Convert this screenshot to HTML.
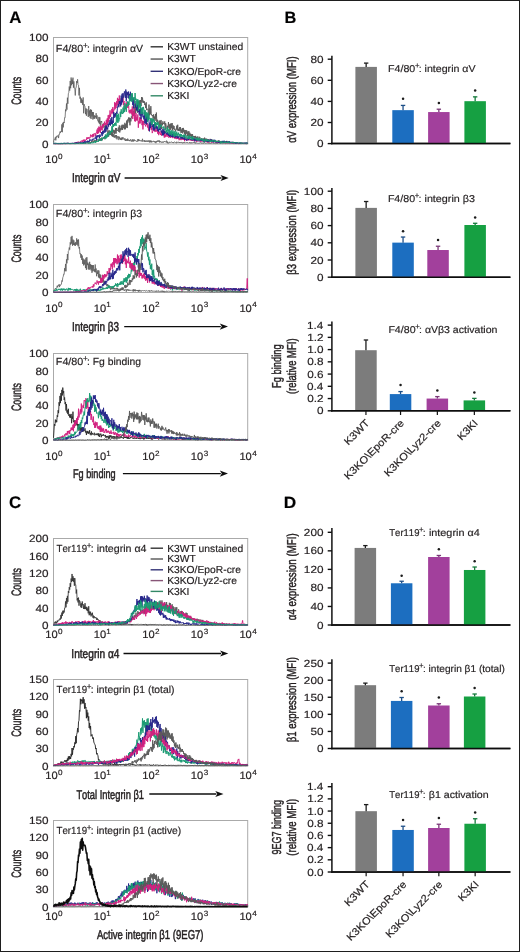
<!DOCTYPE html>
<html><head><meta charset="utf-8"><style>
html,body{margin:0;padding:0;background:#fff;}
svg{display:block;}
text{font-family:"Liberation Sans",sans-serif;font-kerning:none;text-rendering:geometricPrecision;}
text:not([stroke]){stroke:#231f20;stroke-width:0.18px;}
</style></head><body>
<svg width="520" height="952" viewBox="0 0 520 952">
<defs><filter id="soft" x="0" y="0" width="100%" height="100%" filterUnits="userSpaceOnUse"><feGaussianBlur stdDeviation="0.35"/></filter></defs>
<rect width="520" height="952" fill="#fff"/>
<g filter="url(#soft)">
<rect width="520" height="952" fill="#fff"/>
<text transform="translate(9.18,23.00) scale(1.0076,1)" font-size="16.715" font-weight="bold" fill="#000">A</text><text transform="translate(284.50,23.30) scale(1.0072,1)" font-size="16.279" font-weight="bold" fill="#000">B</text><text transform="translate(9.11,508.00) scale(0.9978,1)" font-size="16.861" font-weight="bold" fill="#000">C</text><text transform="translate(283.84,507.90) scale(1.0617,1)" font-size="16.279" font-weight="bold" fill="#000">D</text><rect x="53.5" y="37.5" width="194.2" height="106.5" fill="none" stroke="#aaaaaa" stroke-width="1"/><text transform="translate(41.94,147.60) scale(1.1200,1)" font-size="10.465" fill="#231f20">0</text><text transform="translate(35.42,126.30) scale(1.1200,1)" font-size="10.465" fill="#231f20">20</text><text transform="translate(35.42,105.00) scale(1.1200,1)" font-size="10.465" fill="#231f20">40</text><text transform="translate(35.42,83.70) scale(1.1200,1)" font-size="10.465" fill="#231f20">60</text><text transform="translate(35.42,62.40) scale(1.1200,1)" font-size="10.465" fill="#231f20">80</text><text transform="translate(28.90,41.10) scale(1.1200,1)" font-size="10.465" fill="#231f20">100</text><text transform="translate(45.20,163.10) scale(1.0500,1)" font-size="10.611" fill="#231f20">10</text><text transform="translate(58.03,158.60) scale(1.0600,1)" font-size="7.704" fill="#231f20">0</text><text transform="translate(93.75,163.10) scale(1.0500,1)" font-size="10.611" fill="#231f20">10</text><text transform="translate(106.28,158.60) scale(1.0600,1)" font-size="7.704" fill="#231f20">1</text><text transform="translate(142.30,163.10) scale(1.0500,1)" font-size="10.611" fill="#231f20">10</text><text transform="translate(155.04,158.60) scale(1.0600,1)" font-size="7.704" fill="#231f20">2</text><text transform="translate(190.85,163.10) scale(1.0500,1)" font-size="10.611" fill="#231f20">10</text><text transform="translate(203.69,158.60) scale(1.0600,1)" font-size="7.704" fill="#231f20">3</text><text transform="translate(239.40,163.10) scale(1.0500,1)" font-size="10.611" fill="#231f20">10</text><text transform="translate(252.36,158.60) scale(1.0600,1)" font-size="7.704" fill="#231f20">4</text><text transform="translate(55.82,52.30) scale(1.0422,1)" font-size="10.320" fill="#231f20">F4/80</text><text x="83.01" y="48.17" font-size="8.050" fill="#231f20">+</text><text transform="translate(86.96,52.30) scale(1.0125,1)" font-size="10.320" fill="#231f20">: integrin αV</text><line x1="150.6" y1="46.80" x2="163.0" y2="46.80" stroke="#333333" stroke-width="1.4"/><text transform="translate(167.15,50.20) scale(1.0132,1)" font-size="10.175" fill="#231f20">K3WT unstained</text><line x1="150.6" y1="59.05" x2="163.0" y2="59.05" stroke="#555555" stroke-width="1.4"/><text transform="translate(167.15,62.45) scale(1.0132,1)" font-size="10.175" fill="#231f20">K3WT</text><line x1="150.6" y1="71.30" x2="163.0" y2="71.30" stroke="#333377" stroke-width="1.4"/><text transform="translate(167.15,74.70) scale(1.0132,1)" font-size="10.175" fill="#231f20">K3KO/EpoR-cre</text><line x1="150.6" y1="83.55" x2="163.0" y2="83.55" stroke="#885577" stroke-width="1.4"/><text transform="translate(167.15,86.95) scale(1.0132,1)" font-size="10.175" fill="#231f20">K3KO/Lyz2-cre</text><line x1="150.6" y1="95.80" x2="163.0" y2="95.80" stroke="#338866" stroke-width="1.4"/><text transform="translate(167.15,99.20) scale(1.0132,1)" font-size="10.175" fill="#231f20">K3KI</text><text transform="translate(71.88,181.90) scale(0.7815,1)" font-size="12.791" fill="#231f20" stroke="#231f20" stroke-width="0.5">Integrin αV</text><line x1="124.6" y1="178.0" x2="221.5" y2="178.0" stroke="#111" stroke-width="1.3"/><path d="M228.7,178.0 L220.5,174.9 L222.5,178.0 L220.5,181.1 Z" fill="#111"/><text transform="translate(21.00,104.80) rotate(-90) scale(0.6460,1)" font-size="13.663" fill="#231f20" stroke="#231f20" stroke-width="0.5">Counts</text><path d="M53.50,142.57 L53.96,140.31 L54.43,139.05 L54.89,139.40 L55.35,137.24 L55.82,140.39 L56.28,136.35 L56.74,137.41 L57.21,135.73 L57.67,136.31 L58.13,135.42 L58.60,138.08 L59.06,134.01 L59.53,134.25 L59.99,131.66 L60.45,132.72 L60.92,131.26 L61.38,131.94 L61.84,124.36 L62.31,132.24 L62.77,122.80 L63.23,127.41 L63.70,121.93 L64.16,123.02 L64.62,117.63 L65.09,117.81 L65.55,109.54 L66.01,111.21 L66.48,103.51 L66.94,109.66 L67.40,97.69 L67.87,103.80 L68.33,93.75 L68.79,92.65 L69.26,86.52 L69.72,90.63 L70.19,80.95 L70.65,88.26 L71.11,77.49 L71.58,85.24 L72.04,79.54 L72.50,83.90 L72.97,77.63 L73.43,87.67 L73.89,81.39 L74.36,88.32 L74.82,89.11 L75.28,95.47 L75.75,87.71 L76.21,87.54 L76.67,81.10 L77.14,83.03 L77.60,79.29 L78.06,84.64 L78.53,85.10 L78.99,95.43 L79.46,87.86 L79.92,98.64 L80.38,96.77 L80.85,102.78 L81.31,98.36 L81.77,103.12 L82.24,99.77 L82.70,104.88 L83.16,97.41 L83.63,113.28 L84.09,104.11 L84.55,105.63 L85.02,106.66 L85.48,114.19 L85.94,108.30 L86.41,115.75 L86.87,108.92 L87.33,110.98 L87.80,111.85 L88.26,117.03 L88.72,106.02 L89.19,116.05 L89.65,110.39 L90.12,117.83 L90.58,109.33 L91.04,118.96 L91.51,109.86 L91.97,116.44 L92.43,111.97 L92.90,119.54 L93.36,112.13 L93.82,118.70 L94.29,115.29 L94.75,118.85 L95.21,115.86 L95.68,117.39 L96.14,113.18 L96.60,118.77 L97.07,115.40 L97.53,120.27 L97.99,120.00 L98.46,122.45 L98.92,116.90 L99.38,123.84 L99.85,117.29 L100.31,125.65 L100.78,121.27 L101.24,122.27 L101.70,121.04 L102.17,126.81 L102.63,125.26 L103.09,128.19 L103.56,123.35 L104.02,126.48 L104.48,126.02 L104.95,128.63 L105.41,124.65 L105.87,130.85 L106.34,126.97 L106.80,129.18 L107.26,129.96 L107.73,134.54 L108.19,130.58 L108.65,133.86 L109.12,130.07 L109.58,133.14 L110.05,130.82 L110.51,134.70 L110.97,131.38 L111.44,135.02 L111.90,132.56 L112.36,136.04 L112.83,134.22 L113.29,137.01 L113.75,134.15 L114.22,137.77 L114.68,135.40 L115.14,137.27 L115.61,135.09 L116.07,138.40 L116.53,135.05 L117.00,139.43 L117.46,136.41 L117.92,137.50 L118.39,136.39 L118.85,140.09 L119.31,136.67 L119.78,138.76 L120.24,137.93 L120.71,140.02 L121.17,137.71 L121.63,140.08 L122.10,137.34 L122.56,139.38 L123.02,137.22 L123.49,139.26 L123.95,139.69 L124.41,139.90 L124.88,138.17 L125.34,140.97 L125.80,139.33 L126.27,140.74 L126.73,139.21 L127.19,141.03 L127.66,138.59 L128.12,140.58 L128.58,139.66 L129.05,141.03 L129.51,140.14 L129.97,141.23 L130.44,139.31 L130.90,140.73 L131.37,140.33 L131.83,141.75 L132.29,139.34 L132.76,141.39 L133.22,139.64 L133.68,141.50 L134.15,139.33 L134.61,140.83 L135.07,140.28 L135.54,140.81 L136.00,140.46 L136.46,141.55 L136.93,141.10 L137.39,141.64 L137.85,139.06 L138.32,141.22 L138.78,139.09 L139.24,140.88 L139.71,140.22 L140.17,141.17 L140.64,140.48 L141.10,141.20 L141.56,140.52 L142.03,141.52 L142.49,138.80 L142.95,141.58 L143.42,140.71 L143.88,141.19 L144.34,140.10 L144.81,142.03 L145.27,140.64 L145.73,141.75 L146.20,140.67 L146.66,141.64 L147.12,140.51 L147.59,141.76 L148.05,140.78 L148.51,141.60 L148.98,140.23 L149.44,142.41 L149.90,140.68 L150.37,142.22 L150.83,140.38 L151.30,142.48 L151.76,140.94 L152.22,142.08 L152.69,141.66 L153.15,141.83 L153.61,140.84 L154.08,142.00 L154.54,141.28 L155.00,142.62 L155.47,141.44 L155.93,143.20 L156.39,141.20 L156.86,142.04 L157.32,140.60 L157.78,141.74 L158.25,140.57 L158.71,141.63 L159.17,140.28 L159.64,142.48 L160.10,141.03 L160.56,142.10 L161.03,142.44 L161.49,142.57 L161.96,141.51 L162.42,142.53 L162.88,141.80 L163.35,142.59 L163.81,141.50 L164.27,142.06 L164.74,141.28 L165.20,142.01 L165.66,141.84 L166.13,142.24 L166.59,140.64 L167.05,143.04 L167.52,141.65 L167.98,143.42 L168.44,142.85 L168.91,143.24 L169.37,141.85 L169.83,142.49 L170.30,141.93 L170.76,142.49 L171.23,141.84 L171.69,142.05 L172.15,142.29 L172.62,142.98 L173.08,142.09 L173.54,143.11 L174.01,142.17 L174.47,141.95 L174.93,142.13 L175.40,142.52 L175.86,142.59 L176.32,143.24 L176.79,141.72 L177.25,142.49 L177.71,142.39 L178.18,142.06 L178.64,142.07 L179.10,142.97 L179.57,142.11 L180.03,142.94 L180.49,142.52 L180.96,142.95 L181.42,141.96 L181.89,142.78 L182.35,142.58 L182.81,143.41 L183.28,142.18 L183.74,142.69 L184.20,142.02 L184.67,142.99 L185.13,142.66 L185.59,142.75 L186.06,142.38 L186.52,142.79 L186.98,142.03 L187.45,142.84 L187.91,142.65 L188.37,143.26 L188.84,142.70 L189.30,142.96 L189.76,142.16 L190.23,143.32 L190.69,142.51 L191.15,143.24 L191.62,142.46 L192.08,143.29 L192.55,142.63 L193.01,142.87 L193.47,142.33 L193.94,143.09 L194.40,142.29 L194.86,143.26 L195.33,142.37 L195.79,143.48 L196.25,142.75 L196.72,142.90 L197.18,142.87 L197.64,143.37 L198.11,142.87 L198.57,143.38 L199.03,142.74 L199.50,143.19 L199.96,142.91 L200.42,142.76 L200.89,142.32 L201.35,143.47 L201.82,142.72 L202.28,143.24 L202.74,142.87 L203.21,143.54 L203.67,142.64 L204.13,143.29 L204.60,142.41 L205.06,143.27 L205.52,142.99 L205.99,143.50 L206.45,142.81 L206.91,143.04 L207.38,143.03 L207.84,143.20 L208.30,142.49 L208.77,143.58 L209.23,142.50 L209.69,143.46 L210.16,142.82 L210.62,143.47 L211.08,142.88 L211.55,143.39 L212.01,142.78 L212.48,142.88 L212.94,143.27 L213.40,143.49 L213.87,143.19 L214.33,143.38 L214.79,143.11 L215.26,143.52 L215.72,143.04 L216.18,143.52 L216.65,142.81 L217.11,143.66 L217.57,143.11 L218.04,143.35 L218.50,142.75 L218.96,143.58 L219.43,143.24 L219.89,143.31 L220.35,143.08 L220.82,143.70 L221.28,142.83 L221.74,143.36 L222.21,143.17 L222.67,143.57 L223.14,143.11 L223.60,143.63 L224.06,143.13 L224.53,143.40 L224.99,143.25 L225.45,143.70 L225.92,142.86 L226.38,143.52 L226.84,143.01 L227.31,143.45 L227.77,143.46 L228.23,143.49 L228.70,143.31 L229.16,143.70 L229.62,143.25 L230.09,143.63 L230.55,143.20 L231.01,143.35 L231.48,143.09 L231.94,143.56 L232.41,143.27 L232.87,143.52 L233.33,143.39 L233.80,143.70 L234.26,143.30 L234.72,143.60 L235.19,143.36 L235.65,143.56 L236.11,143.25 L236.58,143.70 L237.04,143.20 L237.50,143.44 L237.97,143.21 L238.43,143.70 L238.89,143.57 L239.36,143.70 L239.82,143.21 L240.28,143.64 L240.75,143.34 L241.21,143.70 L241.67,143.33 L242.14,143.48 L242.60,143.32 L243.07,143.70 L243.53,143.04 L243.99,143.59 L244.46,143.52 L244.92,143.52 L245.38,143.31 L245.85,143.49 L246.31,143.25 L246.77,143.70 L247.24,143.28 L247.70,143.70" fill="none" stroke="#555" stroke-width="0.75" stroke-linejoin="round" opacity="1.0"/><path d="M53.50,143.70 L53.96,143.70 L54.43,143.58 L54.89,143.70 L55.35,143.70 L55.82,143.70 L56.28,143.62 L56.74,143.70 L57.21,143.65 L57.67,143.70 L58.13,143.69 L58.60,143.70 L59.06,143.58 L59.53,143.70 L59.99,143.66 L60.45,143.70 L60.92,143.66 L61.38,143.70 L61.84,143.55 L62.31,143.70 L62.77,143.60 L63.23,143.70 L63.70,143.64 L64.16,143.70 L64.62,143.59 L65.09,143.70 L65.55,143.64 L66.01,143.67 L66.48,143.57 L66.94,143.70 L67.40,143.43 L67.87,143.70 L68.33,143.47 L68.79,143.70 L69.26,143.64 L69.72,143.68 L70.19,143.42 L70.65,143.70 L71.11,143.49 L71.58,143.66 L72.04,143.47 L72.50,143.62 L72.97,143.60 L73.43,143.63 L73.89,143.57 L74.36,143.69 L74.82,143.46 L75.28,143.70 L75.75,143.55 L76.21,143.65 L76.67,143.35 L77.14,143.52 L77.60,143.43 L78.06,143.65 L78.53,143.36 L78.99,143.57 L79.46,143.36 L79.92,143.70 L80.38,143.33 L80.85,143.41 L81.31,143.06 L81.77,143.49 L82.24,143.22 L82.70,143.48 L83.16,143.34 L83.63,143.12 L84.09,143.08 L84.55,143.53 L85.02,142.90 L85.48,143.54 L85.94,142.69 L86.41,142.92 L86.87,142.46 L87.33,143.15 L87.80,142.37 L88.26,143.46 L88.72,142.28 L89.19,142.20 L89.65,142.00 L90.12,143.27 L90.58,141.99 L91.04,143.01 L91.51,140.95 L91.97,142.06 L92.43,140.38 L92.90,141.49 L93.36,140.75 L93.82,141.87 L94.29,140.20 L94.75,141.95 L95.21,140.44 L95.68,142.21 L96.14,139.76 L96.60,141.42 L97.07,139.64 L97.53,139.89 L97.99,139.83 L98.46,141.13 L98.92,139.69 L99.38,140.95 L99.85,138.36 L100.31,140.86 L100.78,138.31 L101.24,139.89 L101.70,137.55 L102.17,140.42 L102.63,138.70 L103.09,138.49 L103.56,138.27 L104.02,138.44 L104.48,136.12 L104.95,139.30 L105.41,136.25 L105.87,137.10 L106.34,136.24 L106.80,136.44 L107.26,133.74 L107.73,136.67 L108.19,134.28 L108.65,136.52 L109.12,133.89 L109.58,134.97 L110.05,132.41 L110.51,134.88 L110.97,132.12 L111.44,135.58 L111.90,132.27 L112.36,136.59 L112.83,131.42 L113.29,132.60 L113.75,129.73 L114.22,134.31 L114.68,130.36 L115.14,133.30 L115.61,128.06 L116.07,133.67 L116.53,128.10 L117.00,130.96 L117.46,130.11 L117.92,130.61 L118.39,127.51 L118.85,131.91 L119.31,125.37 L119.78,132.46 L120.24,128.12 L120.71,130.37 L121.17,125.67 L121.63,129.70 L122.10,124.74 L122.56,130.00 L123.02,124.87 L123.49,128.10 L123.95,124.74 L124.41,129.32 L124.88,122.81 L125.34,129.29 L125.80,124.08 L126.27,127.50 L126.73,120.55 L127.19,128.05 L127.66,119.54 L128.12,120.78 L128.58,117.51 L129.05,122.51 L129.51,117.68 L129.97,125.31 L130.44,117.97 L130.90,121.42 L131.37,116.53 L131.83,117.58 L132.29,113.46 L132.76,116.16 L133.22,111.22 L133.68,115.44 L134.15,107.30 L134.61,114.33 L135.07,103.63 L135.54,113.48 L136.00,108.52 L136.46,110.38 L136.93,104.90 L137.39,112.68 L137.85,101.54 L138.32,107.75 L138.78,100.94 L139.24,106.02 L139.71,100.29 L140.17,104.67 L140.64,100.02 L141.10,106.03 L141.56,97.01 L142.03,101.83 L142.49,97.52 L142.95,102.77 L143.42,100.78 L143.88,103.02 L144.34,101.31 L144.81,105.06 L145.27,103.55 L145.73,108.11 L146.20,102.29 L146.66,110.10 L147.12,109.04 L147.59,109.16 L148.05,109.18 L148.51,118.32 L148.98,104.59 L149.44,115.29 L149.90,108.41 L150.37,114.41 L150.83,106.16 L151.30,113.71 L151.76,115.27 L152.22,116.14 L152.69,114.98 L153.15,118.50 L153.61,114.38 L154.08,120.61 L154.54,116.63 L155.00,118.86 L155.47,114.06 L155.93,120.83 L156.39,112.56 L156.86,122.06 L157.32,119.73 L157.78,122.05 L158.25,123.14 L158.71,123.41 L159.17,120.46 L159.64,127.37 L160.10,120.93 L160.56,127.59 L161.03,119.97 L161.49,129.16 L161.96,122.97 L162.42,125.16 L162.88,121.32 L163.35,123.75 L163.81,123.09 L164.27,124.39 L164.74,121.36 L165.20,129.34 L165.66,123.18 L166.13,125.24 L166.59,126.40 L167.05,129.58 L167.52,125.80 L167.98,128.53 L168.44,122.13 L168.91,127.58 L169.37,124.44 L169.83,130.24 L170.30,123.70 L170.76,129.82 L171.23,123.44 L171.69,128.20 L172.15,123.03 L172.62,130.51 L173.08,125.37 L173.54,129.14 L174.01,125.98 L174.47,129.64 L174.93,128.79 L175.40,131.50 L175.86,129.39 L176.32,129.69 L176.79,125.64 L177.25,130.28 L177.71,124.76 L178.18,130.99 L178.64,128.89 L179.10,131.12 L179.57,127.24 L180.03,131.15 L180.49,127.21 L180.96,132.82 L181.42,129.56 L181.89,132.72 L182.35,128.00 L182.81,133.41 L183.28,127.92 L183.74,131.92 L184.20,129.84 L184.67,133.97 L185.13,130.11 L185.59,135.54 L186.06,130.00 L186.52,133.66 L186.98,130.81 L187.45,136.01 L187.91,131.96 L188.37,136.01 L188.84,131.07 L189.30,137.12 L189.76,132.65 L190.23,136.02 L190.69,133.83 L191.15,138.46 L191.62,134.23 L192.08,137.55 L192.55,134.20 L193.01,137.61 L193.47,136.14 L193.94,137.07 L194.40,136.02 L194.86,138.77 L195.33,135.86 L195.79,138.43 L196.25,137.04 L196.72,138.94 L197.18,136.36 L197.64,138.73 L198.11,138.69 L198.57,138.89 L199.03,136.63 L199.50,138.54 L199.96,137.37 L200.42,140.90 L200.89,138.94 L201.35,139.84 L201.82,138.15 L202.28,140.05 L202.74,138.82 L203.21,140.50 L203.67,138.49 L204.13,139.81 L204.60,137.61 L205.06,141.08 L205.52,138.66 L205.99,140.92 L206.45,138.70 L206.91,140.44 L207.38,138.95 L207.84,140.62 L208.30,139.50 L208.77,141.05 L209.23,139.77 L209.69,140.57 L210.16,138.86 L210.62,140.45 L211.08,139.60 L211.55,140.63 L212.01,139.53 L212.48,141.04 L212.94,139.97 L213.40,141.75 L213.87,140.54 L214.33,141.64 L214.79,140.12 L215.26,141.43 L215.72,140.74 L216.18,141.83 L216.65,141.00 L217.11,141.26 L217.57,140.91 L218.04,142.26 L218.50,140.40 L218.96,141.75 L219.43,140.99 L219.89,141.14 L220.35,141.33 L220.82,142.18 L221.28,141.14 L221.74,142.06 L222.21,141.02 L222.67,142.66 L223.14,141.54 L223.60,142.14 L224.06,141.03 L224.53,142.17 L224.99,141.07 L225.45,142.24 L225.92,141.47 L226.38,142.83 L226.84,140.86 L227.31,142.53 L227.77,141.64 L228.23,142.46 L228.70,141.45 L229.16,143.12 L229.62,141.93 L230.09,143.04 L230.55,142.16 L231.01,143.32 L231.48,143.05 L231.94,143.12 L232.41,141.83 L232.87,143.11 L233.33,142.35 L233.80,143.10 L234.26,142.19 L234.72,143.21 L235.19,142.61 L235.65,143.11 L236.11,142.39 L236.58,143.14 L237.04,142.68 L237.50,143.62 L237.97,143.08 L238.43,143.40 L238.89,142.96 L239.36,143.57 L239.82,142.86 L240.28,143.25 L240.75,142.63 L241.21,143.67 L241.67,143.09 L242.14,143.17 L242.60,143.21 L243.07,143.52 L243.53,143.39 L243.99,143.42 L244.46,143.41 L244.92,143.51 L245.38,143.23 L245.85,143.63 L246.31,143.52 L246.77,143.67 L247.24,143.37 L247.70,143.55" fill="none" stroke="#5a5a5a" stroke-width="0.95" stroke-linejoin="round" opacity="1.0"/><path d="M53.50,143.63 L53.96,143.70 L54.43,143.70 L54.89,143.70 L55.35,143.70 L55.82,143.70 L56.28,143.68 L56.74,143.70 L57.21,143.70 L57.67,143.70 L58.13,143.61 L58.60,143.70 L59.06,143.57 L59.53,143.70 L59.99,143.58 L60.45,143.70 L60.92,143.51 L61.38,143.70 L61.84,143.60 L62.31,143.70 L62.77,143.66 L63.23,143.70 L63.70,143.45 L64.16,143.70 L64.62,143.47 L65.09,143.70 L65.55,143.65 L66.01,143.70 L66.48,143.58 L66.94,143.67 L67.40,143.25 L67.87,143.43 L68.33,143.40 L68.79,143.62 L69.26,143.42 L69.72,143.48 L70.19,143.46 L70.65,143.68 L71.11,143.28 L71.58,143.50 L72.04,143.12 L72.50,143.70 L72.97,143.02 L73.43,143.39 L73.89,142.86 L74.36,143.15 L74.82,142.94 L75.28,143.16 L75.75,142.25 L76.21,143.33 L76.67,141.97 L77.14,142.82 L77.60,141.84 L78.06,143.21 L78.53,141.70 L78.99,142.47 L79.46,141.84 L79.92,142.86 L80.38,141.64 L80.85,141.91 L81.31,140.71 L81.77,141.53 L82.24,140.54 L82.70,141.93 L83.16,139.88 L83.63,141.47 L84.09,139.41 L84.55,141.57 L85.02,139.96 L85.48,140.60 L85.94,139.60 L86.41,140.09 L86.87,137.35 L87.33,139.13 L87.80,137.46 L88.26,138.62 L88.72,137.25 L89.19,138.67 L89.65,137.59 L90.12,138.10 L90.58,134.65 L91.04,135.80 L91.51,135.27 L91.97,137.15 L92.43,134.32 L92.90,137.23 L93.36,133.86 L93.82,136.51 L94.29,133.46 L94.75,133.93 L95.21,133.39 L95.68,136.18 L96.14,132.62 L96.60,132.95 L97.07,129.56 L97.53,134.00 L97.99,127.89 L98.46,133.29 L98.92,126.53 L99.38,131.47 L99.85,126.92 L100.31,132.87 L100.78,125.47 L101.24,129.79 L101.70,126.53 L102.17,130.56 L102.63,124.18 L103.09,127.32 L103.56,124.35 L104.02,125.90 L104.48,121.66 L104.95,124.99 L105.41,123.29 L105.87,124.55 L106.34,119.82 L106.80,126.90 L107.26,118.34 L107.73,124.84 L108.19,115.16 L108.65,122.13 L109.12,114.84 L109.58,118.52 L110.05,110.39 L110.51,116.89 L110.97,114.05 L111.44,113.60 L111.90,108.94 L112.36,113.32 L112.83,107.12 L113.29,114.29 L113.75,109.63 L114.22,110.08 L114.68,102.22 L115.14,109.23 L115.61,102.88 L116.07,108.03 L116.53,101.30 L117.00,105.80 L117.46,97.85 L117.92,104.68 L118.39,98.83 L118.85,106.09 L119.31,95.47 L119.78,103.38 L120.24,99.84 L120.71,104.27 L121.17,98.19 L121.63,101.37 L122.10,98.34 L122.56,101.47 L123.02,97.09 L123.49,105.19 L123.95,101.22 L124.41,101.55 L124.88,101.78 L125.34,109.31 L125.80,104.32 L126.27,110.46 L126.73,102.22 L127.19,107.88 L127.66,106.91 L128.12,107.59 L128.58,103.46 L129.05,112.45 L129.51,110.16 L129.97,113.53 L130.44,109.70 L130.90,113.12 L131.37,109.41 L131.83,114.38 L132.29,106.43 L132.76,119.06 L133.22,112.04 L133.68,115.90 L134.15,108.30 L134.61,121.21 L135.07,114.85 L135.54,121.49 L136.00,113.09 L136.46,120.42 L136.93,117.10 L137.39,120.46 L137.85,114.49 L138.32,127.71 L138.78,120.93 L139.24,123.36 L139.71,117.28 L140.17,123.45 L140.64,117.32 L141.10,121.00 L141.56,119.29 L142.03,125.17 L142.49,120.78 L142.95,129.43 L143.42,120.84 L143.88,124.54 L144.34,123.63 L144.81,124.83 L145.27,124.88 L145.73,126.47 L146.20,123.13 L146.66,124.85 L147.12,123.01 L147.59,127.51 L148.05,124.44 L148.51,130.59 L148.98,126.78 L149.44,130.48 L149.90,128.02 L150.37,127.99 L150.83,124.83 L151.30,129.83 L151.76,126.37 L152.22,133.10 L152.69,131.55 L153.15,130.32 L153.61,126.99 L154.08,131.00 L154.54,127.02 L155.00,132.06 L155.47,129.60 L155.93,131.25 L156.39,129.24 L156.86,131.65 L157.32,129.82 L157.78,133.79 L158.25,131.01 L158.71,135.17 L159.17,131.67 L159.64,133.24 L160.10,133.47 L160.56,134.93 L161.03,131.00 L161.49,135.66 L161.96,133.48 L162.42,134.60 L162.88,131.58 L163.35,134.62 L163.81,132.28 L164.27,137.57 L164.74,131.00 L165.20,137.21 L165.66,134.59 L166.13,135.67 L166.59,133.73 L167.05,136.95 L167.52,134.48 L167.98,135.84 L168.44,134.80 L168.91,137.81 L169.37,134.59 L169.83,136.93 L170.30,135.29 L170.76,137.95 L171.23,135.91 L171.69,137.04 L172.15,135.65 L172.62,137.86 L173.08,137.42 L173.54,137.63 L174.01,135.16 L174.47,138.44 L174.93,137.11 L175.40,138.52 L175.86,136.68 L176.32,139.12 L176.79,136.78 L177.25,138.90 L177.71,138.02 L178.18,138.25 L178.64,137.00 L179.10,140.23 L179.57,137.93 L180.03,139.76 L180.49,139.27 L180.96,140.15 L181.42,136.97 L181.89,139.79 L182.35,137.98 L182.81,139.64 L183.28,138.29 L183.74,140.04 L184.20,138.97 L184.67,141.22 L185.13,138.75 L185.59,139.63 L186.06,137.73 L186.52,139.59 L186.98,139.11 L187.45,140.58 L187.91,138.12 L188.37,139.91 L188.84,138.91 L189.30,140.30 L189.76,138.99 L190.23,140.07 L190.69,140.03 L191.15,140.76 L191.62,139.18 L192.08,140.80 L192.55,138.53 L193.01,140.77 L193.47,139.51 L193.94,141.32 L194.40,140.91 L194.86,140.52 L195.33,139.83 L195.79,140.55 L196.25,140.11 L196.72,141.93 L197.18,139.71 L197.64,141.33 L198.11,139.66 L198.57,140.58 L199.03,139.56 L199.50,141.35 L199.96,140.15 L200.42,141.71 L200.89,139.58 L201.35,141.46 L201.82,139.01 L202.28,141.17 L202.74,141.09 L203.21,141.82 L203.67,140.97 L204.13,141.13 L204.60,140.46 L205.06,142.06 L205.52,140.67 L205.99,141.27 L206.45,140.41 L206.91,141.84 L207.38,140.58 L207.84,142.72 L208.30,141.09 L208.77,142.09 L209.23,141.40 L209.69,142.19 L210.16,141.26 L210.62,141.84 L211.08,141.34 L211.55,142.74 L212.01,141.75 L212.48,142.27 L212.94,141.17 L213.40,142.09 L213.87,141.57 L214.33,142.11 L214.79,141.64 L215.26,142.61 L215.72,141.21 L216.18,142.52 L216.65,141.74 L217.11,142.90 L217.57,141.58 L218.04,142.85 L218.50,142.44 L218.96,143.01 L219.43,141.92 L219.89,142.49 L220.35,141.76 L220.82,142.48 L221.28,142.31 L221.74,142.45 L222.21,141.85 L222.67,142.74 L223.14,142.27 L223.60,142.76 L224.06,142.49 L224.53,142.44 L224.99,142.31 L225.45,142.99 L225.92,142.97 L226.38,143.07 L226.84,142.44 L227.31,142.71 L227.77,142.38 L228.23,143.13 L228.70,142.79 L229.16,142.92 L229.62,142.48 L230.09,142.92 L230.55,142.27 L231.01,142.89 L231.48,142.92 L231.94,143.38 L232.41,142.68 L232.87,143.34 L233.33,142.73 L233.80,143.31 L234.26,142.72 L234.72,143.34 L235.19,142.89 L235.65,143.35 L236.11,142.96 L236.58,143.44 L237.04,142.88 L237.50,143.40 L237.97,143.31 L238.43,143.66 L238.89,143.03 L239.36,143.51 L239.82,143.21 L240.28,143.67 L240.75,143.13 L241.21,143.35 L241.67,143.12 L242.14,143.63 L242.60,143.28 L243.07,143.57 L243.53,143.30 L243.99,143.66 L244.46,143.36 L244.92,143.36 L245.38,143.14 L245.85,143.61 L246.31,143.32 L246.77,143.48 L247.24,143.25 L247.70,143.52" fill="none" stroke="#d2207e" stroke-width="0.95" stroke-linejoin="round" opacity="1.0"/><path d="M53.50,143.39 L53.96,143.67 L54.43,143.35 L54.89,143.43 L55.35,143.16 L55.82,143.65 L56.28,143.34 L56.74,143.67 L57.21,143.19 L57.67,143.70 L58.13,143.12 L58.60,143.57 L59.06,143.24 L59.53,143.55 L59.99,143.31 L60.45,143.68 L60.92,143.27 L61.38,143.49 L61.84,143.26 L62.31,143.60 L62.77,143.23 L63.23,143.70 L63.70,143.28 L64.16,143.50 L64.62,143.27 L65.09,143.47 L65.55,143.15 L66.01,143.70 L66.48,143.20 L66.94,143.50 L67.40,143.11 L67.87,143.46 L68.33,143.04 L68.79,143.65 L69.26,143.01 L69.72,143.58 L70.19,143.38 L70.65,143.43 L71.11,143.20 L71.58,143.36 L72.04,142.92 L72.50,143.23 L72.97,143.03 L73.43,143.61 L73.89,143.03 L74.36,143.15 L74.82,142.96 L75.28,143.05 L75.75,142.56 L76.21,143.35 L76.67,142.46 L77.14,143.45 L77.60,142.71 L78.06,143.38 L78.53,142.93 L78.99,143.30 L79.46,142.49 L79.92,142.62 L80.38,142.26 L80.85,143.41 L81.31,142.48 L81.77,142.78 L82.24,142.43 L82.70,143.27 L83.16,142.02 L83.63,143.11 L84.09,141.89 L84.55,142.99 L85.02,140.98 L85.48,142.83 L85.94,141.64 L86.41,142.09 L86.87,141.19 L87.33,142.29 L87.80,140.59 L88.26,142.23 L88.72,141.08 L89.19,141.98 L89.65,139.46 L90.12,140.49 L90.58,139.70 L91.04,140.70 L91.51,139.83 L91.97,140.34 L92.43,138.91 L92.90,139.74 L93.36,138.58 L93.82,139.53 L94.29,138.90 L94.75,138.83 L95.21,137.40 L95.68,138.64 L96.14,135.77 L96.60,140.14 L97.07,135.49 L97.53,137.21 L97.99,135.09 L98.46,136.50 L98.92,135.23 L99.38,138.11 L99.85,134.59 L100.31,136.75 L100.78,135.44 L101.24,134.65 L101.70,132.01 L102.17,136.21 L102.63,131.11 L103.09,134.18 L103.56,130.68 L104.02,132.75 L104.48,128.65 L104.95,132.57 L105.41,126.51 L105.87,131.89 L106.34,125.57 L106.80,128.80 L107.26,127.49 L107.73,129.56 L108.19,124.05 L108.65,126.61 L109.12,122.42 L109.58,124.92 L110.05,119.93 L110.51,125.56 L110.97,118.30 L111.44,124.16 L111.90,116.91 L112.36,124.09 L112.83,120.69 L113.29,122.80 L113.75,111.98 L114.22,117.80 L114.68,113.72 L115.14,116.35 L115.61,112.97 L116.07,117.41 L116.53,111.78 L117.00,114.16 L117.46,106.69 L117.92,106.94 L118.39,104.28 L118.85,107.29 L119.31,101.11 L119.78,104.06 L120.24,101.47 L120.71,106.45 L121.17,95.58 L121.63,104.66 L122.10,93.74 L122.56,102.31 L123.02,93.18 L123.49,97.53 L123.95,96.04 L124.41,91.40 L124.88,93.78 L125.34,97.98 L125.80,89.53 L126.27,101.46 L126.73,91.59 L127.19,95.04 L127.66,92.31 L128.12,98.00 L128.58,91.52 L129.05,98.82 L129.51,93.90 L129.97,95.65 L130.44,91.77 L130.90,101.06 L131.37,96.59 L131.83,99.36 L132.29,94.84 L132.76,105.19 L133.22,97.68 L133.68,108.26 L134.15,101.97 L134.61,101.77 L135.07,101.02 L135.54,107.53 L136.00,105.01 L136.46,110.19 L136.93,105.15 L137.39,111.12 L137.85,103.37 L138.32,112.16 L138.78,110.73 L139.24,114.62 L139.71,109.19 L140.17,116.28 L140.64,107.15 L141.10,119.02 L141.56,109.37 L142.03,115.47 L142.49,112.30 L142.95,117.26 L143.42,115.82 L143.88,119.45 L144.34,112.16 L144.81,123.31 L145.27,113.83 L145.73,123.58 L146.20,115.08 L146.66,124.25 L147.12,113.60 L147.59,120.94 L148.05,116.40 L148.51,119.55 L148.98,120.72 L149.44,131.38 L149.90,122.66 L150.37,128.05 L150.83,121.24 L151.30,124.80 L151.76,123.60 L152.22,127.00 L152.69,124.16 L153.15,129.67 L153.61,124.23 L154.08,130.49 L154.54,123.45 L155.00,129.31 L155.47,123.94 L155.93,128.19 L156.39,125.89 L156.86,129.04 L157.32,126.51 L157.78,131.00 L158.25,128.80 L158.71,131.70 L159.17,128.27 L159.64,129.95 L160.10,127.27 L160.56,130.13 L161.03,129.85 L161.49,132.54 L161.96,130.68 L162.42,135.35 L162.88,128.67 L163.35,135.32 L163.81,129.53 L164.27,133.95 L164.74,130.83 L165.20,133.15 L165.66,131.88 L166.13,133.72 L166.59,133.04 L167.05,134.69 L167.52,131.92 L167.98,134.93 L168.44,133.51 L168.91,136.00 L169.37,132.64 L169.83,136.84 L170.30,133.22 L170.76,135.94 L171.23,133.60 L171.69,136.86 L172.15,133.84 L172.62,137.13 L173.08,133.57 L173.54,136.37 L174.01,134.08 L174.47,137.45 L174.93,135.61 L175.40,137.47 L175.86,135.40 L176.32,136.87 L176.79,136.27 L177.25,138.00 L177.71,136.11 L178.18,138.43 L178.64,136.10 L179.10,136.20 L179.57,136.42 L180.03,137.49 L180.49,136.51 L180.96,138.97 L181.42,137.00 L181.89,137.97 L182.35,136.89 L182.81,138.93 L183.28,137.75 L183.74,138.83 L184.20,135.26 L184.67,139.91 L185.13,138.94 L185.59,139.42 L186.06,138.62 L186.52,140.68 L186.98,139.35 L187.45,139.26 L187.91,138.02 L188.37,140.22 L188.84,137.66 L189.30,138.95 L189.76,138.04 L190.23,139.61 L190.69,139.00 L191.15,139.78 L191.62,139.09 L192.08,140.38 L192.55,138.18 L193.01,140.20 L193.47,137.81 L193.94,140.04 L194.40,138.54 L194.86,141.45 L195.33,138.95 L195.79,140.41 L196.25,138.76 L196.72,140.73 L197.18,140.22 L197.64,140.32 L198.11,140.53 L198.57,141.25 L199.03,140.51 L199.50,140.89 L199.96,139.16 L200.42,140.46 L200.89,140.27 L201.35,140.69 L201.82,139.45 L202.28,141.08 L202.74,139.38 L203.21,141.18 L203.67,139.28 L204.13,142.12 L204.60,139.77 L205.06,141.06 L205.52,140.92 L205.99,141.17 L206.45,140.16 L206.91,141.88 L207.38,140.03 L207.84,141.88 L208.30,139.56 L208.77,141.85 L209.23,139.90 L209.69,141.38 L210.16,140.00 L210.62,141.04 L211.08,139.23 L211.55,141.54 L212.01,140.20 L212.48,141.88 L212.94,140.67 L213.40,142.47 L213.87,139.80 L214.33,141.19 L214.79,139.79 L215.26,142.04 L215.72,141.68 L216.18,142.66 L216.65,141.01 L217.11,142.10 L217.57,141.80 L218.04,142.43 L218.50,141.81 L218.96,142.87 L219.43,140.79 L219.89,142.48 L220.35,141.94 L220.82,142.69 L221.28,141.37 L221.74,142.40 L222.21,140.85 L222.67,142.26 L223.14,141.65 L223.60,142.93 L224.06,140.67 L224.53,142.65 L224.99,141.81 L225.45,142.18 L225.92,141.97 L226.38,141.93 L226.84,141.20 L227.31,142.32 L227.77,142.82 L228.23,142.69 L228.70,141.66 L229.16,142.85 L229.62,141.30 L230.09,143.22 L230.55,142.13 L231.01,142.52 L231.48,142.17 L231.94,142.62 L232.41,142.24 L232.87,143.14 L233.33,142.54 L233.80,143.21 L234.26,142.58 L234.72,142.78 L235.19,142.27 L235.65,143.65 L236.11,142.11 L236.58,143.36 L237.04,142.93 L237.50,142.68 L237.97,142.72 L238.43,143.21 L238.89,142.61 L239.36,143.52 L239.82,142.76 L240.28,143.31 L240.75,142.95 L241.21,143.24 L241.67,142.76 L242.14,143.25 L242.60,143.27 L243.07,143.39 L243.53,142.88 L243.99,142.98 L244.46,142.79 L244.92,143.33 L245.38,143.08 L245.85,143.25 L246.31,142.48 L246.77,143.41 L247.24,143.03 L247.70,143.26" fill="none" stroke="#26268a" stroke-width="0.95" stroke-linejoin="round" opacity="1.0"/><path d="M53.50,143.42 L53.96,143.65 L54.43,143.20 L54.89,143.61 L55.35,143.24 L55.82,143.55 L56.28,143.34 L56.74,143.54 L57.21,143.29 L57.67,143.63 L58.13,143.22 L58.60,143.66 L59.06,143.31 L59.53,143.62 L59.99,143.16 L60.45,143.49 L60.92,143.26 L61.38,143.60 L61.84,143.29 L62.31,143.64 L62.77,143.34 L63.23,143.43 L63.70,143.32 L64.16,143.46 L64.62,143.18 L65.09,143.56 L65.55,143.23 L66.01,143.70 L66.48,143.28 L66.94,143.65 L67.40,143.15 L67.87,143.66 L68.33,143.27 L68.79,143.47 L69.26,143.39 L69.72,143.64 L70.19,143.07 L70.65,143.58 L71.11,143.11 L71.58,143.70 L72.04,143.24 L72.50,143.49 L72.97,143.32 L73.43,143.45 L73.89,143.27 L74.36,143.55 L74.82,143.13 L75.28,143.44 L75.75,143.10 L76.21,143.63 L76.67,143.05 L77.14,143.64 L77.60,142.94 L78.06,143.57 L78.53,143.18 L78.99,143.27 L79.46,142.70 L79.92,143.33 L80.38,142.99 L80.85,143.69 L81.31,143.00 L81.77,143.19 L82.24,142.91 L82.70,143.70 L83.16,142.95 L83.63,143.70 L84.09,142.87 L84.55,143.01 L85.02,142.94 L85.48,143.23 L85.94,142.95 L86.41,143.30 L86.87,142.74 L87.33,143.08 L87.80,142.75 L88.26,143.05 L88.72,142.83 L89.19,143.70 L89.65,142.63 L90.12,143.19 L90.58,143.33 L91.04,143.11 L91.51,142.21 L91.97,143.20 L92.43,142.51 L92.90,143.16 L93.36,142.10 L93.82,142.86 L94.29,141.57 L94.75,142.39 L95.21,140.82 L95.68,142.85 L96.14,140.82 L96.60,141.82 L97.07,141.00 L97.53,141.75 L97.99,141.13 L98.46,141.78 L98.92,138.74 L99.38,140.64 L99.85,139.10 L100.31,140.00 L100.78,138.90 L101.24,141.04 L101.70,138.20 L102.17,139.35 L102.63,137.67 L103.09,138.56 L103.56,137.04 L104.02,138.36 L104.48,136.94 L104.95,137.01 L105.41,134.48 L105.87,138.75 L106.34,135.32 L106.80,137.86 L107.26,133.42 L107.73,136.74 L108.19,132.59 L108.65,135.47 L109.12,133.99 L109.58,133.41 L110.05,131.03 L110.51,134.24 L110.97,130.82 L111.44,132.04 L111.90,126.23 L112.36,132.11 L112.83,123.95 L113.29,126.90 L113.75,124.25 L114.22,126.08 L114.68,123.00 L115.14,125.20 L115.61,122.47 L116.07,125.98 L116.53,113.64 L117.00,122.05 L117.46,114.74 L117.92,122.94 L118.39,113.76 L118.85,121.53 L119.31,118.41 L119.78,119.10 L120.24,111.66 L120.71,117.05 L121.17,109.23 L121.63,113.49 L122.10,112.81 L122.56,114.02 L123.02,107.59 L123.49,113.16 L123.95,105.52 L124.41,112.12 L124.88,103.08 L125.34,108.85 L125.80,106.86 L126.27,111.84 L126.73,104.23 L127.19,106.88 L127.66,101.34 L128.12,105.83 L128.58,101.80 L129.05,104.90 L129.51,95.80 L129.97,101.36 L130.44,99.12 L130.90,98.46 L131.37,93.46 L131.83,101.83 L132.29,93.20 L132.76,100.56 L133.22,97.99 L133.68,99.08 L134.15,96.99 L134.61,103.23 L135.07,93.00 L135.54,99.98 L136.00,98.64 L136.46,106.59 L136.93,99.37 L137.39,104.80 L137.85,99.27 L138.32,110.87 L138.78,100.47 L139.24,107.44 L139.71,105.37 L140.17,109.15 L140.64,103.34 L141.10,114.03 L141.56,108.36 L142.03,112.20 L142.49,107.38 L142.95,114.19 L143.42,106.88 L143.88,109.66 L144.34,109.88 L144.81,115.38 L145.27,110.28 L145.73,118.63 L146.20,112.06 L146.66,116.77 L147.12,113.25 L147.59,121.98 L148.05,112.46 L148.51,120.18 L148.98,114.72 L149.44,119.04 L149.90,118.69 L150.37,120.93 L150.83,117.93 L151.30,124.17 L151.76,118.39 L152.22,125.34 L152.69,118.60 L153.15,121.49 L153.61,119.11 L154.08,122.77 L154.54,120.58 L155.00,127.39 L155.47,122.01 L155.93,126.19 L156.39,122.81 L156.86,125.11 L157.32,121.87 L157.78,125.12 L158.25,122.58 L158.71,128.85 L159.17,124.97 L159.64,127.36 L160.10,125.79 L160.56,127.25 L161.03,124.49 L161.49,126.23 L161.96,126.79 L162.42,127.57 L162.88,127.69 L163.35,128.57 L163.81,126.38 L164.27,129.02 L164.74,130.18 L165.20,129.98 L165.66,127.93 L166.13,132.58 L166.59,129.94 L167.05,132.70 L167.52,126.99 L167.98,131.07 L168.44,129.45 L168.91,134.01 L169.37,129.25 L169.83,134.96 L170.30,131.27 L170.76,134.48 L171.23,130.12 L171.69,135.72 L172.15,131.48 L172.62,133.59 L173.08,130.54 L173.54,136.08 L174.01,132.26 L174.47,136.92 L174.93,131.02 L175.40,135.97 L175.86,132.66 L176.32,135.56 L176.79,131.63 L177.25,136.12 L177.71,133.60 L178.18,134.65 L178.64,132.64 L179.10,136.41 L179.57,134.15 L180.03,136.52 L180.49,133.80 L180.96,137.05 L181.42,134.19 L181.89,136.37 L182.35,135.51 L182.81,136.73 L183.28,134.94 L183.74,138.01 L184.20,134.20 L184.67,136.48 L185.13,136.36 L185.59,138.51 L186.06,135.18 L186.52,137.50 L186.98,137.59 L187.45,138.96 L187.91,136.02 L188.37,138.82 L188.84,135.42 L189.30,138.93 L189.76,136.41 L190.23,138.14 L190.69,136.58 L191.15,138.56 L191.62,137.18 L192.08,140.02 L192.55,136.18 L193.01,139.57 L193.47,137.94 L193.94,138.40 L194.40,138.19 L194.86,138.32 L195.33,139.13 L195.79,139.34 L196.25,138.08 L196.72,139.87 L197.18,137.57 L197.64,140.83 L198.11,138.59 L198.57,140.00 L199.03,138.30 L199.50,140.59 L199.96,138.46 L200.42,140.23 L200.89,139.73 L201.35,138.62 L201.82,139.19 L202.28,140.69 L202.74,138.72 L203.21,141.02 L203.67,139.38 L204.13,142.13 L204.60,139.79 L205.06,140.94 L205.52,139.42 L205.99,140.92 L206.45,139.34 L206.91,141.36 L207.38,139.71 L207.84,140.97 L208.30,139.93 L208.77,141.15 L209.23,141.00 L209.69,141.54 L210.16,139.98 L210.62,141.60 L211.08,140.59 L211.55,141.91 L212.01,140.56 L212.48,141.56 L212.94,139.85 L213.40,141.10 L213.87,140.71 L214.33,141.67 L214.79,140.14 L215.26,142.22 L215.72,140.70 L216.18,142.01 L216.65,141.45 L217.11,142.06 L217.57,140.92 L218.04,141.93 L218.50,141.52 L218.96,141.74 L219.43,141.16 L219.89,142.23 L220.35,141.81 L220.82,143.42 L221.28,141.15 L221.74,142.66 L222.21,141.61 L222.67,142.83 L223.14,142.38 L223.60,142.86 L224.06,141.57 L224.53,142.57 L224.99,141.50 L225.45,142.86 L225.92,142.29 L226.38,143.00 L226.84,142.03 L227.31,142.76 L227.77,141.86 L228.23,142.87 L228.70,141.38 L229.16,143.12 L229.62,142.64 L230.09,142.89 L230.55,142.41 L231.01,142.88 L231.48,142.38 L231.94,143.00 L232.41,142.33 L232.87,143.26 L233.33,141.80 L233.80,142.93 L234.26,142.72 L234.72,143.21 L235.19,142.25 L235.65,143.05 L236.11,142.83 L236.58,143.13 L237.04,142.40 L237.50,143.18 L237.97,142.72 L238.43,143.29 L238.89,142.49 L239.36,142.78 L239.82,142.75 L240.28,143.42 L240.75,142.55 L241.21,143.34 L241.67,142.70 L242.14,143.44 L242.60,142.90 L243.07,143.58 L243.53,143.08 L243.99,143.46 L244.46,142.92 L244.92,143.06 L245.38,142.89 L245.85,143.36 L246.31,142.91 L246.77,143.11 L247.24,142.72 L247.70,143.58" fill="none" stroke="#199a72" stroke-width="0.95" stroke-linejoin="round" opacity="1.0"/><rect x="53.5" y="204.5" width="194.2" height="88.0" fill="none" stroke="#aaaaaa" stroke-width="1"/><text transform="translate(41.94,296.10) scale(1.1200,1)" font-size="10.465" fill="#231f20">0</text><text transform="translate(35.42,278.50) scale(1.1200,1)" font-size="10.465" fill="#231f20">20</text><text transform="translate(35.42,260.90) scale(1.1200,1)" font-size="10.465" fill="#231f20">40</text><text transform="translate(35.42,243.30) scale(1.1200,1)" font-size="10.465" fill="#231f20">60</text><text transform="translate(35.42,225.70) scale(1.1200,1)" font-size="10.465" fill="#231f20">80</text><text transform="translate(28.90,208.10) scale(1.1200,1)" font-size="10.465" fill="#231f20">100</text><text transform="translate(45.20,311.60) scale(1.0500,1)" font-size="10.611" fill="#231f20">10</text><text transform="translate(58.03,307.10) scale(1.0600,1)" font-size="7.704" fill="#231f20">0</text><text transform="translate(93.75,311.60) scale(1.0500,1)" font-size="10.611" fill="#231f20">10</text><text transform="translate(106.28,307.10) scale(1.0600,1)" font-size="7.704" fill="#231f20">1</text><text transform="translate(142.30,311.60) scale(1.0500,1)" font-size="10.611" fill="#231f20">10</text><text transform="translate(155.04,307.10) scale(1.0600,1)" font-size="7.704" fill="#231f20">2</text><text transform="translate(190.85,311.60) scale(1.0500,1)" font-size="10.611" fill="#231f20">10</text><text transform="translate(203.69,307.10) scale(1.0600,1)" font-size="7.704" fill="#231f20">3</text><text transform="translate(239.40,311.60) scale(1.0500,1)" font-size="10.611" fill="#231f20">10</text><text transform="translate(252.36,307.10) scale(1.0600,1)" font-size="7.704" fill="#231f20">4</text><text transform="translate(55.82,216.70) scale(1.0422,1)" font-size="10.320" fill="#231f20">F4/80</text><text x="83.01" y="212.57" font-size="8.050" fill="#231f20">+</text><text transform="translate(86.95,216.70) scale(1.0201,1)" font-size="10.320" fill="#231f20">: integrin β3</text><text transform="translate(71.88,331.00) scale(0.7787,1)" font-size="12.791" fill="#231f20" stroke="#231f20" stroke-width="0.5">Integrin β3</text><line x1="124.2" y1="326.6" x2="220.8" y2="326.6" stroke="#111" stroke-width="1.3"/><path d="M228.0,326.6 L219.8,323.5 L221.8,326.6 L219.8,329.70000000000005 Z" fill="#111"/><text transform="translate(21.00,262.55) rotate(-90) scale(0.6460,1)" font-size="13.663" fill="#231f20" stroke="#231f20" stroke-width="0.5">Counts</text><path d="M53.50,291.47 L53.96,290.16 L54.43,290.10 L54.89,289.22 L55.35,288.28 L55.82,289.17 L56.28,288.10 L56.74,287.48 L57.21,285.75 L57.67,287.35 L58.13,285.26 L58.60,285.84 L59.06,284.27 L59.53,287.09 L59.99,284.67 L60.45,285.44 L60.92,284.45 L61.38,284.25 L61.84,280.55 L62.31,281.50 L62.77,277.67 L63.23,276.59 L63.70,274.08 L64.16,274.42 L64.62,268.23 L65.09,271.16 L65.55,263.92 L66.01,271.32 L66.48,259.34 L66.94,263.34 L67.40,254.01 L67.87,260.21 L68.33,251.35 L68.79,250.72 L69.26,247.52 L69.72,249.60 L70.19,242.37 L70.65,244.61 L71.11,236.82 L71.58,243.61 L72.04,235.89 L72.50,245.74 L72.97,239.51 L73.43,244.89 L73.89,240.35 L74.36,245.30 L74.82,242.81 L75.28,246.00 L75.75,242.12 L76.21,244.65 L76.67,238.35 L77.14,244.75 L77.60,239.78 L78.06,246.23 L78.53,239.46 L78.99,248.40 L79.46,247.12 L79.92,254.09 L80.38,253.48 L80.85,257.78 L81.31,254.16 L81.77,260.02 L82.24,255.56 L82.70,263.88 L83.16,258.50 L83.63,265.43 L84.09,259.61 L84.55,264.42 L85.02,259.65 L85.48,268.12 L85.94,257.84 L86.41,269.85 L86.87,257.14 L87.33,265.10 L87.80,262.56 L88.26,269.33 L88.72,263.67 L89.19,269.81 L89.65,261.79 L90.12,268.94 L90.58,264.22 L91.04,270.39 L91.51,264.93 L91.97,272.84 L92.43,265.17 L92.90,271.42 L93.36,265.07 L93.82,270.76 L94.29,269.29 L94.75,272.14 L95.21,264.51 L95.68,272.32 L96.14,268.53 L96.60,276.21 L97.07,271.39 L97.53,273.97 L97.99,270.04 L98.46,277.44 L98.92,270.57 L99.38,278.16 L99.85,273.96 L100.31,279.10 L100.78,274.85 L101.24,280.32 L101.70,277.91 L102.17,282.27 L102.63,278.55 L103.09,282.46 L103.56,279.33 L104.02,283.84 L104.48,280.86 L104.95,284.61 L105.41,282.37 L105.87,284.18 L106.34,284.35 L106.80,286.25 L107.26,284.00 L107.73,286.15 L108.19,284.73 L108.65,287.59 L109.12,286.17 L109.58,287.37 L110.05,287.43 L110.51,289.73 L110.97,286.89 L111.44,289.28 L111.90,287.70 L112.36,289.21 L112.83,287.66 L113.29,289.29 L113.75,287.61 L114.22,289.34 L114.68,287.96 L115.14,289.67 L115.61,288.51 L116.07,288.98 L116.53,287.86 L117.00,290.34 L117.46,287.87 L117.92,289.73 L118.39,288.80 L118.85,289.79 L119.31,289.38 L119.78,290.68 L120.24,289.24 L120.71,290.02 L121.17,288.23 L121.63,289.75 L122.10,288.86 L122.56,290.08 L123.02,288.83 L123.49,290.27 L123.95,289.75 L124.41,290.83 L124.88,289.58 L125.34,290.07 L125.80,289.44 L126.27,291.71 L126.73,289.44 L127.19,290.09 L127.66,289.30 L128.12,290.92 L128.58,289.57 L129.05,290.57 L129.51,289.74 L129.97,290.89 L130.44,290.17 L130.90,290.23 L131.37,290.15 L131.83,290.63 L132.29,290.38 L132.76,291.30 L133.22,289.17 L133.68,291.48 L134.15,289.67 L134.61,291.07 L135.07,289.33 L135.54,291.27 L136.00,289.97 L136.46,290.62 L136.93,290.04 L137.39,291.03 L137.85,290.04 L138.32,291.73 L138.78,289.95 L139.24,291.45 L139.71,289.92 L140.17,290.98 L140.64,290.64 L141.10,291.66 L141.56,290.57 L142.03,290.97 L142.49,290.53 L142.95,290.86 L143.42,290.72 L143.88,291.13 L144.34,290.23 L144.81,290.73 L145.27,290.55 L145.73,291.44 L146.20,290.92 L146.66,290.41 L147.12,290.59 L147.59,291.34 L148.05,290.78 L148.51,291.08 L148.98,290.30 L149.44,291.57 L149.90,290.47 L150.37,291.38 L150.83,290.78 L151.30,291.19 L151.76,290.22 L152.22,291.40 L152.69,291.16 L153.15,291.10 L153.61,290.92 L154.08,291.58 L154.54,290.90 L155.00,291.27 L155.47,291.06 L155.93,291.87 L156.39,290.63 L156.86,291.52 L157.32,290.91 L157.78,291.42 L158.25,290.46 L158.71,291.53 L159.17,290.91 L159.64,291.53 L160.10,291.10 L160.56,291.68 L161.03,290.80 L161.49,291.63 L161.96,290.75 L162.42,291.76 L162.88,290.71 L163.35,291.92 L163.81,291.05 L164.27,292.20 L164.74,291.13 L165.20,291.41 L165.66,291.61 L166.13,291.65 L166.59,290.78 L167.05,291.81 L167.52,291.24 L167.98,291.44 L168.44,291.16 L168.91,291.57 L169.37,291.31 L169.83,291.52 L170.30,291.02 L170.76,291.68 L171.23,290.89 L171.69,291.66 L172.15,290.90 L172.62,292.20 L173.08,291.41 L173.54,291.96 L174.01,290.86 L174.47,291.62 L174.93,291.13 L175.40,291.87 L175.86,290.90 L176.32,291.85 L176.79,291.46 L177.25,291.90 L177.71,291.08 L178.18,291.80 L178.64,290.95 L179.10,291.78 L179.57,290.89 L180.03,291.88 L180.49,291.25 L180.96,291.80 L181.42,291.06 L181.89,292.16 L182.35,291.11 L182.81,291.94 L183.28,291.34 L183.74,291.36 L184.20,291.59 L184.67,291.64 L185.13,291.44 L185.59,292.07 L186.06,291.40 L186.52,292.04 L186.98,291.52 L187.45,291.73 L187.91,291.35 L188.37,291.87 L188.84,291.22 L189.30,292.20 L189.76,291.45 L190.23,292.00 L190.69,291.32 L191.15,291.89 L191.62,291.76 L192.08,291.75 L192.55,291.22 L193.01,292.00 L193.47,291.46 L193.94,291.86 L194.40,291.63 L194.86,291.90 L195.33,291.57 L195.79,292.08 L196.25,291.41 L196.72,291.75 L197.18,291.87 L197.64,292.15 L198.11,291.61 L198.57,292.20 L199.03,291.40 L199.50,292.10 L199.96,291.50 L200.42,292.12 L200.89,291.66 L201.35,291.97 L201.82,291.46 L202.28,291.93 L202.74,291.86 L203.21,292.04 L203.67,291.74 L204.13,291.99 L204.60,291.35 L205.06,291.96 L205.52,291.76 L205.99,292.06 L206.45,291.67 L206.91,292.20 L207.38,291.70 L207.84,292.20 L208.30,291.67 L208.77,292.18 L209.23,291.39 L209.69,292.10 L210.16,291.89 L210.62,292.13 L211.08,291.83 L211.55,292.20 L212.01,291.71 L212.48,292.06 L212.94,291.77 L213.40,292.04 L213.87,291.80 L214.33,292.15 L214.79,291.95 L215.26,292.20 L215.72,291.71 L216.18,291.98 L216.65,291.79 L217.11,292.03 L217.57,291.95 L218.04,292.02 L218.50,291.87 L218.96,292.19 L219.43,291.90 L219.89,292.09 L220.35,291.83 L220.82,291.92 L221.28,292.05 L221.74,292.00 L222.21,291.75 L222.67,292.20 L223.14,291.89 L223.60,291.86 L224.06,291.96 L224.53,292.20 L224.99,292.01 L225.45,292.14 L225.92,291.82 L226.38,292.04 L226.84,291.75 L227.31,292.20 L227.77,291.88 L228.23,292.15 L228.70,291.82 L229.16,292.20 L229.62,291.84 L230.09,292.06 L230.55,291.82 L231.01,292.20 L231.48,291.96 L231.94,292.18 L232.41,292.03 L232.87,292.20 L233.33,292.06 L233.80,292.20 L234.26,291.85 L234.72,292.02 L235.19,291.98 L235.65,292.20 L236.11,291.83 L236.58,292.17 L237.04,291.98 L237.50,292.20 L237.97,292.13 L238.43,292.17 L238.89,291.83 L239.36,292.18 L239.82,291.89 L240.28,292.20 L240.75,292.01 L241.21,292.15 L241.67,291.96 L242.14,292.20 L242.60,291.91 L243.07,292.20 L243.53,292.07 L243.99,292.10 L244.46,291.92 L244.92,292.20 L245.38,291.85 L245.85,292.18 L246.31,291.92 L246.77,292.12 L247.24,291.80 L247.70,291.98" fill="none" stroke="#555" stroke-width="0.75" stroke-linejoin="round" opacity="1.0"/><path d="M53.50,291.21 L53.96,291.62 L54.43,289.98 L54.89,290.70 L55.35,289.92 L55.82,290.89 L56.28,288.72 L56.74,290.56 L57.21,290.07 L57.67,290.47 L58.13,288.86 L58.60,289.76 L59.06,288.88 L59.53,289.70 L59.99,288.90 L60.45,290.46 L60.92,288.69 L61.38,290.08 L61.84,288.46 L62.31,290.71 L62.77,288.82 L63.23,290.09 L63.70,288.58 L64.16,289.82 L64.62,288.80 L65.09,290.51 L65.55,289.18 L66.01,290.07 L66.48,288.65 L66.94,289.37 L67.40,289.46 L67.87,290.72 L68.33,287.89 L68.79,290.37 L69.26,288.15 L69.72,289.67 L70.19,288.01 L70.65,290.20 L71.11,288.88 L71.58,289.73 L72.04,289.19 L72.50,289.36 L72.97,289.99 L73.43,290.47 L73.89,289.56 L74.36,290.37 L74.82,289.02 L75.28,290.93 L75.75,289.12 L76.21,291.14 L76.67,288.80 L77.14,290.78 L77.60,289.30 L78.06,290.94 L78.53,289.82 L78.99,290.83 L79.46,289.68 L79.92,290.57 L80.38,288.74 L80.85,291.59 L81.31,290.32 L81.77,290.31 L82.24,290.47 L82.70,290.18 L83.16,289.45 L83.63,290.21 L84.09,289.04 L84.55,291.04 L85.02,289.76 L85.48,291.08 L85.94,289.35 L86.41,289.55 L86.87,289.65 L87.33,290.70 L87.80,289.53 L88.26,291.91 L88.72,289.53 L89.19,290.40 L89.65,289.41 L90.12,290.61 L90.58,289.30 L91.04,290.65 L91.51,289.48 L91.97,290.96 L92.43,289.34 L92.90,290.98 L93.36,289.76 L93.82,290.35 L94.29,289.34 L94.75,290.51 L95.21,290.03 L95.68,291.05 L96.14,289.46 L96.60,291.49 L97.07,289.06 L97.53,290.50 L97.99,289.31 L98.46,290.75 L98.92,289.41 L99.38,290.64 L99.85,289.94 L100.31,290.62 L100.78,288.66 L101.24,290.18 L101.70,288.86 L102.17,289.68 L102.63,287.40 L103.09,289.51 L103.56,287.84 L104.02,289.14 L104.48,288.52 L104.95,289.17 L105.41,287.92 L105.87,288.67 L106.34,287.25 L106.80,288.90 L107.26,287.30 L107.73,288.89 L108.19,285.46 L108.65,287.89 L109.12,285.30 L109.58,288.21 L110.05,286.26 L110.51,286.83 L110.97,286.12 L111.44,287.59 L111.90,286.39 L112.36,288.56 L112.83,285.99 L113.29,287.94 L113.75,285.89 L114.22,286.89 L114.68,285.05 L115.14,285.89 L115.61,283.43 L116.07,285.60 L116.53,284.16 L117.00,286.76 L117.46,283.12 L117.92,286.66 L118.39,283.92 L118.85,284.92 L119.31,283.40 L119.78,285.05 L120.24,281.94 L120.71,284.78 L121.17,281.13 L121.63,284.28 L122.10,282.61 L122.56,284.25 L123.02,280.76 L123.49,284.93 L123.95,278.37 L124.41,282.06 L124.88,278.35 L125.34,281.50 L125.80,277.36 L126.27,282.71 L126.73,277.37 L127.19,281.34 L127.66,275.42 L128.12,278.40 L128.58,273.85 L129.05,278.23 L129.51,274.01 L129.97,277.00 L130.44,274.48 L130.90,274.16 L131.37,267.62 L131.83,271.54 L132.29,264.04 L132.76,270.38 L133.22,263.14 L133.68,269.36 L134.15,262.15 L134.61,267.92 L135.07,258.07 L135.54,261.94 L136.00,259.67 L136.46,264.45 L136.93,256.04 L137.39,259.59 L137.85,252.99 L138.32,255.36 L138.78,248.93 L139.24,252.80 L139.71,246.50 L140.17,248.13 L140.64,239.12 L141.10,246.30 L141.56,237.42 L142.03,244.14 L142.49,235.28 L142.95,243.78 L143.42,238.67 L143.88,244.56 L144.34,239.43 L144.81,249.65 L145.27,246.95 L145.73,247.89 L146.20,243.16 L146.66,251.21 L147.12,251.87 L147.59,256.56 L148.05,252.35 L148.51,260.27 L148.98,256.78 L149.44,264.83 L149.90,259.51 L150.37,268.88 L150.83,265.00 L151.30,269.71 L151.76,263.69 L152.22,274.86 L152.69,270.22 L153.15,279.02 L153.61,269.59 L154.08,276.64 L154.54,275.88 L155.00,279.91 L155.47,278.35 L155.93,280.08 L156.39,278.43 L156.86,280.62 L157.32,278.81 L157.78,281.41 L158.25,281.34 L158.71,284.26 L159.17,280.03 L159.64,284.82 L160.10,283.81 L160.56,283.79 L161.03,282.77 L161.49,285.09 L161.96,283.53 L162.42,286.24 L162.88,285.28 L163.35,287.12 L163.81,285.00 L164.27,287.59 L164.74,284.84 L165.20,287.68 L165.66,287.19 L166.13,287.21 L166.59,287.35 L167.05,287.29 L167.52,286.39 L167.98,287.60 L168.44,285.56 L168.91,288.70 L169.37,286.97 L169.83,288.50 L170.30,287.78 L170.76,289.59 L171.23,286.61 L171.69,288.54 L172.15,287.54 L172.62,290.39 L173.08,286.96 L173.54,288.15 L174.01,287.81 L174.47,289.21 L174.93,287.55 L175.40,289.04 L175.86,288.68 L176.32,289.29 L176.79,288.12 L177.25,289.77 L177.71,288.38 L178.18,288.89 L178.64,287.67 L179.10,289.64 L179.57,288.58 L180.03,289.08 L180.49,288.28 L180.96,289.51 L181.42,287.85 L181.89,289.92 L182.35,288.18 L182.81,290.36 L183.28,288.50 L183.74,289.38 L184.20,287.72 L184.67,289.57 L185.13,288.79 L185.59,289.81 L186.06,288.39 L186.52,289.26 L186.98,288.53 L187.45,290.20 L187.91,289.33 L188.37,290.07 L188.84,288.46 L189.30,290.55 L189.76,289.19 L190.23,289.73 L190.69,289.00 L191.15,290.35 L191.62,288.20 L192.08,289.56 L192.55,287.82 L193.01,289.15 L193.47,288.67 L193.94,290.25 L194.40,288.89 L194.86,290.71 L195.33,288.52 L195.79,289.86 L196.25,289.19 L196.72,290.30 L197.18,289.43 L197.64,290.55 L198.11,289.15 L198.57,289.63 L199.03,289.50 L199.50,289.40 L199.96,289.36 L200.42,290.82 L200.89,289.71 L201.35,290.63 L201.82,290.20 L202.28,289.99 L202.74,289.08 L203.21,290.71 L203.67,289.55 L204.13,289.83 L204.60,289.63 L205.06,290.52 L205.52,289.55 L205.99,290.48 L206.45,289.96 L206.91,290.83 L207.38,289.11 L207.84,290.76 L208.30,290.08 L208.77,290.46 L209.23,289.88 L209.69,291.26 L210.16,289.53 L210.62,290.66 L211.08,289.00 L211.55,290.43 L212.01,289.85 L212.48,291.30 L212.94,290.02 L213.40,291.08 L213.87,289.80 L214.33,291.18 L214.79,289.88 L215.26,291.07 L215.72,290.58 L216.18,291.30 L216.65,290.03 L217.11,290.80 L217.57,290.49 L218.04,291.16 L218.50,290.54 L218.96,290.98 L219.43,290.19 L219.89,291.27 L220.35,291.05 L220.82,291.51 L221.28,290.52 L221.74,291.29 L222.21,290.91 L222.67,291.05 L223.14,291.11 L223.60,291.24 L224.06,290.95 L224.53,291.23 L224.99,290.82 L225.45,291.38 L225.92,290.91 L226.38,291.75 L226.84,290.65 L227.31,291.15 L227.77,291.00 L228.23,291.58 L228.70,290.81 L229.16,291.59 L229.62,290.82 L230.09,291.31 L230.55,291.19 L231.01,291.42 L231.48,291.07 L231.94,291.91 L232.41,291.04 L232.87,291.56 L233.33,290.93 L233.80,291.95 L234.26,290.91 L234.72,291.35 L235.19,291.15 L235.65,291.82 L236.11,291.61 L236.58,291.90 L237.04,291.21 L237.50,291.87 L237.97,291.47 L238.43,291.63 L238.89,291.24 L239.36,291.99 L239.82,291.50 L240.28,291.84 L240.75,291.43 L241.21,291.71 L241.67,291.38 L242.14,291.63 L242.60,291.61 L243.07,291.63 L243.53,291.75 L243.99,291.94 L244.46,291.40 L244.92,291.83 L245.38,291.47 L245.85,292.06 L246.31,291.28 L246.77,292.02 L247.24,291.31 L247.70,292.01" fill="none" stroke="#199a72" stroke-width="0.95" stroke-linejoin="round" opacity="1.0"/><path d="M53.50,292.20 L53.96,292.20 L54.43,292.20 L54.89,292.20 L55.35,292.15 L55.82,292.20 L56.28,292.20 L56.74,292.20 L57.21,292.09 L57.67,292.20 L58.13,292.20 L58.60,292.20 L59.06,292.20 L59.53,292.20 L59.99,292.10 L60.45,292.20 L60.92,292.20 L61.38,292.20 L61.84,292.10 L62.31,292.20 L62.77,292.19 L63.23,292.20 L63.70,292.07 L64.16,292.19 L64.62,292.04 L65.09,292.20 L65.55,292.11 L66.01,292.20 L66.48,292.16 L66.94,292.20 L67.40,291.94 L67.87,292.20 L68.33,292.10 L68.79,292.18 L69.26,292.06 L69.72,292.20 L70.19,291.93 L70.65,292.20 L71.11,291.66 L71.58,292.18 L72.04,291.76 L72.50,292.20 L72.97,291.70 L73.43,292.04 L73.89,291.80 L74.36,292.20 L74.82,291.79 L75.28,292.20 L75.75,291.42 L76.21,292.10 L76.67,291.09 L77.14,291.62 L77.60,291.24 L78.06,291.78 L78.53,291.08 L78.99,292.09 L79.46,291.23 L79.92,291.53 L80.38,290.97 L80.85,291.29 L81.31,290.42 L81.77,291.41 L82.24,290.43 L82.70,290.77 L83.16,290.29 L83.63,291.06 L84.09,290.36 L84.55,291.34 L85.02,290.09 L85.48,290.49 L85.94,289.76 L86.41,290.60 L86.87,288.88 L87.33,289.93 L87.80,287.71 L88.26,288.63 L88.72,287.11 L89.19,289.14 L89.65,287.58 L90.12,288.45 L90.58,287.19 L91.04,287.11 L91.51,287.00 L91.97,287.19 L92.43,286.08 L92.90,287.71 L93.36,284.42 L93.82,286.74 L94.29,284.53 L94.75,284.03 L95.21,282.53 L95.68,283.93 L96.14,284.26 L96.60,284.39 L97.07,280.46 L97.53,282.84 L97.99,282.01 L98.46,284.60 L98.92,281.01 L99.38,282.50 L99.85,281.16 L100.31,282.97 L100.78,277.69 L101.24,283.03 L101.70,278.09 L102.17,282.26 L102.63,274.77 L103.09,280.36 L103.56,275.39 L104.02,278.70 L104.48,274.03 L104.95,277.33 L105.41,274.53 L105.87,277.20 L106.34,274.60 L106.80,276.08 L107.26,271.20 L107.73,274.27 L108.19,273.31 L108.65,274.10 L109.12,267.98 L109.58,273.89 L110.05,268.45 L110.51,270.18 L110.97,263.81 L111.44,266.50 L111.90,263.54 L112.36,269.20 L112.83,262.18 L113.29,264.65 L113.75,258.02 L114.22,267.40 L114.68,258.11 L115.14,263.28 L115.61,258.16 L116.07,262.48 L116.53,258.98 L117.00,264.26 L117.46,254.54 L117.92,263.51 L118.39,255.78 L118.85,262.67 L119.31,258.35 L119.78,263.77 L120.24,254.96 L120.71,260.32 L121.17,254.42 L121.63,259.64 L122.10,255.91 L122.56,264.00 L123.02,256.81 L123.49,262.02 L123.95,254.98 L124.41,260.86 L124.88,254.62 L125.34,264.31 L125.80,258.53 L126.27,267.95 L126.73,259.51 L127.19,263.08 L127.66,261.17 L128.12,263.24 L128.58,256.99 L129.05,263.43 L129.51,262.14 L129.97,267.74 L130.44,260.67 L130.90,268.50 L131.37,263.28 L131.83,270.07 L132.29,263.19 L132.76,269.19 L133.22,265.35 L133.68,271.25 L134.15,265.07 L134.61,270.79 L135.07,266.66 L135.54,274.20 L136.00,269.97 L136.46,272.60 L136.93,274.33 L137.39,276.08 L137.85,269.94 L138.32,273.73 L138.78,273.13 L139.24,277.57 L139.71,269.95 L140.17,275.95 L140.64,272.95 L141.10,275.63 L141.56,272.97 L142.03,278.41 L142.49,275.05 L142.95,278.25 L143.42,273.78 L143.88,277.45 L144.34,273.17 L144.81,279.16 L145.27,275.97 L145.73,280.79 L146.20,277.20 L146.66,280.07 L147.12,277.38 L147.59,282.95 L148.05,274.52 L148.51,278.56 L148.98,277.80 L149.44,282.44 L149.90,278.63 L150.37,280.61 L150.83,279.62 L151.30,280.73 L151.76,279.24 L152.22,283.58 L152.69,280.21 L153.15,283.28 L153.61,281.36 L154.08,284.15 L154.54,282.04 L155.00,284.48 L155.47,282.00 L155.93,283.98 L156.39,283.29 L156.86,283.70 L157.32,281.73 L157.78,285.69 L158.25,282.61 L158.71,285.80 L159.17,283.51 L159.64,285.35 L160.10,284.23 L160.56,287.01 L161.03,283.87 L161.49,287.17 L161.96,285.14 L162.42,287.50 L162.88,284.51 L163.35,287.53 L163.81,286.21 L164.27,288.93 L164.74,285.73 L165.20,286.50 L165.66,286.48 L166.13,287.81 L166.59,286.31 L167.05,286.71 L167.52,285.66 L167.98,288.65 L168.44,287.03 L168.91,288.89 L169.37,286.67 L169.83,287.90 L170.30,286.39 L170.76,288.94 L171.23,287.25 L171.69,288.67 L172.15,288.13 L172.62,288.43 L173.08,286.55 L173.54,289.00 L174.01,286.83 L174.47,288.83 L174.93,287.14 L175.40,288.86 L175.86,287.06 L176.32,288.22 L176.79,287.82 L177.25,288.78 L177.71,287.24 L178.18,288.73 L178.64,288.38 L179.10,288.89 L179.57,287.69 L180.03,288.69 L180.49,287.15 L180.96,288.68 L181.42,287.64 L181.89,290.70 L182.35,287.11 L182.81,288.56 L183.28,287.60 L183.74,289.07 L184.20,286.35 L184.67,289.72 L185.13,287.27 L185.59,289.43 L186.06,287.79 L186.52,289.14 L186.98,289.02 L187.45,289.02 L187.91,287.59 L188.37,289.42 L188.84,287.34 L189.30,290.00 L189.76,288.03 L190.23,289.63 L190.69,288.25 L191.15,288.67 L191.62,287.59 L192.08,289.62 L192.55,287.65 L193.01,290.33 L193.47,289.09 L193.94,289.07 L194.40,288.41 L194.86,289.36 L195.33,288.34 L195.79,290.01 L196.25,288.45 L196.72,289.74 L197.18,288.29 L197.64,289.45 L198.11,288.38 L198.57,290.48 L199.03,288.68 L199.50,289.94 L199.96,288.39 L200.42,289.54 L200.89,287.93 L201.35,290.15 L201.82,287.65 L202.28,290.50 L202.74,286.96 L203.21,289.54 L203.67,288.73 L204.13,289.74 L204.60,289.50 L205.06,289.11 L205.52,288.47 L205.99,289.80 L206.45,287.48 L206.91,289.70 L207.38,287.83 L207.84,289.89 L208.30,289.26 L208.77,288.93 L209.23,288.79 L209.69,290.95 L210.16,288.76 L210.62,290.78 L211.08,288.14 L211.55,290.37 L212.01,287.81 L212.48,290.39 L212.94,288.06 L213.40,290.03 L213.87,288.49 L214.33,290.03 L214.79,288.11 L215.26,290.13 L215.72,288.54 L216.18,288.79 L216.65,288.10 L217.11,289.08 L217.57,288.62 L218.04,290.13 L218.50,289.26 L218.96,290.45 L219.43,288.95 L219.89,290.43 L220.35,288.24 L220.82,290.04 L221.28,288.53 L221.74,289.82 L222.21,289.08 L222.67,289.74 L223.14,288.53 L223.60,290.17 L224.06,289.37 L224.53,290.27 L224.99,288.66 L225.45,289.67 L225.92,289.02 L226.38,289.14 L226.84,288.03 L227.31,289.47 L227.77,288.24 L228.23,290.05 L228.70,288.80 L229.16,289.73 L229.62,288.62 L230.09,290.08 L230.55,289.12 L231.01,289.58 L231.48,288.69 L231.94,289.93 L232.41,290.06 L232.87,290.11 L233.33,288.54 L233.80,289.32 L234.26,288.32 L234.72,290.21 L235.19,288.66 L235.65,290.51 L236.11,288.45 L236.58,290.05 L237.04,289.17 L237.50,289.75 L237.97,288.71 L238.43,289.26 L238.89,288.49 L239.36,290.30 L239.82,289.00 L240.28,291.29 L240.75,288.31 L241.21,289.38 L241.67,288.71 L242.14,290.38 L242.60,289.01 L243.07,290.46 L243.53,289.47 L243.99,290.32 L244.46,288.78 L244.92,290.05 L245.38,289.15 L245.85,289.88 L246.31,289.41 L246.77,287.19 L247.24,278.37 L247.70,289.91" fill="none" stroke="#d2207e" stroke-width="0.95" stroke-linejoin="round" opacity="1.0"/><path d="M53.50,292.20 L53.96,292.20 L54.43,292.14 L54.89,292.20 L55.35,292.20 L55.82,292.20 L56.28,292.20 L56.74,292.20 L57.21,292.20 L57.67,292.20 L58.13,292.17 L58.60,292.20 L59.06,292.09 L59.53,292.20 L59.99,292.17 L60.45,292.20 L60.92,292.15 L61.38,292.20 L61.84,292.20 L62.31,292.20 L62.77,292.17 L63.23,292.20 L63.70,292.18 L64.16,292.20 L64.62,292.20 L65.09,292.20 L65.55,292.20 L66.01,292.20 L66.48,292.10 L66.94,292.20 L67.40,292.13 L67.87,292.20 L68.33,292.20 L68.79,292.20 L69.26,292.18 L69.72,292.20 L70.19,292.12 L70.65,292.20 L71.11,292.07 L71.58,292.20 L72.04,292.13 L72.50,292.20 L72.97,292.09 L73.43,292.15 L73.89,292.00 L74.36,292.19 L74.82,292.06 L75.28,292.18 L75.75,292.00 L76.21,292.19 L76.67,291.98 L77.14,292.20 L77.60,291.85 L78.06,292.18 L78.53,292.07 L78.99,292.20 L79.46,291.89 L79.92,292.11 L80.38,291.95 L80.85,292.20 L81.31,292.00 L81.77,292.17 L82.24,291.81 L82.70,292.13 L83.16,291.78 L83.63,292.03 L84.09,291.61 L84.55,291.96 L85.02,291.35 L85.48,292.12 L85.94,291.43 L86.41,292.20 L86.87,291.29 L87.33,291.65 L87.80,291.22 L88.26,291.46 L88.72,290.51 L89.19,291.42 L89.65,290.29 L90.12,291.06 L90.58,291.31 L91.04,291.12 L91.51,290.36 L91.97,290.25 L92.43,290.34 L92.90,290.68 L93.36,288.97 L93.82,290.79 L94.29,289.17 L94.75,289.25 L95.21,289.10 L95.68,290.19 L96.14,288.98 L96.60,291.31 L97.07,288.88 L97.53,290.38 L97.99,288.28 L98.46,289.58 L98.92,286.85 L99.38,288.08 L99.85,286.03 L100.31,288.18 L100.78,286.44 L101.24,287.82 L101.70,287.29 L102.17,286.17 L102.63,284.14 L103.09,286.11 L103.56,283.64 L104.02,285.12 L104.48,282.35 L104.95,284.00 L105.41,280.85 L105.87,284.39 L106.34,281.20 L106.80,282.30 L107.26,279.44 L107.73,280.55 L108.19,277.34 L108.65,280.37 L109.12,272.85 L109.58,279.55 L110.05,275.77 L110.51,279.28 L110.97,272.70 L111.44,276.94 L111.90,274.27 L112.36,279.13 L112.83,269.68 L113.29,278.76 L113.75,272.84 L114.22,275.09 L114.68,271.25 L115.14,273.80 L115.61,270.74 L116.07,273.02 L116.53,268.38 L117.00,270.49 L117.46,268.00 L117.92,270.26 L118.39,265.89 L118.85,268.48 L119.31,262.88 L119.78,270.33 L120.24,262.24 L120.71,263.72 L121.17,259.53 L121.63,263.12 L122.10,258.49 L122.56,262.82 L123.02,251.31 L123.49,258.69 L123.95,253.68 L124.41,256.09 L124.88,250.34 L125.34,254.32 L125.80,249.24 L126.27,255.14 L126.73,247.92 L127.19,252.30 L127.66,251.29 L128.12,256.94 L128.58,247.78 L129.05,254.94 L129.51,249.51 L129.97,255.99 L130.44,250.32 L130.90,255.42 L131.37,254.40 L131.83,255.40 L132.29,254.31 L132.76,256.73 L133.22,253.89 L133.68,258.04 L134.15,254.48 L134.61,262.86 L135.07,252.43 L135.54,261.16 L136.00,258.85 L136.46,264.31 L136.93,258.48 L137.39,261.87 L137.85,259.05 L138.32,267.59 L138.78,259.07 L139.24,266.46 L139.71,263.47 L140.17,267.82 L140.64,266.66 L141.10,265.70 L141.56,262.70 L142.03,270.01 L142.49,263.34 L142.95,272.25 L143.42,268.08 L143.88,268.87 L144.34,272.66 L144.81,274.17 L145.27,270.56 L145.73,275.18 L146.20,269.90 L146.66,278.14 L147.12,274.57 L147.59,277.60 L148.05,276.01 L148.51,277.82 L148.98,274.26 L149.44,280.81 L149.90,275.37 L150.37,281.07 L150.83,276.13 L151.30,280.36 L151.76,276.14 L152.22,281.85 L152.69,277.72 L153.15,281.22 L153.61,280.26 L154.08,281.72 L154.54,278.80 L155.00,282.40 L155.47,281.89 L155.93,283.88 L156.39,280.70 L156.86,284.68 L157.32,280.43 L157.78,285.70 L158.25,281.03 L158.71,285.35 L159.17,281.35 L159.64,284.81 L160.10,283.45 L160.56,285.72 L161.03,281.93 L161.49,285.44 L161.96,284.14 L162.42,285.63 L162.88,284.49 L163.35,285.23 L163.81,284.11 L164.27,286.61 L164.74,283.66 L165.20,285.57 L165.66,285.04 L166.13,288.17 L166.59,284.76 L167.05,286.55 L167.52,285.00 L167.98,285.68 L168.44,285.14 L168.91,287.22 L169.37,286.72 L169.83,287.77 L170.30,286.64 L170.76,287.88 L171.23,285.66 L171.69,288.15 L172.15,285.45 L172.62,288.36 L173.08,286.33 L173.54,288.83 L174.01,286.40 L174.47,288.98 L174.93,286.20 L175.40,286.75 L175.86,286.44 L176.32,289.26 L176.79,286.88 L177.25,288.63 L177.71,287.01 L178.18,288.26 L178.64,286.91 L179.10,287.92 L179.57,286.77 L180.03,287.91 L180.49,286.64 L180.96,288.49 L181.42,287.08 L181.89,288.76 L182.35,287.54 L182.81,288.19 L183.28,287.15 L183.74,288.30 L184.20,286.99 L184.67,288.94 L185.13,286.75 L185.59,289.18 L186.06,287.33 L186.52,289.96 L186.98,287.74 L187.45,288.89 L187.91,287.01 L188.37,288.84 L188.84,287.79 L189.30,290.47 L189.76,286.94 L190.23,288.85 L190.69,288.23 L191.15,289.60 L191.62,286.88 L192.08,288.97 L192.55,286.80 L193.01,289.36 L193.47,287.50 L193.94,288.47 L194.40,287.62 L194.86,289.29 L195.33,287.87 L195.79,289.54 L196.25,288.83 L196.72,288.65 L197.18,286.96 L197.64,288.91 L198.11,287.68 L198.57,289.52 L199.03,288.70 L199.50,289.21 L199.96,287.32 L200.42,289.20 L200.89,288.30 L201.35,288.51 L201.82,287.78 L202.28,289.77 L202.74,287.57 L203.21,289.49 L203.67,288.34 L204.13,289.73 L204.60,287.57 L205.06,289.60 L205.52,288.11 L205.99,290.16 L206.45,288.62 L206.91,289.45 L207.38,287.06 L207.84,289.31 L208.30,288.37 L208.77,289.24 L209.23,287.93 L209.69,290.49 L210.16,287.75 L210.62,289.41 L211.08,288.83 L211.55,289.83 L212.01,288.24 L212.48,290.42 L212.94,287.95 L213.40,289.32 L213.87,287.85 L214.33,290.40 L214.79,289.64 L215.26,289.12 L215.72,288.80 L216.18,289.20 L216.65,289.09 L217.11,289.74 L217.57,289.10 L218.04,289.36 L218.50,287.69 L218.96,289.92 L219.43,288.96 L219.89,291.02 L220.35,288.99 L220.82,289.51 L221.28,287.90 L221.74,289.77 L222.21,288.81 L222.67,290.10 L223.14,289.08 L223.60,288.85 L224.06,287.44 L224.53,290.35 L224.99,288.41 L225.45,291.10 L225.92,288.87 L226.38,290.74 L226.84,288.73 L227.31,288.62 L227.77,289.37 L228.23,289.37 L228.70,288.35 L229.16,289.39 L229.62,288.69 L230.09,289.25 L230.55,288.03 L231.01,289.09 L231.48,288.63 L231.94,290.30 L232.41,288.56 L232.87,290.54 L233.33,288.22 L233.80,289.66 L234.26,288.32 L234.72,290.37 L235.19,288.49 L235.65,290.38 L236.11,288.06 L236.58,289.68 L237.04,289.28 L237.50,290.34 L237.97,289.19 L238.43,290.56 L238.89,288.25 L239.36,290.99 L239.82,289.33 L240.28,289.99 L240.75,288.35 L241.21,289.86 L241.67,288.20 L242.14,290.23 L242.60,288.54 L243.07,290.00 L243.53,288.45 L243.99,289.42 L244.46,288.81 L244.92,288.82 L245.38,289.17 L245.85,289.82 L246.31,288.74 L246.77,289.43 L247.24,289.04 L247.70,290.41" fill="none" stroke="#26268a" stroke-width="0.95" stroke-linejoin="round" opacity="1.0"/><path d="M53.50,292.20 L53.96,292.20 L54.43,292.20 L54.89,292.20 L55.35,292.20 L55.82,292.20 L56.28,292.20 L56.74,292.20 L57.21,292.20 L57.67,292.20 L58.13,292.20 L58.60,292.20 L59.06,292.20 L59.53,292.20 L59.99,292.20 L60.45,292.20 L60.92,292.18 L61.38,292.20 L61.84,292.19 L62.31,292.20 L62.77,292.20 L63.23,292.20 L63.70,292.20 L64.16,292.20 L64.62,292.20 L65.09,292.20 L65.55,292.20 L66.01,292.20 L66.48,292.17 L66.94,292.20 L67.40,292.16 L67.87,292.20 L68.33,292.20 L68.79,292.20 L69.26,292.20 L69.72,292.20 L70.19,292.19 L70.65,292.20 L71.11,292.09 L71.58,292.20 L72.04,292.18 L72.50,292.20 L72.97,292.15 L73.43,292.20 L73.89,292.20 L74.36,292.20 L74.82,292.20 L75.28,292.20 L75.75,292.08 L76.21,292.20 L76.67,292.04 L77.14,292.20 L77.60,292.16 L78.06,292.20 L78.53,292.07 L78.99,292.18 L79.46,292.15 L79.92,292.20 L80.38,292.13 L80.85,292.20 L81.31,292.11 L81.77,292.20 L82.24,292.05 L82.70,292.19 L83.16,292.16 L83.63,292.20 L84.09,292.17 L84.55,292.20 L85.02,292.10 L85.48,292.20 L85.94,292.14 L86.41,292.10 L86.87,291.96 L87.33,292.20 L87.80,292.14 L88.26,292.15 L88.72,292.08 L89.19,292.19 L89.65,292.09 L90.12,292.20 L90.58,292.06 L91.04,292.16 L91.51,292.12 L91.97,292.20 L92.43,292.03 L92.90,292.16 L93.36,291.80 L93.82,292.20 L94.29,292.10 L94.75,292.20 L95.21,292.14 L95.68,292.20 L96.14,291.81 L96.60,292.10 L97.07,291.91 L97.53,292.19 L97.99,291.95 L98.46,292.20 L98.92,292.10 L99.38,292.12 L99.85,291.94 L100.31,292.17 L100.78,291.89 L101.24,292.19 L101.70,291.87 L102.17,292.11 L102.63,291.87 L103.09,292.05 L103.56,291.59 L104.02,292.17 L104.48,291.41 L104.95,292.05 L105.41,291.90 L105.87,292.20 L106.34,291.50 L106.80,292.18 L107.26,291.43 L107.73,291.92 L108.19,291.34 L108.65,291.70 L109.12,291.41 L109.58,291.94 L110.05,290.86 L110.51,291.98 L110.97,291.11 L111.44,291.85 L111.90,291.27 L112.36,291.80 L112.83,290.79 L113.29,291.10 L113.75,290.30 L114.22,291.20 L114.68,290.55 L115.14,291.05 L115.61,290.48 L116.07,291.16 L116.53,290.67 L117.00,290.88 L117.46,290.15 L117.92,290.66 L118.39,289.61 L118.85,291.35 L119.31,290.65 L119.78,291.10 L120.24,288.57 L120.71,290.38 L121.17,289.52 L121.63,289.78 L122.10,287.37 L122.56,289.50 L123.02,287.60 L123.49,288.61 L123.95,287.64 L124.41,287.22 L124.88,284.97 L125.34,288.12 L125.80,284.88 L126.27,287.53 L126.73,285.69 L127.19,286.84 L127.66,282.57 L128.12,283.80 L128.58,285.24 L129.05,283.91 L129.51,279.78 L129.97,284.83 L130.44,280.10 L130.90,282.27 L131.37,280.49 L131.83,281.80 L132.29,278.35 L132.76,280.09 L133.22,275.28 L133.68,278.78 L134.15,276.15 L134.61,278.44 L135.07,269.95 L135.54,274.87 L136.00,273.34 L136.46,277.44 L136.93,273.43 L137.39,275.72 L137.85,269.87 L138.32,270.75 L138.78,263.70 L139.24,272.31 L139.71,263.81 L140.17,270.09 L140.64,264.71 L141.10,262.93 L141.56,254.52 L142.03,259.89 L142.49,246.09 L142.95,251.32 L143.42,242.36 L143.88,246.46 L144.34,243.87 L144.81,242.36 L145.27,237.53 L145.73,243.56 L146.20,234.80 L146.66,242.16 L147.12,234.26 L147.59,238.57 L148.05,232.31 L148.51,238.86 L148.98,236.38 L149.44,240.72 L149.90,234.75 L150.37,242.86 L150.83,238.20 L151.30,247.40 L151.76,242.38 L152.22,246.04 L152.69,249.92 L153.15,253.40 L153.61,248.02 L154.08,253.46 L154.54,252.15 L155.00,258.99 L155.47,259.33 L155.93,260.25 L156.39,262.86 L156.86,270.15 L157.32,264.88 L157.78,272.08 L158.25,266.44 L158.71,276.49 L159.17,266.85 L159.64,272.65 L160.10,270.52 L160.56,276.27 L161.03,272.55 L161.49,277.49 L161.96,273.45 L162.42,279.55 L162.88,276.96 L163.35,280.96 L163.81,279.45 L164.27,282.34 L164.74,278.76 L165.20,283.55 L165.66,281.18 L166.13,284.54 L166.59,283.31 L167.05,286.52 L167.52,282.26 L167.98,285.42 L168.44,282.87 L168.91,287.60 L169.37,285.10 L169.83,285.86 L170.30,285.15 L170.76,286.92 L171.23,285.77 L171.69,286.73 L172.15,285.91 L172.62,287.18 L173.08,285.83 L173.54,288.60 L174.01,286.14 L174.47,288.60 L174.93,287.56 L175.40,287.74 L175.86,287.22 L176.32,286.89 L176.79,286.81 L177.25,288.92 L177.71,287.06 L178.18,289.31 L178.64,287.72 L179.10,288.56 L179.57,286.98 L180.03,289.42 L180.49,288.07 L180.96,289.42 L181.42,288.29 L181.89,289.14 L182.35,287.75 L182.81,289.34 L183.28,288.10 L183.74,289.04 L184.20,287.65 L184.67,290.08 L185.13,288.37 L185.59,289.82 L186.06,289.05 L186.52,289.50 L186.98,288.29 L187.45,290.22 L187.91,288.25 L188.37,290.58 L188.84,288.76 L189.30,290.59 L189.76,288.63 L190.23,289.96 L190.69,289.37 L191.15,290.00 L191.62,289.19 L192.08,290.09 L192.55,289.18 L193.01,289.58 L193.47,288.04 L193.94,289.55 L194.40,288.72 L194.86,289.73 L195.33,288.84 L195.79,290.35 L196.25,289.22 L196.72,289.59 L197.18,289.58 L197.64,290.18 L198.11,289.07 L198.57,290.99 L199.03,290.03 L199.50,289.90 L199.96,289.27 L200.42,290.77 L200.89,289.51 L201.35,290.88 L201.82,289.31 L202.28,290.91 L202.74,288.13 L203.21,290.49 L203.67,289.46 L204.13,290.66 L204.60,290.07 L205.06,290.75 L205.52,289.55 L205.99,290.72 L206.45,289.74 L206.91,290.37 L207.38,288.95 L207.84,290.68 L208.30,289.90 L208.77,290.89 L209.23,289.94 L209.69,290.99 L210.16,289.97 L210.62,291.14 L211.08,290.71 L211.55,291.70 L212.01,289.96 L212.48,291.52 L212.94,290.73 L213.40,290.59 L213.87,290.24 L214.33,290.64 L214.79,290.32 L215.26,290.58 L215.72,290.19 L216.18,291.23 L216.65,290.43 L217.11,291.33 L217.57,290.32 L218.04,291.25 L218.50,290.23 L218.96,290.96 L219.43,290.21 L219.89,291.33 L220.35,290.29 L220.82,291.95 L221.28,291.01 L221.74,291.36 L222.21,290.13 L222.67,291.16 L223.14,290.95 L223.60,291.72 L224.06,290.85 L224.53,291.60 L224.99,291.06 L225.45,291.63 L225.92,290.61 L226.38,291.26 L226.84,290.87 L227.31,291.40 L227.77,290.54 L228.23,291.84 L228.70,290.82 L229.16,291.17 L229.62,291.15 L230.09,291.24 L230.55,290.64 L231.01,291.64 L231.48,291.45 L231.94,291.44 L232.41,291.42 L232.87,291.64 L233.33,291.09 L233.80,291.69 L234.26,291.54 L234.72,291.85 L235.19,291.26 L235.65,291.56 L236.11,291.19 L236.58,291.54 L237.04,291.42 L237.50,291.59 L237.97,291.40 L238.43,291.66 L238.89,291.48 L239.36,291.72 L239.82,291.36 L240.28,292.13 L240.75,291.07 L241.21,291.71 L241.67,291.42 L242.14,292.08 L242.60,291.52 L243.07,292.16 L243.53,291.31 L243.99,292.06 L244.46,291.25 L244.92,291.85 L245.38,291.37 L245.85,292.17 L246.31,291.65 L246.77,291.88 L247.24,291.25 L247.70,291.78" fill="none" stroke="#5a5a5a" stroke-width="0.95" stroke-linejoin="round" opacity="1.0"/><rect x="53.5" y="353.5" width="194.2" height="87.0" fill="none" stroke="#aaaaaa" stroke-width="1"/><text transform="translate(41.94,444.10) scale(1.1200,1)" font-size="10.465" fill="#231f20">0</text><text transform="translate(35.42,426.70) scale(1.1200,1)" font-size="10.465" fill="#231f20">20</text><text transform="translate(35.42,409.30) scale(1.1200,1)" font-size="10.465" fill="#231f20">40</text><text transform="translate(35.42,391.90) scale(1.1200,1)" font-size="10.465" fill="#231f20">60</text><text transform="translate(35.42,374.50) scale(1.1200,1)" font-size="10.465" fill="#231f20">80</text><text transform="translate(28.90,357.10) scale(1.1200,1)" font-size="10.465" fill="#231f20">100</text><text transform="translate(45.20,460.40) scale(1.0500,1)" font-size="10.611" fill="#231f20">10</text><text transform="translate(58.03,455.90) scale(1.0600,1)" font-size="7.704" fill="#231f20">0</text><text transform="translate(93.75,460.40) scale(1.0500,1)" font-size="10.611" fill="#231f20">10</text><text transform="translate(106.28,455.90) scale(1.0600,1)" font-size="7.704" fill="#231f20">1</text><text transform="translate(142.30,460.40) scale(1.0500,1)" font-size="10.611" fill="#231f20">10</text><text transform="translate(155.04,455.90) scale(1.0600,1)" font-size="7.704" fill="#231f20">2</text><text transform="translate(190.85,460.40) scale(1.0500,1)" font-size="10.611" fill="#231f20">10</text><text transform="translate(203.69,455.90) scale(1.0600,1)" font-size="7.704" fill="#231f20">3</text><text transform="translate(239.40,460.40) scale(1.0500,1)" font-size="10.611" fill="#231f20">10</text><text transform="translate(252.36,455.90) scale(1.0600,1)" font-size="7.704" fill="#231f20">4</text><text transform="translate(55.82,365.40) scale(1.0422,1)" font-size="10.320" fill="#231f20">F4/80</text><text x="83.01" y="361.27" font-size="8.050" fill="#231f20">+</text><text transform="translate(86.97,365.40) scale(1.0032,1)" font-size="10.320" fill="#231f20">: Fg binding</text><text transform="translate(73.05,478.30) scale(0.7138,1)" font-size="12.791" fill="#231f20" stroke="#231f20" stroke-width="0.5">Fg binding</text><line x1="122.9" y1="473.6" x2="220.8" y2="473.6" stroke="#111" stroke-width="1.3"/><path d="M228.0,473.6 L219.8,470.5 L221.8,473.6 L219.8,476.70000000000005 Z" fill="#111"/><text transform="translate(21.00,411.05) rotate(-90) scale(0.6460,1)" font-size="13.663" fill="#231f20" stroke="#231f20" stroke-width="0.5">Counts</text><path d="M53.50,437.88 L53.96,430.90 L54.43,424.01 L54.89,425.80 L55.35,419.58 L55.82,422.50 L56.28,420.21 L56.74,422.13 L57.21,415.32 L57.67,416.94 L58.13,410.28 L58.60,413.14 L59.06,402.25 L59.53,405.70 L59.99,395.91 L60.45,403.10 L60.92,393.08 L61.38,400.68 L61.84,389.86 L62.31,395.45 L62.77,387.59 L63.23,393.26 L63.70,391.14 L64.16,399.99 L64.62,397.45 L65.09,404.12 L65.55,402.07 L66.01,410.54 L66.48,404.02 L66.94,412.53 L67.40,410.32 L67.87,414.17 L68.33,408.81 L68.79,415.79 L69.26,414.31 L69.72,417.53 L70.19,414.66 L70.65,417.83 L71.11,413.91 L71.58,423.16 L72.04,416.40 L72.50,418.77 L72.97,411.66 L73.43,421.83 L73.89,421.28 L74.36,423.67 L74.82,420.16 L75.28,424.39 L75.75,421.00 L76.21,424.55 L76.67,421.11 L77.14,425.58 L77.60,423.96 L78.06,428.99 L78.53,424.19 L78.99,430.83 L79.46,426.75 L79.92,429.50 L80.38,427.54 L80.85,431.60 L81.31,427.38 L81.77,430.11 L82.24,427.07 L82.70,431.80 L83.16,428.52 L83.63,431.30 L84.09,430.70 L84.55,430.65 L85.02,428.38 L85.48,432.42 L85.94,430.79 L86.41,435.03 L86.87,431.38 L87.33,433.11 L87.80,430.89 L88.26,433.84 L88.72,431.83 L89.19,433.37 L89.65,430.20 L90.12,434.40 L90.58,433.14 L91.04,435.27 L91.51,431.48 L91.97,434.62 L92.43,433.15 L92.90,434.33 L93.36,434.57 L93.82,433.78 L94.29,432.75 L94.75,435.31 L95.21,434.49 L95.68,434.52 L96.14,433.46 L96.60,435.09 L97.07,434.31 L97.53,435.09 L97.99,433.16 L98.46,436.11 L98.92,433.48 L99.38,436.97 L99.85,434.43 L100.31,434.94 L100.78,433.59 L101.24,437.23 L101.70,434.77 L102.17,435.66 L102.63,434.71 L103.09,435.91 L103.56,434.34 L104.02,435.58 L104.48,435.84 L104.95,436.13 L105.41,434.94 L105.87,437.79 L106.34,435.97 L106.80,437.46 L107.26,435.90 L107.73,437.37 L108.19,436.33 L108.65,439.07 L109.12,435.50 L109.58,437.99 L110.05,435.30 L110.51,437.19 L110.97,435.41 L111.44,437.62 L111.90,436.36 L112.36,437.75 L112.83,436.32 L113.29,437.43 L113.75,436.11 L114.22,438.35 L114.68,436.35 L115.14,437.40 L115.61,436.78 L116.07,437.88 L116.53,435.58 L117.00,438.45 L117.46,436.04 L117.92,437.89 L118.39,437.28 L118.85,438.26 L119.31,436.97 L119.78,437.99 L120.24,436.74 L120.71,438.11 L121.17,436.12 L121.63,437.79 L122.10,437.20 L122.56,438.02 L123.02,437.87 L123.49,438.78 L123.95,436.11 L124.41,437.86 L124.88,437.03 L125.34,438.01 L125.80,436.75 L126.27,438.06 L126.73,436.80 L127.19,438.71 L127.66,436.98 L128.12,438.91 L128.58,436.47 L129.05,438.90 L129.51,437.98 L129.97,438.51 L130.44,437.01 L130.90,437.81 L131.37,437.16 L131.83,437.54 L132.29,437.45 L132.76,438.62 L133.22,438.13 L133.68,438.86 L134.15,437.10 L134.61,438.54 L135.07,438.14 L135.54,438.63 L136.00,437.60 L136.46,438.86 L136.93,437.98 L137.39,438.25 L137.85,437.25 L138.32,438.91 L138.78,438.05 L139.24,438.86 L139.71,437.44 L140.17,439.21 L140.64,437.99 L141.10,438.81 L141.56,438.40 L142.03,438.89 L142.49,437.31 L142.95,438.69 L143.42,437.47 L143.88,439.59 L144.34,437.55 L144.81,438.78 L145.27,437.00 L145.73,438.13 L146.20,438.21 L146.66,439.02 L147.12,437.48 L147.59,438.97 L148.05,437.51 L148.51,438.86 L148.98,437.51 L149.44,438.79 L149.90,438.07 L150.37,438.85 L150.83,437.74 L151.30,439.47 L151.76,437.55 L152.22,439.70 L152.69,438.30 L153.15,438.74 L153.61,437.63 L154.08,438.85 L154.54,438.24 L155.00,438.89 L155.47,438.20 L155.93,439.00 L156.39,438.38 L156.86,438.79 L157.32,437.94 L157.78,438.83 L158.25,437.65 L158.71,439.52 L159.17,438.59 L159.64,438.66 L160.10,437.76 L160.56,438.79 L161.03,438.57 L161.49,439.11 L161.96,439.13 L162.42,439.31 L162.88,438.74 L163.35,439.07 L163.81,438.72 L164.27,439.53 L164.74,438.35 L165.20,439.54 L165.66,438.67 L166.13,439.32 L166.59,438.79 L167.05,439.10 L167.52,438.51 L167.98,439.70 L168.44,438.44 L168.91,438.94 L169.37,438.26 L169.83,439.27 L170.30,438.78 L170.76,439.33 L171.23,438.31 L171.69,439.43 L172.15,438.55 L172.62,439.17 L173.08,438.41 L173.54,439.46 L174.01,438.72 L174.47,439.22 L174.93,438.46 L175.40,439.67 L175.86,438.33 L176.32,439.72 L176.79,438.53 L177.25,439.37 L177.71,438.73 L178.18,439.01 L178.64,439.08 L179.10,439.52 L179.57,438.42 L180.03,438.93 L180.49,438.86 L180.96,439.39 L181.42,439.04 L181.89,438.94 L182.35,438.79 L182.81,439.86 L183.28,439.00 L183.74,439.58 L184.20,439.08 L184.67,439.45 L185.13,438.98 L185.59,439.85 L186.06,438.99 L186.52,439.42 L186.98,438.95 L187.45,439.42 L187.91,439.13 L188.37,439.84 L188.84,439.04 L189.30,439.49 L189.76,439.28 L190.23,439.80 L190.69,439.04 L191.15,439.84 L191.62,439.23 L192.08,439.35 L192.55,439.03 L193.01,439.74 L193.47,439.50 L193.94,440.00 L194.40,439.25 L194.86,439.90 L195.33,439.06 L195.79,440.20 L196.25,439.06 L196.72,439.28 L197.18,439.20 L197.64,440.13 L198.11,439.80 L198.57,439.95 L199.03,439.17 L199.50,439.83 L199.96,439.36 L200.42,439.61 L200.89,439.40 L201.35,439.84 L201.82,439.27 L202.28,439.64 L202.74,439.21 L203.21,439.98 L203.67,439.26 L204.13,439.74 L204.60,439.28 L205.06,439.78 L205.52,439.47 L205.99,440.00 L206.45,439.52 L206.91,440.04 L207.38,439.39 L207.84,439.91 L208.30,439.51 L208.77,439.81 L209.23,439.78 L209.69,439.81 L210.16,439.56 L210.62,439.88 L211.08,439.46 L211.55,439.86 L212.01,439.55 L212.48,439.86 L212.94,439.71 L213.40,439.72 L213.87,439.43 L214.33,439.96 L214.79,439.51 L215.26,439.76 L215.72,439.87 L216.18,439.99 L216.65,439.90 L217.11,440.08 L217.57,439.87 L218.04,439.95 L218.50,439.69 L218.96,440.20 L219.43,439.55 L219.89,440.00 L220.35,440.12 L220.82,440.11 L221.28,439.61 L221.74,440.20 L222.21,440.10 L222.67,439.91 L223.14,439.55 L223.60,439.88 L224.06,439.67 L224.53,439.99 L224.99,439.72 L225.45,440.20 L225.92,439.71 L226.38,440.06 L226.84,439.80 L227.31,440.20 L227.77,439.77 L228.23,440.14 L228.70,439.82 L229.16,440.02 L229.62,439.82 L230.09,440.20 L230.55,439.73 L231.01,440.20 L231.48,439.86 L231.94,440.00 L232.41,439.89 L232.87,440.17 L233.33,439.86 L233.80,440.14 L234.26,439.83 L234.72,440.09 L235.19,439.91 L235.65,440.06 L236.11,440.01 L236.58,440.02 L237.04,439.84 L237.50,440.11 L237.97,439.93 L238.43,440.20 L238.89,440.03 L239.36,440.20 L239.82,440.06 L240.28,440.10 L240.75,439.94 L241.21,440.18 L241.67,439.94 L242.14,440.20 L242.60,440.00 L243.07,440.15 L243.53,439.96 L243.99,440.20 L244.46,439.75 L244.92,440.11 L245.38,440.11 L245.85,440.03 L246.31,439.86 L246.77,440.18 L247.24,439.98 L247.70,440.02" fill="none" stroke="#2a2a2a" stroke-width="0.9" stroke-linejoin="round" opacity="1.0"/><path d="M53.50,439.36 L53.96,439.57 L54.43,438.73 L54.89,439.11 L55.35,438.62 L55.82,439.01 L56.28,438.01 L56.74,439.16 L57.21,437.58 L57.67,438.34 L58.13,437.35 L58.60,439.60 L59.06,437.43 L59.53,438.38 L59.99,436.73 L60.45,438.53 L60.92,436.82 L61.38,438.05 L61.84,436.25 L62.31,438.01 L62.77,435.54 L63.23,436.72 L63.70,436.24 L64.16,436.89 L64.62,434.53 L65.09,435.70 L65.55,433.51 L66.01,434.72 L66.48,433.39 L66.94,435.40 L67.40,430.97 L67.87,434.44 L68.33,430.96 L68.79,432.49 L69.26,430.53 L69.72,434.08 L70.19,430.04 L70.65,430.75 L71.11,427.71 L71.58,430.21 L72.04,427.36 L72.50,430.09 L72.97,424.79 L73.43,431.29 L73.89,424.09 L74.36,427.82 L74.82,421.50 L75.28,426.10 L75.75,420.16 L76.21,423.34 L76.67,418.14 L77.14,423.90 L77.60,416.58 L78.06,420.05 L78.53,408.70 L78.99,417.53 L79.46,413.43 L79.92,412.11 L80.38,409.29 L80.85,414.28 L81.31,403.55 L81.77,412.45 L82.24,406.67 L82.70,407.08 L83.16,404.85 L83.63,408.13 L84.09,400.40 L84.55,401.13 L85.02,400.03 L85.48,406.80 L85.94,398.10 L86.41,408.73 L86.87,401.58 L87.33,407.60 L87.80,401.47 L88.26,412.35 L88.72,407.16 L89.19,414.87 L89.65,409.58 L90.12,414.77 L90.58,410.97 L91.04,419.84 L91.51,414.09 L91.97,418.82 L92.43,420.54 L92.90,422.19 L93.36,416.51 L93.82,425.06 L94.29,423.12 L94.75,427.92 L95.21,421.62 L95.68,427.72 L96.14,422.38 L96.60,425.35 L97.07,422.27 L97.53,428.31 L97.99,426.51 L98.46,429.08 L98.92,426.04 L99.38,429.73 L99.85,425.65 L100.31,432.04 L100.78,425.57 L101.24,431.73 L101.70,427.53 L102.17,431.83 L102.63,428.61 L103.09,431.25 L103.56,428.40 L104.02,432.92 L104.48,431.56 L104.95,432.48 L105.41,429.23 L105.87,430.77 L106.34,429.11 L106.80,432.94 L107.26,430.86 L107.73,432.37 L108.19,430.57 L108.65,432.41 L109.12,431.26 L109.58,433.92 L110.05,432.25 L110.51,433.44 L110.97,430.41 L111.44,433.93 L111.90,432.43 L112.36,433.14 L112.83,432.78 L113.29,433.56 L113.75,431.70 L114.22,435.00 L114.68,432.74 L115.14,433.53 L115.61,432.34 L116.07,435.06 L116.53,433.28 L117.00,436.45 L117.46,433.29 L117.92,435.04 L118.39,433.94 L118.85,437.26 L119.31,434.37 L119.78,436.01 L120.24,434.04 L120.71,434.84 L121.17,434.47 L121.63,435.73 L122.10,434.83 L122.56,435.76 L123.02,435.02 L123.49,436.35 L123.95,432.96 L124.41,436.20 L124.88,433.95 L125.34,436.10 L125.80,435.88 L126.27,437.11 L126.73,435.46 L127.19,436.60 L127.66,435.86 L128.12,436.39 L128.58,434.53 L129.05,437.01 L129.51,435.79 L129.97,436.10 L130.44,434.78 L130.90,436.64 L131.37,436.53 L131.83,436.40 L132.29,435.80 L132.76,437.30 L133.22,435.51 L133.68,436.54 L134.15,435.65 L134.61,437.42 L135.07,435.35 L135.54,437.22 L136.00,435.78 L136.46,437.72 L136.93,436.80 L137.39,437.73 L137.85,436.31 L138.32,436.84 L138.78,436.40 L139.24,437.87 L139.71,435.83 L140.17,438.13 L140.64,435.15 L141.10,438.21 L141.56,436.20 L142.03,438.07 L142.49,435.41 L142.95,437.34 L143.42,435.90 L143.88,437.60 L144.34,436.48 L144.81,437.73 L145.27,435.55 L145.73,438.20 L146.20,436.53 L146.66,437.90 L147.12,436.62 L147.59,438.19 L148.05,436.98 L148.51,437.31 L148.98,436.70 L149.44,437.77 L149.90,437.53 L150.37,438.35 L150.83,437.11 L151.30,438.05 L151.76,436.88 L152.22,438.37 L152.69,436.44 L153.15,438.72 L153.61,437.29 L154.08,437.85 L154.54,436.42 L155.00,438.06 L155.47,437.69 L155.93,438.37 L156.39,437.23 L156.86,438.82 L157.32,437.57 L157.78,437.93 L158.25,437.57 L158.71,439.05 L159.17,437.52 L159.64,438.47 L160.10,438.08 L160.56,438.22 L161.03,436.36 L161.49,438.50 L161.96,437.46 L162.42,439.23 L162.88,437.35 L163.35,438.44 L163.81,437.12 L164.27,438.34 L164.74,437.98 L165.20,438.72 L165.66,437.20 L166.13,438.40 L166.59,437.08 L167.05,438.67 L167.52,436.45 L167.98,438.68 L168.44,436.51 L168.91,438.96 L169.37,437.61 L169.83,438.81 L170.30,437.81 L170.76,438.67 L171.23,437.16 L171.69,438.21 L172.15,437.56 L172.62,439.33 L173.08,437.84 L173.54,438.21 L174.01,437.95 L174.47,439.70 L174.93,437.60 L175.40,438.55 L175.86,438.06 L176.32,438.36 L176.79,438.02 L177.25,439.64 L177.71,437.75 L178.18,438.74 L178.64,438.12 L179.10,439.56 L179.57,438.15 L180.03,438.78 L180.49,438.39 L180.96,439.19 L181.42,437.94 L181.89,439.44 L182.35,438.51 L182.81,438.35 L183.28,437.31 L183.74,438.95 L184.20,437.92 L184.67,438.78 L185.13,438.13 L185.59,439.49 L186.06,437.60 L186.52,439.15 L186.98,437.99 L187.45,439.39 L187.91,438.02 L188.37,438.60 L188.84,438.22 L189.30,438.90 L189.76,438.47 L190.23,439.47 L190.69,437.83 L191.15,439.33 L191.62,438.25 L192.08,438.83 L192.55,438.25 L193.01,439.38 L193.47,437.91 L193.94,439.10 L194.40,438.41 L194.86,439.26 L195.33,438.75 L195.79,439.16 L196.25,438.71 L196.72,439.61 L197.18,438.99 L197.64,439.92 L198.11,438.41 L198.57,439.24 L199.03,439.10 L199.50,439.56 L199.96,438.52 L200.42,439.23 L200.89,438.38 L201.35,439.26 L201.82,438.89 L202.28,439.25 L202.74,439.51 L203.21,438.97 L203.67,438.54 L204.13,439.09 L204.60,438.69 L205.06,438.85 L205.52,438.23 L205.99,439.80 L206.45,438.56 L206.91,439.74 L207.38,438.61 L207.84,438.83 L208.30,438.95 L208.77,439.70 L209.23,438.75 L209.69,439.46 L210.16,438.91 L210.62,439.61 L211.08,438.75 L211.55,440.19 L212.01,439.07 L212.48,439.89 L212.94,438.85 L213.40,439.70 L213.87,438.77 L214.33,439.82 L214.79,439.09 L215.26,439.12 L215.72,439.35 L216.18,439.53 L216.65,438.83 L217.11,439.61 L217.57,439.10 L218.04,439.75 L218.50,439.20 L218.96,439.58 L219.43,439.22 L219.89,439.24 L220.35,438.91 L220.82,440.20 L221.28,439.15 L221.74,439.86 L222.21,439.21 L222.67,439.79 L223.14,439.25 L223.60,439.59 L224.06,439.43 L224.53,439.78 L224.99,439.38 L225.45,440.05 L225.92,438.96 L226.38,439.74 L226.84,439.17 L227.31,439.71 L227.77,439.00 L228.23,439.76 L228.70,439.28 L229.16,439.58 L229.62,439.19 L230.09,439.75 L230.55,439.11 L231.01,439.46 L231.48,439.19 L231.94,439.84 L232.41,439.21 L232.87,439.97 L233.33,438.95 L233.80,439.87 L234.26,439.10 L234.72,440.00 L235.19,438.95 L235.65,440.13 L236.11,439.62 L236.58,439.93 L237.04,439.33 L237.50,439.77 L237.97,439.45 L238.43,439.83 L238.89,439.37 L239.36,439.94 L239.82,439.50 L240.28,439.92 L240.75,439.68 L241.21,439.86 L241.67,439.53 L242.14,439.83 L242.60,439.45 L243.07,440.01 L243.53,439.44 L243.99,439.86 L244.46,439.44 L244.92,439.78 L245.38,439.12 L245.85,440.20 L246.31,439.27 L246.77,439.92 L247.24,439.14 L247.70,440.20" fill="none" stroke="#d2207e" stroke-width="0.95" stroke-linejoin="round" opacity="1.0"/><path d="M53.50,439.35 L53.96,439.44 L54.43,438.72 L54.89,439.48 L55.35,438.20 L55.82,439.80 L56.28,438.61 L56.74,439.00 L57.21,437.72 L57.67,439.02 L58.13,437.58 L58.60,438.92 L59.06,437.40 L59.53,438.67 L59.99,437.60 L60.45,438.12 L60.92,437.64 L61.38,438.36 L61.84,438.08 L62.31,438.10 L62.77,437.30 L63.23,438.84 L63.70,437.27 L64.16,438.14 L64.62,437.78 L65.09,438.28 L65.55,436.67 L66.01,438.58 L66.48,436.97 L66.94,438.40 L67.40,436.81 L67.87,437.69 L68.33,435.54 L68.79,438.04 L69.26,435.99 L69.72,436.97 L70.19,435.15 L70.65,437.01 L71.11,433.74 L71.58,436.50 L72.04,434.65 L72.50,436.08 L72.97,434.04 L73.43,436.48 L73.89,433.90 L74.36,435.22 L74.82,431.76 L75.28,434.26 L75.75,431.79 L76.21,432.48 L76.67,432.11 L77.14,431.51 L77.60,428.20 L78.06,427.81 L78.53,425.58 L78.99,429.71 L79.46,423.87 L79.92,426.75 L80.38,422.24 L80.85,428.18 L81.31,420.07 L81.77,423.10 L82.24,417.61 L82.70,419.12 L83.16,415.17 L83.63,415.47 L84.09,411.54 L84.55,415.27 L85.02,407.55 L85.48,408.25 L85.94,401.13 L86.41,407.00 L86.87,399.05 L87.33,401.62 L87.80,398.08 L88.26,402.19 L88.72,400.22 L89.19,400.83 L89.65,393.09 L90.12,402.26 L90.58,395.64 L91.04,402.93 L91.51,396.68 L91.97,404.43 L92.43,401.37 L92.90,406.11 L93.36,400.66 L93.82,404.17 L94.29,403.80 L94.75,412.03 L95.21,404.75 L95.68,411.18 L96.14,407.43 L96.60,413.45 L97.07,412.70 L97.53,413.18 L97.99,412.97 L98.46,418.21 L98.92,411.61 L99.38,414.71 L99.85,411.24 L100.31,416.54 L100.78,412.22 L101.24,419.14 L101.70,416.36 L102.17,420.87 L102.63,419.06 L103.09,420.91 L103.56,420.58 L104.02,423.01 L104.48,416.49 L104.95,421.60 L105.41,417.52 L105.87,423.35 L106.34,419.37 L106.80,425.48 L107.26,421.15 L107.73,424.85 L108.19,421.94 L108.65,428.01 L109.12,426.06 L109.58,427.08 L110.05,423.54 L110.51,426.40 L110.97,424.40 L111.44,426.25 L111.90,424.26 L112.36,428.28 L112.83,424.51 L113.29,430.52 L113.75,423.69 L114.22,428.93 L114.68,426.25 L115.14,427.16 L115.61,426.39 L116.07,431.04 L116.53,427.49 L117.00,430.36 L117.46,428.68 L117.92,432.50 L118.39,426.90 L118.85,432.53 L119.31,429.53 L119.78,431.93 L120.24,429.26 L120.71,431.43 L121.17,429.66 L121.63,432.02 L122.10,431.10 L122.56,433.01 L123.02,430.58 L123.49,432.22 L123.95,429.61 L124.41,432.38 L124.88,431.39 L125.34,431.95 L125.80,431.49 L126.27,433.39 L126.73,431.12 L127.19,433.85 L127.66,430.35 L128.12,432.53 L128.58,430.87 L129.05,432.67 L129.51,432.25 L129.97,432.72 L130.44,433.47 L130.90,434.80 L131.37,432.23 L131.83,434.90 L132.29,431.42 L132.76,434.31 L133.22,433.35 L133.68,435.29 L134.15,433.46 L134.61,434.71 L135.07,434.05 L135.54,435.54 L136.00,433.76 L136.46,436.02 L136.93,434.12 L137.39,436.64 L137.85,433.45 L138.32,437.15 L138.78,433.88 L139.24,436.04 L139.71,434.17 L140.17,435.06 L140.64,434.73 L141.10,436.71 L141.56,434.68 L142.03,437.49 L142.49,435.11 L142.95,436.73 L143.42,435.30 L143.88,436.84 L144.34,433.88 L144.81,436.94 L145.27,435.77 L145.73,437.19 L146.20,434.75 L146.66,437.31 L147.12,435.51 L147.59,438.25 L148.05,436.58 L148.51,436.85 L148.98,435.79 L149.44,437.13 L149.90,436.06 L150.37,437.88 L150.83,436.43 L151.30,437.17 L151.76,435.71 L152.22,438.07 L152.69,435.83 L153.15,437.22 L153.61,435.20 L154.08,438.39 L154.54,435.08 L155.00,437.54 L155.47,436.10 L155.93,438.27 L156.39,436.61 L156.86,437.86 L157.32,437.46 L157.78,437.83 L158.25,436.23 L158.71,437.83 L159.17,436.90 L159.64,438.58 L160.10,437.20 L160.56,438.27 L161.03,435.85 L161.49,438.19 L161.96,436.97 L162.42,438.54 L162.88,436.42 L163.35,438.05 L163.81,436.96 L164.27,438.29 L164.74,437.12 L165.20,438.42 L165.66,438.05 L166.13,438.26 L166.59,436.58 L167.05,438.32 L167.52,437.38 L167.98,438.82 L168.44,437.38 L168.91,438.20 L169.37,437.66 L169.83,438.46 L170.30,438.11 L170.76,437.77 L171.23,437.45 L171.69,437.88 L172.15,436.68 L172.62,438.60 L173.08,437.52 L173.54,439.01 L174.01,437.49 L174.47,438.95 L174.93,437.96 L175.40,438.55 L175.86,437.31 L176.32,438.94 L176.79,437.67 L177.25,438.52 L177.71,438.09 L178.18,438.93 L178.64,437.78 L179.10,438.33 L179.57,438.20 L180.03,438.82 L180.49,437.65 L180.96,439.02 L181.42,437.52 L181.89,438.60 L182.35,437.58 L182.81,439.04 L183.28,438.04 L183.74,438.77 L184.20,438.01 L184.67,438.69 L185.13,438.13 L185.59,439.31 L186.06,437.81 L186.52,439.12 L186.98,438.01 L187.45,439.83 L187.91,438.20 L188.37,438.67 L188.84,438.40 L189.30,439.98 L189.76,438.78 L190.23,438.69 L190.69,437.55 L191.15,438.71 L191.62,438.28 L192.08,438.77 L192.55,438.33 L193.01,439.51 L193.47,437.89 L193.94,439.69 L194.40,438.25 L194.86,439.23 L195.33,437.98 L195.79,439.54 L196.25,438.40 L196.72,439.62 L197.18,438.54 L197.64,439.27 L198.11,438.05 L198.57,438.82 L199.03,438.95 L199.50,439.67 L199.96,438.58 L200.42,440.06 L200.89,437.84 L201.35,439.34 L201.82,438.60 L202.28,439.51 L202.74,438.47 L203.21,439.44 L203.67,438.72 L204.13,439.34 L204.60,438.95 L205.06,439.32 L205.52,438.62 L205.99,439.12 L206.45,438.42 L206.91,439.19 L207.38,438.74 L207.84,439.31 L208.30,439.14 L208.77,439.52 L209.23,439.00 L209.69,439.78 L210.16,438.93 L210.62,439.46 L211.08,438.75 L211.55,439.98 L212.01,438.19 L212.48,439.69 L212.94,438.54 L213.40,439.31 L213.87,438.84 L214.33,439.37 L214.79,438.83 L215.26,439.10 L215.72,438.59 L216.18,439.34 L216.65,439.06 L217.11,439.76 L217.57,439.39 L218.04,440.15 L218.50,438.70 L218.96,439.83 L219.43,438.89 L219.89,439.89 L220.35,438.98 L220.82,439.96 L221.28,439.08 L221.74,439.75 L222.21,439.40 L222.67,439.21 L223.14,439.20 L223.60,439.85 L224.06,439.07 L224.53,439.75 L224.99,439.10 L225.45,439.73 L225.92,439.56 L226.38,439.92 L226.84,439.36 L227.31,440.01 L227.77,439.25 L228.23,439.83 L228.70,439.24 L229.16,439.74 L229.62,439.19 L230.09,440.16 L230.55,439.18 L231.01,439.70 L231.48,439.53 L231.94,440.02 L232.41,439.41 L232.87,439.90 L233.33,439.51 L233.80,439.53 L234.26,439.27 L234.72,439.92 L235.19,439.20 L235.65,439.80 L236.11,439.02 L236.58,439.75 L237.04,439.20 L237.50,439.90 L237.97,439.23 L238.43,440.04 L238.89,439.46 L239.36,440.10 L239.82,439.45 L240.28,439.86 L240.75,439.29 L241.21,439.92 L241.67,439.05 L242.14,439.65 L242.60,439.46 L243.07,439.96 L243.53,439.25 L243.99,439.32 L244.46,439.51 L244.92,439.65 L245.38,439.30 L245.85,439.61 L246.31,439.46 L246.77,439.92 L247.24,439.72 L247.70,439.79" fill="none" stroke="#199a72" stroke-width="0.95" stroke-linejoin="round" opacity="1.0"/><path d="M53.50,439.82 L53.96,440.20 L54.43,439.96 L54.89,440.15 L55.35,439.78 L55.82,440.20 L56.28,439.63 L56.74,440.15 L57.21,439.71 L57.67,440.08 L58.13,439.81 L58.60,439.78 L59.06,439.34 L59.53,439.91 L59.99,439.27 L60.45,439.60 L60.92,439.28 L61.38,439.75 L61.84,439.30 L62.31,439.73 L62.77,438.83 L63.23,439.75 L63.70,438.96 L64.16,439.24 L64.62,438.90 L65.09,439.24 L65.55,438.60 L66.01,439.78 L66.48,437.53 L66.94,439.45 L67.40,437.51 L67.87,438.77 L68.33,437.64 L68.79,438.38 L69.26,437.63 L69.72,438.16 L70.19,437.79 L70.65,438.71 L71.11,436.22 L71.58,438.02 L72.04,437.46 L72.50,437.80 L72.97,437.17 L73.43,437.99 L73.89,437.02 L74.36,437.19 L74.82,436.61 L75.28,437.37 L75.75,435.80 L76.21,436.77 L76.67,435.69 L77.14,436.19 L77.60,434.82 L78.06,435.69 L78.53,436.00 L78.99,435.35 L79.46,431.63 L79.92,434.86 L80.38,432.37 L80.85,433.08 L81.31,430.57 L81.77,431.69 L82.24,428.99 L82.70,431.18 L83.16,427.17 L83.63,430.45 L84.09,426.92 L84.55,426.51 L85.02,422.53 L85.48,424.41 L85.94,421.73 L86.41,424.00 L86.87,415.79 L87.33,424.17 L87.80,411.81 L88.26,415.23 L88.72,409.45 L89.19,416.03 L89.65,406.98 L90.12,412.20 L90.58,401.91 L91.04,409.64 L91.51,397.67 L91.97,407.93 L92.43,400.06 L92.90,403.45 L93.36,395.49 L93.82,399.09 L94.29,395.62 L94.75,399.05 L95.21,395.08 L95.68,402.06 L96.14,399.39 L96.60,402.54 L97.07,400.64 L97.53,406.33 L97.99,403.11 L98.46,408.37 L98.92,403.26 L99.38,407.99 L99.85,408.93 L100.31,413.20 L100.78,409.67 L101.24,414.84 L101.70,411.65 L102.17,414.22 L102.63,409.73 L103.09,415.82 L103.56,407.80 L104.02,416.32 L104.48,412.43 L104.95,418.76 L105.41,411.78 L105.87,418.85 L106.34,414.01 L106.80,421.61 L107.26,414.57 L107.73,423.57 L108.19,416.70 L108.65,423.02 L109.12,418.69 L109.58,424.95 L110.05,420.06 L110.51,420.62 L110.97,420.60 L111.44,425.43 L111.90,418.28 L112.36,427.87 L112.83,424.45 L113.29,429.40 L113.75,419.82 L114.22,426.41 L114.68,422.22 L115.14,424.91 L115.61,424.78 L116.07,426.84 L116.53,424.66 L117.00,429.90 L117.46,425.65 L117.92,428.23 L118.39,425.92 L118.85,428.17 L119.31,424.09 L119.78,429.41 L120.24,426.99 L120.71,430.69 L121.17,427.56 L121.63,427.07 L122.10,426.70 L122.56,430.56 L123.02,428.19 L123.49,430.87 L123.95,426.98 L124.41,431.20 L124.88,428.22 L125.34,431.68 L125.80,427.89 L126.27,430.35 L126.73,430.92 L127.19,431.95 L127.66,429.56 L128.12,432.51 L128.58,430.43 L129.05,433.55 L129.51,429.90 L129.97,433.14 L130.44,432.83 L130.90,433.77 L131.37,431.28 L131.83,434.91 L132.29,432.64 L132.76,436.24 L133.22,431.41 L133.68,433.90 L134.15,432.84 L134.61,433.68 L135.07,433.11 L135.54,434.60 L136.00,432.48 L136.46,435.91 L136.93,433.85 L137.39,436.32 L137.85,434.78 L138.32,435.24 L138.78,432.22 L139.24,436.89 L139.71,433.26 L140.17,435.04 L140.64,434.39 L141.10,436.58 L141.56,435.00 L142.03,435.90 L142.49,435.13 L142.95,435.60 L143.42,434.80 L143.88,436.59 L144.34,436.09 L144.81,436.76 L145.27,435.81 L145.73,437.47 L146.20,435.12 L146.66,437.72 L147.12,435.11 L147.59,435.91 L148.05,434.85 L148.51,436.66 L148.98,435.53 L149.44,436.55 L149.90,435.56 L150.37,437.50 L150.83,436.41 L151.30,436.87 L151.76,436.47 L152.22,437.11 L152.69,435.23 L153.15,437.32 L153.61,435.96 L154.08,437.80 L154.54,435.56 L155.00,438.66 L155.47,436.42 L155.93,437.77 L156.39,436.22 L156.86,437.73 L157.32,436.42 L157.78,437.25 L158.25,435.89 L158.71,438.04 L159.17,436.69 L159.64,437.81 L160.10,436.49 L160.56,438.77 L161.03,436.32 L161.49,438.46 L161.96,436.49 L162.42,437.56 L162.88,437.36 L163.35,437.46 L163.81,437.16 L164.27,438.68 L164.74,436.60 L165.20,437.92 L165.66,436.35 L166.13,438.29 L166.59,436.24 L167.05,437.59 L167.52,436.63 L167.98,438.43 L168.44,436.99 L168.91,437.34 L169.37,437.51 L169.83,439.45 L170.30,436.98 L170.76,437.38 L171.23,436.59 L171.69,438.78 L172.15,437.34 L172.62,438.37 L173.08,437.60 L173.54,437.79 L174.01,437.41 L174.47,438.32 L174.93,438.40 L175.40,438.28 L175.86,438.10 L176.32,439.57 L176.79,436.97 L177.25,437.72 L177.71,437.53 L178.18,438.18 L178.64,437.83 L179.10,438.41 L179.57,437.03 L180.03,438.50 L180.49,436.95 L180.96,438.64 L181.42,436.88 L181.89,438.33 L182.35,437.84 L182.81,439.10 L183.28,437.83 L183.74,437.88 L184.20,437.29 L184.67,439.24 L185.13,437.90 L185.59,438.58 L186.06,437.69 L186.52,438.61 L186.98,437.51 L187.45,439.11 L187.91,438.04 L188.37,438.79 L188.84,437.33 L189.30,438.29 L189.76,437.53 L190.23,439.72 L190.69,437.57 L191.15,438.46 L191.62,437.89 L192.08,438.64 L192.55,438.08 L193.01,438.48 L193.47,438.99 L193.94,439.04 L194.40,438.00 L194.86,439.26 L195.33,437.60 L195.79,438.62 L196.25,438.41 L196.72,439.31 L197.18,437.83 L197.64,439.14 L198.11,438.56 L198.57,439.52 L199.03,438.34 L199.50,439.02 L199.96,438.42 L200.42,439.31 L200.89,438.19 L201.35,438.79 L201.82,438.42 L202.28,439.38 L202.74,438.66 L203.21,439.58 L203.67,437.99 L204.13,439.40 L204.60,438.27 L205.06,438.77 L205.52,438.35 L205.99,439.00 L206.45,438.95 L206.91,439.39 L207.38,437.99 L207.84,439.15 L208.30,438.87 L208.77,439.47 L209.23,438.77 L209.69,439.31 L210.16,439.19 L210.62,440.03 L211.08,437.92 L211.55,440.10 L212.01,438.57 L212.48,439.29 L212.94,438.95 L213.40,439.61 L213.87,438.59 L214.33,439.14 L214.79,438.72 L215.26,439.36 L215.72,438.69 L216.18,439.62 L216.65,438.42 L217.11,439.86 L217.57,439.20 L218.04,439.99 L218.50,439.37 L218.96,440.09 L219.43,438.37 L219.89,439.64 L220.35,438.92 L220.82,439.26 L221.28,439.17 L221.74,439.42 L222.21,438.86 L222.67,439.78 L223.14,438.64 L223.60,439.65 L224.06,438.77 L224.53,439.48 L224.99,438.85 L225.45,439.67 L225.92,439.32 L226.38,439.39 L226.84,438.84 L227.31,439.84 L227.77,438.85 L228.23,439.95 L228.70,439.41 L229.16,440.12 L229.62,439.32 L230.09,439.81 L230.55,439.13 L231.01,439.38 L231.48,438.65 L231.94,439.39 L232.41,439.01 L232.87,439.45 L233.33,439.24 L233.80,439.80 L234.26,438.84 L234.72,439.89 L235.19,439.47 L235.65,439.70 L236.11,439.40 L236.58,439.76 L237.04,439.20 L237.50,439.98 L237.97,439.13 L238.43,439.89 L238.89,439.19 L239.36,439.79 L239.82,439.27 L240.28,439.61 L240.75,439.49 L241.21,439.46 L241.67,439.38 L242.14,439.99 L242.60,438.94 L243.07,439.86 L243.53,439.12 L243.99,440.13 L244.46,439.28 L244.92,439.89 L245.38,439.35 L245.85,440.17 L246.31,439.74 L246.77,439.87 L247.24,439.55 L247.70,439.59" fill="none" stroke="#26268a" stroke-width="0.95" stroke-linejoin="round" opacity="1.0"/><path d="M53.50,440.01 L53.96,440.20 L54.43,439.94 L54.89,440.11 L55.35,440.01 L55.82,440.14 L56.28,439.84 L56.74,440.20 L57.21,440.08 L57.67,440.10 L58.13,439.98 L58.60,440.02 L59.06,440.00 L59.53,440.09 L59.99,440.02 L60.45,440.20 L60.92,439.83 L61.38,440.20 L61.84,439.82 L62.31,440.20 L62.77,440.02 L63.23,440.06 L63.70,439.89 L64.16,439.94 L64.62,439.88 L65.09,440.20 L65.55,440.11 L66.01,440.20 L66.48,440.02 L66.94,440.15 L67.40,440.00 L67.87,439.91 L68.33,440.04 L68.79,440.16 L69.26,439.94 L69.72,440.20 L70.19,439.94 L70.65,440.18 L71.11,439.89 L71.58,440.03 L72.04,440.03 L72.50,440.04 L72.97,439.77 L73.43,439.97 L73.89,439.82 L74.36,440.12 L74.82,439.98 L75.28,439.99 L75.75,439.75 L76.21,440.20 L76.67,439.95 L77.14,440.16 L77.60,439.72 L78.06,440.20 L78.53,439.82 L78.99,439.87 L79.46,439.83 L79.92,440.17 L80.38,439.67 L80.85,440.17 L81.31,439.80 L81.77,440.20 L82.24,439.69 L82.70,440.06 L83.16,439.85 L83.63,439.97 L84.09,439.84 L84.55,440.17 L85.02,439.76 L85.48,440.01 L85.94,439.72 L86.41,440.11 L86.87,439.66 L87.33,439.61 L87.80,439.56 L88.26,440.09 L88.72,439.63 L89.19,439.79 L89.65,439.58 L90.12,440.03 L90.58,439.93 L91.04,440.13 L91.51,439.62 L91.97,440.13 L92.43,439.57 L92.90,439.98 L93.36,439.53 L93.82,440.11 L94.29,439.53 L94.75,439.80 L95.21,439.32 L95.68,439.86 L96.14,439.70 L96.60,439.88 L97.07,439.50 L97.53,439.99 L97.99,439.15 L98.46,439.69 L98.92,439.57 L99.38,439.93 L99.85,439.39 L100.31,439.62 L100.78,439.03 L101.24,440.14 L101.70,439.04 L102.17,439.62 L102.63,439.15 L103.09,439.76 L103.56,439.54 L104.02,439.81 L104.48,438.66 L104.95,439.68 L105.41,438.97 L105.87,439.75 L106.34,438.84 L106.80,440.20 L107.26,438.88 L107.73,439.50 L108.19,438.82 L108.65,439.29 L109.12,438.12 L109.58,438.97 L110.05,438.77 L110.51,439.80 L110.97,438.56 L111.44,438.60 L111.90,438.45 L112.36,438.97 L112.83,438.36 L113.29,439.06 L113.75,437.58 L114.22,439.34 L114.68,438.29 L115.14,438.33 L115.61,437.86 L116.07,439.31 L116.53,437.46 L117.00,439.40 L117.46,436.89 L117.92,437.89 L118.39,437.47 L118.85,438.56 L119.31,436.77 L119.78,438.37 L120.24,436.49 L120.71,437.42 L121.17,435.92 L121.63,436.37 L122.10,435.55 L122.56,436.03 L123.02,433.89 L123.49,435.47 L123.95,432.70 L124.41,432.82 L124.88,430.32 L125.34,431.35 L125.80,426.78 L126.27,430.66 L126.73,424.14 L127.19,427.14 L127.66,419.80 L128.12,421.73 L128.58,416.05 L129.05,419.97 L129.51,410.93 L129.97,417.77 L130.44,413.03 L130.90,413.54 L131.37,412.98 L131.83,418.56 L132.29,412.64 L132.76,416.31 L133.22,414.04 L133.68,421.92 L134.15,411.62 L134.61,419.33 L135.07,414.81 L135.54,417.46 L136.00,414.20 L136.46,419.26 L136.93,412.49 L137.39,419.37 L137.85,413.05 L138.32,419.22 L138.78,416.63 L139.24,423.30 L139.71,415.94 L140.17,422.33 L140.64,416.82 L141.10,421.10 L141.56,411.90 L142.03,415.65 L142.49,415.37 L142.95,419.85 L143.42,415.02 L143.88,420.39 L144.34,415.23 L144.81,424.98 L145.27,416.59 L145.73,419.61 L146.20,413.37 L146.66,421.64 L147.12,419.87 L147.59,422.20 L148.05,417.65 L148.51,421.83 L148.98,417.58 L149.44,422.33 L149.90,421.32 L150.37,426.43 L150.83,419.48 L151.30,424.03 L151.76,420.98 L152.22,423.83 L152.69,418.47 L153.15,421.77 L153.61,421.46 L154.08,427.76 L154.54,421.68 L155.00,427.74 L155.47,423.87 L155.93,426.35 L156.39,423.66 L156.86,428.51 L157.32,425.73 L157.78,426.28 L158.25,423.71 L158.71,428.66 L159.17,426.27 L159.64,427.05 L160.10,427.87 L160.56,430.20 L161.03,427.80 L161.49,430.44 L161.96,425.84 L162.42,429.38 L162.88,427.31 L163.35,429.07 L163.81,429.11 L164.27,430.30 L164.74,429.98 L165.20,429.12 L165.66,427.54 L166.13,431.17 L166.59,429.89 L167.05,433.70 L167.52,430.05 L167.98,431.64 L168.44,429.13 L168.91,433.45 L169.37,429.38 L169.83,431.67 L170.30,431.63 L170.76,430.76 L171.23,430.01 L171.69,433.57 L172.15,430.78 L172.62,433.62 L173.08,431.22 L173.54,434.10 L174.01,431.90 L174.47,433.49 L174.93,432.72 L175.40,433.76 L175.86,433.26 L176.32,435.36 L176.79,432.06 L177.25,435.46 L177.71,433.46 L178.18,435.31 L178.64,433.93 L179.10,434.81 L179.57,432.21 L180.03,436.77 L180.49,433.69 L180.96,435.46 L181.42,434.37 L181.89,435.70 L182.35,433.77 L182.81,435.64 L183.28,435.07 L183.74,435.48 L184.20,433.79 L184.67,435.77 L185.13,434.60 L185.59,436.44 L186.06,435.22 L186.52,436.62 L186.98,434.57 L187.45,436.15 L187.91,436.35 L188.37,436.41 L188.84,435.29 L189.30,436.72 L189.76,435.70 L190.23,437.04 L190.69,436.33 L191.15,437.57 L191.62,435.97 L192.08,436.55 L192.55,436.63 L193.01,437.69 L193.47,437.33 L193.94,437.96 L194.40,434.94 L194.86,437.50 L195.33,436.38 L195.79,438.49 L196.25,437.10 L196.72,437.55 L197.18,436.41 L197.64,438.06 L198.11,436.47 L198.57,438.25 L199.03,436.88 L199.50,438.47 L199.96,437.37 L200.42,439.12 L200.89,436.76 L201.35,438.98 L201.82,437.56 L202.28,438.76 L202.74,437.11 L203.21,438.24 L203.67,437.49 L204.13,438.70 L204.60,437.05 L205.06,438.86 L205.52,437.23 L205.99,438.36 L206.45,437.64 L206.91,437.88 L207.38,437.59 L207.84,438.68 L208.30,438.53 L208.77,438.85 L209.23,437.71 L209.69,438.74 L210.16,438.15 L210.62,438.75 L211.08,438.16 L211.55,439.22 L212.01,437.58 L212.48,439.26 L212.94,438.59 L213.40,439.28 L213.87,438.59 L214.33,439.32 L214.79,438.29 L215.26,438.90 L215.72,438.76 L216.18,439.76 L216.65,439.00 L217.11,439.64 L217.57,438.43 L218.04,438.80 L218.50,438.54 L218.96,439.10 L219.43,438.32 L219.89,439.28 L220.35,438.24 L220.82,439.55 L221.28,438.67 L221.74,439.08 L222.21,438.76 L222.67,439.58 L223.14,439.19 L223.60,439.11 L224.06,438.61 L224.53,439.34 L224.99,439.40 L225.45,439.61 L225.92,438.93 L226.38,439.71 L226.84,438.76 L227.31,439.94 L227.77,438.93 L228.23,440.00 L228.70,439.05 L229.16,439.77 L229.62,439.04 L230.09,439.86 L230.55,439.10 L231.01,439.62 L231.48,439.37 L231.94,439.90 L232.41,438.85 L232.87,439.89 L233.33,439.20 L233.80,439.97 L234.26,439.17 L234.72,440.08 L235.19,439.36 L235.65,439.68 L236.11,439.34 L236.58,440.00 L237.04,439.45 L237.50,439.97 L237.97,439.55 L238.43,439.45 L238.89,439.20 L239.36,439.62 L239.82,439.47 L240.28,439.52 L240.75,439.56 L241.21,439.83 L241.67,439.02 L242.14,439.77 L242.60,439.08 L243.07,439.65 L243.53,439.56 L243.99,439.82 L244.46,439.57 L244.92,439.91 L245.38,439.17 L245.85,439.52 L246.31,439.04 L246.77,439.76 L247.24,439.40 L247.70,439.62" fill="none" stroke="#5a5a5a" stroke-width="0.95" stroke-linejoin="round" opacity="1.0"/><rect x="53.5" y="538.5" width="194.2" height="87.0" fill="none" stroke="#aaaaaa" stroke-width="1"/><text transform="translate(41.94,629.10) scale(1.1200,1)" font-size="10.465" fill="#231f20">0</text><text transform="translate(35.42,611.70) scale(1.1200,1)" font-size="10.465" fill="#231f20">40</text><text transform="translate(35.42,594.30) scale(1.1200,1)" font-size="10.465" fill="#231f20">80</text><text transform="translate(28.90,576.90) scale(1.1200,1)" font-size="10.465" fill="#231f20">120</text><text transform="translate(28.90,559.50) scale(1.1200,1)" font-size="10.465" fill="#231f20">160</text><text transform="translate(28.90,542.10) scale(1.1200,1)" font-size="10.465" fill="#231f20">200</text><text transform="translate(45.20,638.40) scale(1.0500,1)" font-size="10.611" fill="#231f20">10</text><text transform="translate(58.03,633.90) scale(1.0600,1)" font-size="7.704" fill="#231f20">0</text><text transform="translate(93.75,638.40) scale(1.0500,1)" font-size="10.611" fill="#231f20">10</text><text transform="translate(106.28,633.90) scale(1.0600,1)" font-size="7.704" fill="#231f20">1</text><text transform="translate(142.30,638.40) scale(1.0500,1)" font-size="10.611" fill="#231f20">10</text><text transform="translate(155.04,633.90) scale(1.0600,1)" font-size="7.704" fill="#231f20">2</text><text transform="translate(190.85,638.40) scale(1.0500,1)" font-size="10.611" fill="#231f20">10</text><text transform="translate(203.69,633.90) scale(1.0600,1)" font-size="7.704" fill="#231f20">3</text><text transform="translate(239.40,638.40) scale(1.0500,1)" font-size="10.611" fill="#231f20">10</text><text transform="translate(252.36,633.90) scale(1.0600,1)" font-size="7.704" fill="#231f20">4</text><text transform="translate(56.48,552.40) scale(0.9382,1)" font-size="10.320" fill="#231f20">Ter119</text><text x="86.81" y="548.27" font-size="8.050" fill="#231f20">+</text><text transform="translate(90.74,552.40) scale(1.0298,1)" font-size="10.320" fill="#231f20">: integrin α4</text><line x1="150.6" y1="548.20" x2="163.0" y2="548.20" stroke="#333333" stroke-width="1.4"/><text transform="translate(167.15,551.60) scale(1.0132,1)" font-size="10.175" fill="#231f20">K3WT unstained</text><line x1="150.6" y1="559.00" x2="163.0" y2="559.00" stroke="#555555" stroke-width="1.4"/><text transform="translate(167.15,562.40) scale(1.0132,1)" font-size="10.175" fill="#231f20">K3WT</text><line x1="150.6" y1="569.80" x2="163.0" y2="569.80" stroke="#333377" stroke-width="1.4"/><text transform="translate(167.15,573.20) scale(1.0132,1)" font-size="10.175" fill="#231f20">K3KO/EpoR-cre</text><line x1="150.6" y1="580.60" x2="163.0" y2="580.60" stroke="#885577" stroke-width="1.4"/><text transform="translate(167.15,584.00) scale(1.0132,1)" font-size="10.175" fill="#231f20">K3KO/Lyz2-cre</text><line x1="150.6" y1="591.40" x2="163.0" y2="591.40" stroke="#338866" stroke-width="1.4"/><text transform="translate(167.15,594.80) scale(1.0132,1)" font-size="10.175" fill="#231f20">K3KI</text><text transform="translate(71.36,658.00) scale(0.7926,1)" font-size="12.791" fill="#231f20" stroke="#231f20" stroke-width="0.5">Integrin α4</text><line x1="123.5" y1="653.5" x2="221.10000000000002" y2="653.5" stroke="#111" stroke-width="1.3"/><path d="M228.3,653.5 L220.10000000000002,650.4 L222.10000000000002,653.5 L220.10000000000002,656.6 Z" fill="#111"/><text transform="translate(21.00,596.05) rotate(-90) scale(0.6460,1)" font-size="13.663" fill="#231f20" stroke="#231f20" stroke-width="0.5">Counts</text><path d="M53.50,625.16 L53.96,624.75 L54.43,622.50 L54.89,623.18 L55.35,621.48 L55.82,623.56 L56.28,621.84 L56.74,623.38 L57.21,620.72 L57.67,622.12 L58.13,619.90 L58.60,620.13 L59.06,619.91 L59.53,620.17 L59.99,618.38 L60.45,619.52 L60.92,614.91 L61.38,618.47 L61.84,612.57 L62.31,615.90 L62.77,610.74 L63.23,613.65 L63.70,610.63 L64.16,612.46 L64.62,608.06 L65.09,608.10 L65.55,601.44 L66.01,607.32 L66.48,597.96 L66.94,603.68 L67.40,595.88 L67.87,601.78 L68.33,591.05 L68.79,592.95 L69.26,587.13 L69.72,589.60 L70.19,583.18 L70.65,586.89 L71.11,578.51 L71.58,581.90 L72.04,573.96 L72.50,581.06 L72.97,576.19 L73.43,581.68 L73.89,577.96 L74.36,585.73 L74.82,578.16 L75.28,584.72 L75.75,584.67 L76.21,593.50 L76.67,589.58 L77.14,600.37 L77.60,598.01 L78.06,602.43 L78.53,597.59 L78.99,605.70 L79.46,600.35 L79.92,601.02 L80.38,603.35 L80.85,607.31 L81.31,603.26 L81.77,607.83 L82.24,601.44 L82.70,605.25 L83.16,604.12 L83.63,608.98 L84.09,605.38 L84.55,609.09 L85.02,603.20 L85.48,608.91 L85.94,606.81 L86.41,610.20 L86.87,606.86 L87.33,611.04 L87.80,608.33 L88.26,613.39 L88.72,606.23 L89.19,615.26 L89.65,611.59 L90.12,614.72 L90.58,611.69 L91.04,616.40 L91.51,613.62 L91.97,615.16 L92.43,612.70 L92.90,617.64 L93.36,615.59 L93.82,618.37 L94.29,616.31 L94.75,617.67 L95.21,617.12 L95.68,618.15 L96.14,617.55 L96.60,619.77 L97.07,617.94 L97.53,619.90 L97.99,619.12 L98.46,620.38 L98.92,620.35 L99.38,622.53 L99.85,620.10 L100.31,621.73 L100.78,621.37 L101.24,622.05 L101.70,621.59 L102.17,622.12 L102.63,621.90 L103.09,623.72 L103.56,622.10 L104.02,624.10 L104.48,622.39 L104.95,623.54 L105.41,623.23 L105.87,624.67 L106.34,622.97 L106.80,623.68 L107.26,623.10 L107.73,624.16 L108.19,623.27 L108.65,625.07 L109.12,623.34 L109.58,624.57 L110.05,623.52 L110.51,624.26 L110.97,623.31 L111.44,624.50 L111.90,623.26 L112.36,624.18 L112.83,623.97 L113.29,624.33 L113.75,623.41 L114.22,624.39 L114.68,623.62 L115.14,624.54 L115.61,623.55 L116.07,624.65 L116.53,623.84 L117.00,624.43 L117.46,623.71 L117.92,624.07 L118.39,624.11 L118.85,624.92 L119.31,623.58 L119.78,624.49 L120.24,623.97 L120.71,624.99 L121.17,623.99 L121.63,625.10 L122.10,624.00 L122.56,624.00 L123.02,623.65 L123.49,624.81 L123.95,623.67 L124.41,624.33 L124.88,623.88 L125.34,624.45 L125.80,623.88 L126.27,624.53 L126.73,623.38 L127.19,624.56 L127.66,623.88 L128.12,624.41 L128.58,624.42 L129.05,624.68 L129.51,623.87 L129.97,624.76 L130.44,623.91 L130.90,624.66 L131.37,624.06 L131.83,625.19 L132.29,624.20 L132.76,624.74 L133.22,623.99 L133.68,624.59 L134.15,624.25 L134.61,624.74 L135.07,624.20 L135.54,624.55 L136.00,624.13 L136.46,624.44 L136.93,624.11 L137.39,624.63 L137.85,624.16 L138.32,624.61 L138.78,624.16 L139.24,624.52 L139.71,624.41 L140.17,624.86 L140.64,624.40 L141.10,624.70 L141.56,624.27 L142.03,624.80 L142.49,624.28 L142.95,624.74 L143.42,624.09 L143.88,624.94 L144.34,624.13 L144.81,624.69 L145.27,624.26 L145.73,624.58 L146.20,624.06 L146.66,625.20 L147.12,624.36 L147.59,625.17 L148.05,624.72 L148.51,624.75 L148.98,624.25 L149.44,625.02 L149.90,624.38 L150.37,624.36 L150.83,624.63 L151.30,624.75 L151.76,624.16 L152.22,624.90 L152.69,624.36 L153.15,624.88 L153.61,624.53 L154.08,624.82 L154.54,624.15 L155.00,624.82 L155.47,624.31 L155.93,624.63 L156.39,624.58 L156.86,624.72 L157.32,624.59 L157.78,624.54 L158.25,624.62 L158.71,624.84 L159.17,624.46 L159.64,624.94 L160.10,624.44 L160.56,624.94 L161.03,624.41 L161.49,624.85 L161.96,624.73 L162.42,624.95 L162.88,624.83 L163.35,625.03 L163.81,624.41 L164.27,625.20 L164.74,624.61 L165.20,625.13 L165.66,624.80 L166.13,624.72 L166.59,624.65 L167.05,624.83 L167.52,624.57 L167.98,625.14 L168.44,624.72 L168.91,625.17 L169.37,624.59 L169.83,624.83 L170.30,624.60 L170.76,624.78 L171.23,624.55 L171.69,625.16 L172.15,624.64 L172.62,625.04 L173.08,624.60 L173.54,624.87 L174.01,624.75 L174.47,625.16 L174.93,624.64 L175.40,625.20 L175.86,624.71 L176.32,624.99 L176.79,624.89 L177.25,625.20 L177.71,624.72 L178.18,624.96 L178.64,624.68 L179.10,625.04 L179.57,624.71 L180.03,624.89 L180.49,624.63 L180.96,625.20 L181.42,624.68 L181.89,625.20 L182.35,624.42 L182.81,624.99 L183.28,624.88 L183.74,624.68 L184.20,624.75 L184.67,624.86 L185.13,624.96 L185.59,625.20 L186.06,624.83 L186.52,625.07 L186.98,624.74 L187.45,625.10 L187.91,624.57 L188.37,624.78 L188.84,624.57 L189.30,625.20 L189.76,624.61 L190.23,625.04 L190.69,624.80 L191.15,625.12 L191.62,624.68 L192.08,625.06 L192.55,624.69 L193.01,625.11 L193.47,624.76 L193.94,625.13 L194.40,624.86 L194.86,624.92 L195.33,624.84 L195.79,625.16 L196.25,624.72 L196.72,625.20 L197.18,624.78 L197.64,625.20 L198.11,624.85 L198.57,625.20 L199.03,624.90 L199.50,625.20 L199.96,624.77 L200.42,625.11 L200.89,624.73 L201.35,625.09 L201.82,624.77 L202.28,625.01 L202.74,624.92 L203.21,625.18 L203.67,624.83 L204.13,625.05 L204.60,625.03 L205.06,624.91 L205.52,625.08 L205.99,625.05 L206.45,624.88 L206.91,625.11 L207.38,624.99 L207.84,625.13 L208.30,624.97 L208.77,625.20 L209.23,624.84 L209.69,625.20 L210.16,624.96 L210.62,624.96 L211.08,625.04 L211.55,624.96 L212.01,624.99 L212.48,625.20 L212.94,624.79 L213.40,625.16 L213.87,624.77 L214.33,625.18 L214.79,624.86 L215.26,625.19 L215.72,624.98 L216.18,625.06 L216.65,625.02 L217.11,625.15 L217.57,625.06 L218.04,625.20 L218.50,625.01 L218.96,625.20 L219.43,624.84 L219.89,625.15 L220.35,625.02 L220.82,625.20 L221.28,624.93 L221.74,625.08 L222.21,624.92 L222.67,625.20 L223.14,624.74 L223.60,624.91 L224.06,625.00 L224.53,625.20 L224.99,624.95 L225.45,625.20 L225.92,624.83 L226.38,625.20 L226.84,624.96 L227.31,625.06 L227.77,624.89 L228.23,625.08 L228.70,624.82 L229.16,625.20 L229.62,624.89 L230.09,625.15 L230.55,624.96 L231.01,625.19 L231.48,624.92 L231.94,625.20 L232.41,624.80 L232.87,625.20 L233.33,624.87 L233.80,625.14 L234.26,625.00 L234.72,625.16 L235.19,625.00 L235.65,625.12 L236.11,624.79 L236.58,625.13 L237.04,624.94 L237.50,625.14 L237.97,624.92 L238.43,625.09 L238.89,624.92 L239.36,625.12 L239.82,624.94 L240.28,625.19 L240.75,625.05 L241.21,625.20 L241.67,625.00 L242.14,625.14 L242.60,625.11 L243.07,624.97 L243.53,624.96 L243.99,625.12 L244.46,625.09 L244.92,625.20 L245.38,625.09 L245.85,625.20 L246.31,624.84 L246.77,625.20 L247.24,625.06 L247.70,625.17" fill="none" stroke="#333" stroke-width="0.85" stroke-linejoin="round" opacity="1.0"/><path d="M53.50,624.96 L53.96,625.20 L54.43,624.92 L54.89,625.08 L55.35,624.91 L55.82,625.18 L56.28,624.99 L56.74,625.13 L57.21,625.03 L57.67,625.20 L58.13,624.95 L58.60,625.20 L59.06,625.11 L59.53,625.10 L59.99,624.97 L60.45,625.20 L60.92,624.96 L61.38,625.11 L61.84,624.80 L62.31,625.18 L62.77,624.87 L63.23,625.14 L63.70,624.96 L64.16,625.08 L64.62,624.99 L65.09,624.98 L65.55,625.02 L66.01,625.20 L66.48,625.02 L66.94,625.20 L67.40,625.06 L67.87,625.20 L68.33,625.01 L68.79,625.11 L69.26,624.94 L69.72,625.08 L70.19,624.88 L70.65,625.20 L71.11,624.86 L71.58,625.20 L72.04,624.86 L72.50,625.20 L72.97,624.94 L73.43,625.20 L73.89,625.05 L74.36,625.06 L74.82,624.92 L75.28,625.20 L75.75,624.82 L76.21,625.10 L76.67,624.69 L77.14,625.13 L77.60,624.61 L78.06,625.05 L78.53,624.80 L78.99,625.20 L79.46,624.76 L79.92,624.93 L80.38,624.90 L80.85,625.16 L81.31,624.76 L81.77,624.98 L82.24,624.88 L82.70,624.98 L83.16,624.76 L83.63,625.08 L84.09,624.62 L84.55,624.84 L85.02,624.67 L85.48,625.17 L85.94,624.87 L86.41,625.14 L86.87,624.63 L87.33,624.98 L87.80,624.92 L88.26,625.02 L88.72,624.78 L89.19,625.07 L89.65,624.77 L90.12,625.13 L90.58,624.69 L91.04,625.07 L91.51,624.90 L91.97,625.16 L92.43,624.49 L92.90,625.02 L93.36,624.70 L93.82,624.99 L94.29,624.66 L94.75,625.20 L95.21,624.63 L95.68,624.90 L96.14,624.88 L96.60,624.94 L97.07,624.43 L97.53,624.96 L97.99,624.72 L98.46,625.10 L98.92,625.02 L99.38,624.97 L99.85,624.50 L100.31,624.92 L100.78,624.72 L101.24,625.05 L101.70,624.63 L102.17,625.00 L102.63,624.25 L103.09,624.78 L103.56,624.23 L104.02,624.67 L104.48,624.44 L104.95,625.05 L105.41,624.46 L105.87,624.76 L106.34,624.38 L106.80,624.75 L107.26,624.46 L107.73,624.64 L108.19,624.66 L108.65,625.03 L109.12,624.64 L109.58,624.95 L110.05,624.50 L110.51,624.90 L110.97,624.42 L111.44,624.57 L111.90,624.65 L112.36,624.83 L112.83,624.11 L113.29,624.94 L113.75,624.19 L114.22,624.71 L114.68,624.42 L115.14,624.73 L115.61,624.22 L116.07,625.19 L116.53,624.00 L117.00,624.48 L117.46,624.28 L117.92,624.93 L118.39,623.89 L118.85,624.57 L119.31,624.24 L119.78,624.67 L120.24,624.01 L120.71,624.01 L121.17,623.82 L121.63,624.97 L122.10,623.54 L122.56,624.44 L123.02,623.60 L123.49,624.25 L123.95,623.42 L124.41,624.62 L124.88,622.66 L125.34,624.50 L125.80,623.16 L126.27,623.60 L126.73,622.11 L127.19,622.64 L127.66,620.79 L128.12,622.16 L128.58,620.56 L129.05,620.67 L129.51,619.98 L129.97,621.82 L130.44,619.49 L130.90,620.58 L131.37,619.01 L131.83,620.15 L132.29,616.22 L132.76,618.58 L133.22,616.63 L133.68,619.35 L134.15,615.30 L134.61,617.01 L135.07,614.83 L135.54,617.24 L136.00,612.66 L136.46,616.17 L136.93,615.78 L137.39,615.43 L137.85,611.10 L138.32,614.23 L138.78,612.24 L139.24,612.85 L139.71,612.10 L140.17,614.36 L140.64,609.55 L141.10,609.86 L141.56,611.87 L142.03,613.66 L142.49,610.08 L142.95,611.12 L143.42,609.61 L143.88,613.01 L144.34,608.45 L144.81,613.86 L145.27,607.17 L145.73,613.78 L146.20,605.18 L146.66,610.13 L147.12,608.85 L147.59,610.43 L148.05,608.83 L148.51,609.74 L148.98,606.03 L149.44,610.32 L149.90,604.93 L150.37,610.43 L150.83,604.71 L151.30,609.43 L151.76,605.75 L152.22,608.24 L152.69,604.44 L153.15,608.53 L153.61,602.69 L154.08,607.72 L154.54,602.87 L155.00,607.98 L155.47,605.48 L155.93,606.99 L156.39,602.46 L156.86,606.66 L157.32,602.28 L157.78,607.35 L158.25,602.56 L158.71,603.51 L159.17,603.64 L159.64,604.36 L160.10,600.47 L160.56,605.50 L161.03,602.04 L161.49,605.60 L161.96,600.43 L162.42,605.09 L162.88,604.76 L163.35,605.49 L163.81,604.35 L164.27,608.06 L164.74,602.15 L165.20,605.16 L165.66,603.94 L166.13,607.92 L166.59,602.01 L167.05,608.62 L167.52,604.84 L167.98,611.91 L168.44,606.47 L168.91,609.30 L169.37,602.77 L169.83,609.51 L170.30,603.06 L170.76,609.56 L171.23,608.46 L171.69,610.47 L172.15,604.23 L172.62,612.06 L173.08,606.27 L173.54,609.94 L174.01,607.19 L174.47,614.00 L174.93,609.39 L175.40,612.50 L175.86,607.32 L176.32,613.36 L176.79,607.28 L177.25,613.44 L177.71,611.01 L178.18,612.96 L178.64,609.34 L179.10,615.14 L179.57,611.93 L180.03,612.03 L180.49,611.46 L180.96,613.58 L181.42,610.89 L181.89,616.01 L182.35,612.45 L182.81,615.07 L183.28,612.17 L183.74,614.26 L184.20,614.16 L184.67,615.55 L185.13,614.07 L185.59,615.25 L186.06,612.62 L186.52,618.11 L186.98,613.02 L187.45,616.38 L187.91,616.85 L188.37,617.55 L188.84,615.94 L189.30,618.30 L189.76,616.15 L190.23,618.76 L190.69,616.24 L191.15,619.45 L191.62,618.65 L192.08,619.31 L192.55,618.37 L193.01,619.13 L193.47,618.29 L193.94,619.96 L194.40,619.44 L194.86,618.78 L195.33,619.79 L195.79,620.64 L196.25,618.90 L196.72,620.73 L197.18,618.71 L197.64,620.40 L198.11,619.27 L198.57,620.64 L199.03,619.46 L199.50,622.70 L199.96,620.39 L200.42,622.82 L200.89,619.64 L201.35,621.65 L201.82,620.54 L202.28,622.00 L202.74,619.89 L203.21,622.93 L203.67,621.09 L204.13,622.67 L204.60,621.45 L205.06,623.41 L205.52,621.35 L205.99,622.66 L206.45,622.32 L206.91,623.20 L207.38,622.25 L207.84,623.25 L208.30,621.26 L208.77,623.39 L209.23,622.83 L209.69,623.87 L210.16,622.29 L210.62,623.79 L211.08,622.97 L211.55,623.99 L212.01,623.46 L212.48,623.51 L212.94,623.01 L213.40,623.89 L213.87,623.74 L214.33,624.82 L214.79,623.14 L215.26,624.54 L215.72,623.05 L216.18,624.12 L216.65,623.37 L217.11,624.47 L217.57,623.53 L218.04,624.09 L218.50,623.97 L218.96,624.02 L219.43,623.44 L219.89,624.48 L220.35,624.04 L220.82,624.76 L221.28,623.62 L221.74,624.67 L222.21,623.97 L222.67,624.58 L223.14,623.89 L223.60,624.71 L224.06,623.97 L224.53,624.85 L224.99,623.96 L225.45,624.71 L225.92,624.32 L226.38,624.85 L226.84,624.14 L227.31,624.79 L227.77,624.28 L228.23,624.96 L228.70,624.21 L229.16,624.66 L229.62,623.91 L230.09,624.97 L230.55,624.22 L231.01,625.20 L231.48,624.10 L231.94,624.94 L232.41,624.46 L232.87,624.79 L233.33,624.67 L233.80,625.13 L234.26,624.38 L234.72,624.62 L235.19,624.72 L235.65,624.87 L236.11,624.61 L236.58,624.97 L237.04,624.43 L237.50,624.93 L237.97,624.35 L238.43,625.09 L238.89,624.55 L239.36,625.02 L239.82,624.57 L240.28,624.83 L240.75,624.41 L241.21,624.76 L241.67,624.36 L242.14,625.20 L242.60,624.68 L243.07,624.99 L243.53,624.50 L243.99,624.94 L244.46,624.65 L244.92,624.62 L245.38,624.37 L245.85,624.88 L246.31,624.63 L246.77,625.20 L247.24,624.80 L247.70,624.85" fill="none" stroke="#5a5a5a" stroke-width="0.95" stroke-linejoin="round" opacity="1.0"/><path d="M53.50,624.99 L53.96,624.90 L54.43,624.45 L54.89,625.01 L55.35,624.33 L55.82,624.69 L56.28,624.33 L56.74,624.64 L57.21,623.98 L57.67,624.50 L58.13,623.57 L58.60,624.73 L59.06,623.21 L59.53,624.34 L59.99,623.22 L60.45,623.99 L60.92,623.11 L61.38,624.17 L61.84,622.68 L62.31,624.05 L62.77,622.15 L63.23,624.27 L63.70,622.85 L64.16,623.55 L64.62,622.39 L65.09,623.53 L65.55,621.51 L66.01,623.80 L66.48,621.80 L66.94,623.49 L67.40,622.32 L67.87,622.97 L68.33,622.82 L68.79,624.34 L69.26,621.90 L69.72,623.74 L70.19,622.44 L70.65,623.10 L71.11,622.28 L71.58,623.25 L72.04,621.13 L72.50,622.40 L72.97,622.02 L73.43,623.34 L73.89,622.43 L74.36,622.99 L74.82,622.23 L75.28,623.07 L75.75,621.35 L76.21,623.75 L76.67,621.81 L77.14,622.08 L77.60,621.55 L78.06,622.03 L78.53,621.19 L78.99,623.52 L79.46,621.56 L79.92,622.73 L80.38,622.52 L80.85,623.20 L81.31,622.55 L81.77,622.92 L82.24,621.37 L82.70,624.03 L83.16,621.37 L83.63,623.96 L84.09,621.34 L84.55,623.90 L85.02,620.56 L85.48,623.35 L85.94,621.46 L86.41,623.05 L86.87,622.25 L87.33,622.77 L87.80,621.18 L88.26,622.79 L88.72,620.85 L89.19,622.92 L89.65,621.13 L90.12,623.45 L90.58,621.50 L91.04,622.29 L91.51,621.86 L91.97,622.59 L92.43,621.48 L92.90,622.53 L93.36,620.04 L93.82,622.66 L94.29,621.18 L94.75,623.28 L95.21,621.56 L95.68,622.79 L96.14,621.26 L96.60,622.53 L97.07,622.42 L97.53,622.42 L97.99,620.87 L98.46,623.07 L98.92,620.75 L99.38,622.97 L99.85,620.87 L100.31,622.91 L100.78,622.51 L101.24,624.42 L101.70,622.16 L102.17,623.25 L102.63,621.44 L103.09,623.26 L103.56,622.24 L104.02,622.16 L104.48,621.82 L104.95,622.87 L105.41,621.53 L105.87,622.62 L106.34,622.18 L106.80,622.98 L107.26,621.91 L107.73,622.77 L108.19,621.13 L108.65,623.30 L109.12,621.53 L109.58,623.61 L110.05,622.90 L110.51,623.35 L110.97,622.37 L111.44,622.65 L111.90,622.04 L112.36,623.71 L112.83,622.09 L113.29,623.29 L113.75,622.79 L114.22,623.28 L114.68,621.85 L115.14,623.63 L115.61,621.68 L116.07,623.22 L116.53,621.79 L117.00,622.83 L117.46,622.14 L117.92,623.11 L118.39,621.01 L118.85,622.78 L119.31,621.27 L119.78,623.49 L120.24,621.64 L120.71,621.88 L121.17,622.16 L121.63,623.71 L122.10,621.77 L122.56,623.09 L123.02,622.20 L123.49,622.86 L123.95,621.04 L124.41,622.60 L124.88,621.40 L125.34,621.94 L125.80,621.44 L126.27,622.34 L126.73,621.34 L127.19,623.40 L127.66,621.41 L128.12,621.32 L128.58,619.97 L129.05,622.21 L129.51,620.87 L129.97,622.37 L130.44,619.97 L130.90,622.15 L131.37,620.42 L131.83,620.54 L132.29,617.59 L132.76,620.01 L133.22,618.82 L133.68,619.36 L134.15,617.24 L134.61,619.90 L135.07,615.47 L135.54,616.76 L136.00,616.96 L136.46,618.96 L136.93,615.91 L137.39,616.99 L137.85,613.61 L138.32,616.12 L138.78,615.34 L139.24,615.24 L139.71,612.18 L140.17,614.64 L140.64,612.09 L141.10,613.66 L141.56,610.39 L142.03,612.51 L142.49,611.38 L142.95,613.09 L143.42,609.66 L143.88,614.27 L144.34,608.49 L144.81,610.14 L145.27,608.57 L145.73,616.28 L146.20,608.48 L146.66,613.80 L147.12,607.05 L147.59,612.45 L148.05,609.09 L148.51,612.23 L148.98,609.82 L149.44,612.73 L149.90,609.16 L150.37,612.99 L150.83,607.56 L151.30,611.15 L151.76,605.65 L152.22,609.79 L152.69,604.98 L153.15,609.51 L153.61,605.14 L154.08,610.26 L154.54,604.62 L155.00,609.16 L155.47,605.08 L155.93,606.01 L156.39,605.42 L156.86,606.38 L157.32,606.91 L157.78,608.23 L158.25,603.09 L158.71,609.02 L159.17,603.06 L159.64,611.15 L160.10,604.88 L160.56,607.36 L161.03,602.46 L161.49,612.43 L161.96,602.54 L162.42,609.28 L162.88,604.66 L163.35,607.04 L163.81,602.71 L164.27,605.66 L164.74,602.41 L165.20,608.38 L165.66,604.80 L166.13,607.18 L166.59,607.02 L167.05,609.08 L167.52,605.74 L167.98,607.09 L168.44,605.59 L168.91,609.24 L169.37,605.26 L169.83,610.94 L170.30,605.53 L170.76,611.11 L171.23,605.31 L171.69,611.30 L172.15,608.40 L172.62,613.76 L173.08,609.14 L173.54,612.21 L174.01,609.18 L174.47,613.83 L174.93,609.76 L175.40,611.83 L175.86,610.13 L176.32,614.69 L176.79,612.80 L177.25,612.17 L177.71,612.11 L178.18,614.69 L178.64,610.18 L179.10,614.76 L179.57,612.59 L180.03,613.68 L180.49,611.96 L180.96,614.94 L181.42,613.33 L181.89,616.54 L182.35,611.08 L182.81,616.14 L183.28,613.47 L183.74,616.45 L184.20,613.34 L184.67,616.52 L185.13,613.51 L185.59,617.82 L186.06,614.09 L186.52,618.68 L186.98,614.92 L187.45,619.17 L187.91,615.57 L188.37,620.03 L188.84,615.45 L189.30,618.37 L189.76,616.33 L190.23,618.04 L190.69,615.81 L191.15,619.62 L191.62,617.38 L192.08,620.04 L192.55,619.49 L193.01,620.11 L193.47,618.47 L193.94,620.13 L194.40,618.30 L194.86,620.98 L195.33,618.89 L195.79,620.22 L196.25,619.64 L196.72,621.50 L197.18,619.43 L197.64,621.41 L198.11,620.46 L198.57,621.33 L199.03,621.28 L199.50,621.87 L199.96,619.60 L200.42,621.50 L200.89,622.04 L201.35,621.78 L201.82,620.44 L202.28,622.29 L202.74,621.76 L203.21,622.99 L203.67,620.56 L204.13,622.29 L204.60,621.40 L205.06,621.61 L205.52,621.40 L205.99,622.32 L206.45,620.52 L206.91,624.13 L207.38,620.75 L207.84,623.54 L208.30,621.31 L208.77,623.00 L209.23,621.84 L209.69,623.60 L210.16,621.85 L210.62,624.38 L211.08,621.97 L211.55,623.75 L212.01,622.18 L212.48,623.75 L212.94,623.07 L213.40,623.21 L213.87,622.38 L214.33,623.78 L214.79,621.67 L215.26,624.44 L215.72,623.42 L216.18,623.81 L216.65,622.22 L217.11,624.13 L217.57,623.34 L218.04,624.11 L218.50,623.24 L218.96,623.90 L219.43,622.90 L219.89,624.04 L220.35,623.09 L220.82,623.60 L221.28,623.39 L221.74,624.66 L222.21,622.42 L222.67,623.95 L223.14,623.01 L223.60,624.54 L224.06,623.20 L224.53,624.27 L224.99,623.53 L225.45,624.46 L225.92,623.63 L226.38,623.59 L226.84,623.39 L227.31,624.62 L227.77,623.69 L228.23,624.27 L228.70,623.88 L229.16,624.46 L229.62,623.48 L230.09,624.37 L230.55,624.14 L231.01,624.80 L231.48,624.04 L231.94,624.13 L232.41,623.91 L232.87,624.42 L233.33,623.55 L233.80,624.65 L234.26,623.16 L234.72,624.58 L235.19,623.42 L235.65,624.18 L236.11,623.92 L236.58,624.59 L237.04,623.62 L237.50,624.53 L237.97,623.77 L238.43,624.35 L238.89,623.97 L239.36,624.54 L239.82,623.84 L240.28,624.34 L240.75,624.08 L241.21,624.40 L241.67,623.38 L242.14,622.67 L242.60,620.43 L243.07,624.37 L243.53,623.99 L243.99,624.66 L244.46,623.72 L244.92,624.74 L245.38,624.14 L245.85,624.91 L246.31,624.07 L246.77,625.05 L247.24,624.81 L247.70,624.92" fill="none" stroke="#d2207e" stroke-width="0.95" stroke-linejoin="round" opacity="1.0"/><path d="M53.50,625.20 L53.96,625.20 L54.43,624.99 L54.89,625.03 L55.35,624.85 L55.82,625.09 L56.28,624.71 L56.74,624.98 L57.21,624.69 L57.67,625.17 L58.13,624.66 L58.60,625.11 L59.06,624.50 L59.53,624.58 L59.99,624.43 L60.45,624.96 L60.92,624.20 L61.38,624.81 L61.84,624.39 L62.31,624.67 L62.77,624.30 L63.23,624.70 L63.70,624.38 L64.16,624.67 L64.62,624.09 L65.09,624.63 L65.55,624.01 L66.01,624.30 L66.48,623.76 L66.94,625.14 L67.40,623.92 L67.87,624.27 L68.33,623.43 L68.79,624.25 L69.26,623.72 L69.72,624.29 L70.19,623.16 L70.65,623.98 L71.11,622.72 L71.58,624.42 L72.04,623.82 L72.50,624.08 L72.97,623.68 L73.43,624.00 L73.89,622.67 L74.36,623.70 L74.82,622.67 L75.28,623.87 L75.75,622.44 L76.21,623.68 L76.67,622.29 L77.14,624.50 L77.60,622.67 L78.06,623.88 L78.53,623.35 L78.99,623.30 L79.46,622.47 L79.92,623.95 L80.38,622.09 L80.85,624.26 L81.31,622.37 L81.77,623.52 L82.24,621.59 L82.70,624.83 L83.16,623.69 L83.63,625.05 L84.09,622.61 L84.55,624.67 L85.02,622.42 L85.48,623.00 L85.94,623.33 L86.41,624.71 L86.87,622.98 L87.33,623.88 L87.80,622.73 L88.26,624.04 L88.72,622.01 L89.19,623.61 L89.65,622.39 L90.12,624.38 L90.58,623.26 L91.04,623.83 L91.51,622.49 L91.97,623.25 L92.43,621.87 L92.90,623.60 L93.36,622.53 L93.82,624.46 L94.29,622.51 L94.75,624.00 L95.21,622.35 L95.68,624.38 L96.14,622.77 L96.60,623.61 L97.07,622.83 L97.53,623.95 L97.99,623.00 L98.46,623.58 L98.92,622.89 L99.38,624.46 L99.85,622.02 L100.31,624.28 L100.78,623.61 L101.24,623.30 L101.70,622.64 L102.17,623.63 L102.63,623.02 L103.09,623.69 L103.56,623.26 L104.02,623.08 L104.48,622.76 L104.95,624.19 L105.41,622.78 L105.87,624.87 L106.34,623.41 L106.80,624.15 L107.26,623.03 L107.73,624.21 L108.19,623.36 L108.65,624.46 L109.12,621.95 L109.58,623.67 L110.05,622.61 L110.51,623.95 L110.97,622.88 L111.44,624.05 L111.90,622.33 L112.36,623.88 L112.83,623.38 L113.29,624.24 L113.75,622.99 L114.22,623.42 L114.68,622.16 L115.14,623.19 L115.61,622.21 L116.07,623.79 L116.53,622.23 L117.00,623.81 L117.46,621.60 L117.92,623.86 L118.39,623.16 L118.85,624.21 L119.31,621.87 L119.78,624.05 L120.24,623.20 L120.71,623.90 L121.17,623.49 L121.63,623.43 L122.10,621.48 L122.56,622.45 L123.02,622.45 L123.49,622.87 L123.95,622.78 L124.41,622.57 L124.88,622.63 L125.34,623.49 L125.80,621.20 L126.27,622.95 L126.73,622.03 L127.19,623.42 L127.66,621.31 L128.12,621.60 L128.58,620.41 L129.05,621.94 L129.51,620.42 L129.97,621.15 L130.44,618.54 L130.90,620.31 L131.37,618.80 L131.83,617.85 L132.29,612.56 L132.76,614.24 L133.22,611.88 L133.68,611.02 L134.15,609.77 L134.61,611.86 L135.07,607.33 L135.54,608.23 L136.00,605.24 L136.46,606.19 L136.93,599.03 L137.39,604.69 L137.85,601.00 L138.32,606.40 L138.78,600.68 L139.24,604.44 L139.71,599.91 L140.17,603.95 L140.64,596.32 L141.10,604.19 L141.56,596.06 L142.03,606.20 L142.49,596.51 L142.95,601.58 L143.42,597.78 L143.88,600.43 L144.34,595.80 L144.81,601.80 L145.27,598.36 L145.73,601.82 L146.20,598.70 L146.66,603.51 L147.12,595.51 L147.59,604.42 L148.05,596.69 L148.51,600.93 L148.98,597.13 L149.44,603.60 L149.90,598.52 L150.37,601.53 L150.83,601.99 L151.30,602.33 L151.76,599.22 L152.22,604.76 L152.69,602.03 L153.15,606.66 L153.61,604.08 L154.08,608.79 L154.54,600.60 L155.00,608.50 L155.47,605.42 L155.93,607.29 L156.39,606.92 L156.86,610.83 L157.32,606.12 L157.78,610.15 L158.25,609.03 L158.71,613.10 L159.17,609.88 L159.64,614.51 L160.10,609.33 L160.56,615.43 L161.03,611.51 L161.49,614.44 L161.96,613.46 L162.42,614.46 L162.88,612.80 L163.35,617.86 L163.81,614.42 L164.27,617.47 L164.74,615.51 L165.20,617.68 L165.66,615.22 L166.13,619.33 L166.59,616.94 L167.05,619.71 L167.52,618.13 L167.98,618.82 L168.44,619.44 L168.91,619.34 L169.37,618.00 L169.83,620.26 L170.30,618.85 L170.76,621.09 L171.23,618.99 L171.69,620.66 L172.15,619.37 L172.62,620.90 L173.08,619.61 L173.54,621.54 L174.01,619.69 L174.47,622.10 L174.93,620.80 L175.40,623.15 L175.86,620.24 L176.32,622.62 L176.79,621.96 L177.25,622.55 L177.71,620.53 L178.18,622.29 L178.64,620.99 L179.10,623.46 L179.57,621.52 L180.03,623.26 L180.49,621.59 L180.96,622.90 L181.42,622.74 L181.89,623.19 L182.35,622.62 L182.81,623.01 L183.28,622.40 L183.74,624.25 L184.20,623.25 L184.67,624.00 L185.13,623.00 L185.59,623.94 L186.06,622.93 L186.52,624.18 L186.98,622.29 L187.45,624.04 L187.91,623.47 L188.37,624.65 L188.84,622.55 L189.30,623.70 L189.76,623.63 L190.23,624.79 L190.69,623.85 L191.15,624.94 L191.62,623.93 L192.08,623.88 L192.55,623.48 L193.01,623.84 L193.47,623.34 L193.94,624.52 L194.40,623.45 L194.86,624.26 L195.33,623.55 L195.79,624.55 L196.25,623.34 L196.72,624.70 L197.18,623.52 L197.64,624.46 L198.11,624.12 L198.57,624.29 L199.03,623.59 L199.50,624.14 L199.96,623.67 L200.42,624.30 L200.89,624.11 L201.35,624.74 L201.82,623.51 L202.28,624.94 L202.74,623.54 L203.21,624.31 L203.67,624.05 L204.13,625.16 L204.60,624.06 L205.06,624.41 L205.52,624.11 L205.99,624.74 L206.45,623.95 L206.91,624.97 L207.38,624.18 L207.84,624.76 L208.30,624.02 L208.77,624.59 L209.23,623.77 L209.69,624.75 L210.16,624.15 L210.62,624.78 L211.08,623.94 L211.55,624.68 L212.01,624.28 L212.48,625.20 L212.94,623.81 L213.40,624.49 L213.87,623.98 L214.33,624.99 L214.79,623.76 L215.26,625.03 L215.72,624.65 L216.18,624.78 L216.65,624.29 L217.11,624.75 L217.57,624.22 L218.04,624.87 L218.50,624.42 L218.96,624.91 L219.43,624.64 L219.89,625.10 L220.35,624.35 L220.82,624.95 L221.28,624.49 L221.74,624.87 L222.21,624.68 L222.67,624.78 L223.14,624.38 L223.60,624.87 L224.06,624.48 L224.53,624.81 L224.99,624.47 L225.45,625.02 L225.92,624.76 L226.38,624.95 L226.84,624.36 L227.31,625.00 L227.77,624.64 L228.23,624.82 L228.70,624.53 L229.16,624.82 L229.62,624.30 L230.09,624.88 L230.55,624.55 L231.01,625.02 L231.48,624.54 L231.94,625.08 L232.41,624.44 L232.87,625.20 L233.33,624.92 L233.80,625.05 L234.26,624.51 L234.72,625.16 L235.19,624.58 L235.65,625.20 L236.11,624.62 L236.58,625.17 L237.04,624.66 L237.50,625.04 L237.97,624.39 L238.43,624.99 L238.89,624.57 L239.36,625.04 L239.82,624.53 L240.28,624.97 L240.75,624.58 L241.21,625.04 L241.67,624.81 L242.14,624.91 L242.60,624.58 L243.07,624.95 L243.53,624.84 L243.99,625.20 L244.46,624.76 L244.92,624.88 L245.38,624.74 L245.85,625.02 L246.31,624.78 L246.77,624.91 L247.24,624.74 L247.70,624.85" fill="none" stroke="#26268a" stroke-width="0.95" stroke-linejoin="round" opacity="1.0"/><path d="M53.50,625.20 L53.96,625.20 L54.43,625.20 L54.89,625.20 L55.35,625.16 L55.82,625.20 L56.28,625.06 L56.74,625.20 L57.21,625.03 L57.67,625.17 L58.13,625.03 L58.60,625.10 L59.06,624.98 L59.53,625.20 L59.99,624.92 L60.45,625.09 L60.92,625.07 L61.38,625.19 L61.84,624.81 L62.31,625.20 L62.77,624.84 L63.23,624.98 L63.70,624.65 L64.16,624.83 L64.62,624.60 L65.09,625.18 L65.55,624.69 L66.01,625.19 L66.48,624.55 L66.94,624.99 L67.40,624.45 L67.87,624.87 L68.33,624.42 L68.79,624.84 L69.26,624.64 L69.72,624.87 L70.19,624.05 L70.65,624.75 L71.11,624.34 L71.58,624.55 L72.04,624.28 L72.50,624.91 L72.97,623.97 L73.43,624.91 L73.89,624.21 L74.36,625.20 L74.82,623.67 L75.28,624.76 L75.75,623.70 L76.21,624.74 L76.67,623.84 L77.14,624.85 L77.60,623.99 L78.06,624.71 L78.53,623.93 L78.99,624.61 L79.46,624.55 L79.92,624.43 L80.38,624.11 L80.85,623.81 L81.31,623.40 L81.77,624.26 L82.24,623.62 L82.70,624.31 L83.16,623.77 L83.63,625.01 L84.09,623.58 L84.55,624.04 L85.02,623.77 L85.48,624.73 L85.94,623.66 L86.41,624.75 L86.87,624.15 L87.33,625.06 L87.80,623.90 L88.26,624.95 L88.72,623.69 L89.19,624.43 L89.65,623.78 L90.12,624.23 L90.58,623.15 L91.04,624.62 L91.51,623.58 L91.97,624.22 L92.43,623.78 L92.90,623.73 L93.36,623.72 L93.82,624.66 L94.29,623.66 L94.75,624.23 L95.21,623.56 L95.68,624.19 L96.14,623.29 L96.60,624.11 L97.07,623.54 L97.53,624.80 L97.99,623.67 L98.46,624.20 L98.92,623.59 L99.38,624.88 L99.85,623.72 L100.31,625.20 L100.78,623.69 L101.24,624.59 L101.70,623.04 L102.17,624.71 L102.63,623.67 L103.09,624.30 L103.56,622.95 L104.02,623.96 L104.48,623.26 L104.95,623.81 L105.41,623.75 L105.87,623.93 L106.34,622.86 L106.80,624.63 L107.26,623.60 L107.73,624.62 L108.19,623.24 L108.65,624.13 L109.12,623.82 L109.58,624.52 L110.05,623.41 L110.51,623.89 L110.97,622.91 L111.44,623.41 L111.90,623.22 L112.36,624.32 L112.83,623.15 L113.29,624.65 L113.75,622.66 L114.22,624.13 L114.68,622.42 L115.14,623.61 L115.61,623.03 L116.07,623.75 L116.53,623.15 L117.00,624.82 L117.46,623.17 L117.92,623.83 L118.39,622.91 L118.85,624.40 L119.31,622.00 L119.78,623.51 L120.24,622.55 L120.71,623.71 L121.17,621.99 L121.63,623.51 L122.10,621.79 L122.56,623.79 L123.02,621.96 L123.49,622.16 L123.95,621.53 L124.41,622.30 L124.88,622.56 L125.34,623.21 L125.80,622.06 L126.27,622.54 L126.73,620.47 L127.19,621.26 L127.66,619.03 L128.12,621.82 L128.58,619.63 L129.05,621.39 L129.51,618.36 L129.97,621.05 L130.44,616.23 L130.90,616.38 L131.37,613.01 L131.83,616.03 L132.29,613.54 L132.76,614.01 L133.22,611.26 L133.68,614.14 L134.15,612.55 L134.61,611.14 L135.07,605.59 L135.54,612.15 L136.00,605.15 L136.46,611.12 L136.93,605.98 L137.39,609.67 L137.85,607.91 L138.32,609.44 L138.78,602.66 L139.24,610.21 L139.71,605.22 L140.17,610.13 L140.64,600.44 L141.10,607.52 L141.56,601.87 L142.03,610.26 L142.49,605.74 L142.95,605.74 L143.42,607.85 L143.88,608.37 L144.34,604.07 L144.81,608.45 L145.27,599.54 L145.73,607.43 L146.20,601.58 L146.66,606.20 L147.12,602.59 L147.59,608.35 L148.05,603.00 L148.51,607.72 L148.98,602.20 L149.44,610.40 L149.90,601.82 L150.37,608.38 L150.83,601.28 L151.30,604.16 L151.76,603.98 L152.22,608.50 L152.69,602.24 L153.15,605.79 L153.61,601.80 L154.08,605.97 L154.54,602.73 L155.00,608.67 L155.47,601.25 L155.93,609.34 L156.39,601.49 L156.86,607.33 L157.32,605.17 L157.78,608.25 L158.25,603.75 L158.71,608.22 L159.17,601.26 L159.64,607.03 L160.10,605.05 L160.56,610.96 L161.03,603.58 L161.49,609.18 L161.96,605.86 L162.42,611.07 L162.88,607.01 L163.35,608.79 L163.81,605.80 L164.27,611.37 L164.74,607.55 L165.20,610.35 L165.66,605.01 L166.13,611.56 L166.59,606.81 L167.05,608.64 L167.52,609.46 L167.98,612.45 L168.44,607.00 L168.91,612.81 L169.37,606.10 L169.83,613.08 L170.30,609.61 L170.76,613.65 L171.23,608.76 L171.69,610.22 L172.15,608.91 L172.62,614.45 L173.08,609.15 L173.54,615.83 L174.01,610.70 L174.47,612.95 L174.93,612.52 L175.40,613.95 L175.86,609.72 L176.32,613.97 L176.79,612.93 L177.25,616.12 L177.71,614.46 L178.18,616.15 L178.64,612.82 L179.10,617.63 L179.57,613.87 L180.03,617.84 L180.49,614.10 L180.96,616.13 L181.42,613.77 L181.89,617.81 L182.35,614.75 L182.81,616.43 L183.28,617.00 L183.74,618.54 L184.20,616.89 L184.67,618.65 L185.13,617.38 L185.59,617.96 L186.06,618.05 L186.52,619.52 L186.98,618.19 L187.45,620.01 L187.91,617.57 L188.37,619.77 L188.84,618.18 L189.30,620.49 L189.76,618.97 L190.23,620.33 L190.69,619.04 L191.15,620.70 L191.62,619.47 L192.08,620.64 L192.55,620.57 L193.01,622.83 L193.47,620.80 L193.94,623.03 L194.40,620.00 L194.86,621.65 L195.33,621.20 L195.79,622.26 L196.25,621.15 L196.72,622.90 L197.18,620.38 L197.64,622.60 L198.11,621.62 L198.57,622.86 L199.03,621.86 L199.50,622.83 L199.96,621.63 L200.42,622.76 L200.89,622.09 L201.35,623.62 L201.82,622.21 L202.28,624.10 L202.74,622.14 L203.21,623.59 L203.67,621.97 L204.13,623.40 L204.60,622.51 L205.06,624.13 L205.52,622.39 L205.99,623.23 L206.45,622.87 L206.91,623.77 L207.38,622.72 L207.84,623.56 L208.30,622.97 L208.77,623.92 L209.23,623.30 L209.69,624.65 L210.16,623.24 L210.62,624.29 L211.08,622.84 L211.55,624.05 L212.01,622.77 L212.48,624.74 L212.94,622.81 L213.40,624.24 L213.87,624.03 L214.33,624.98 L214.79,623.30 L215.26,624.74 L215.72,623.80 L216.18,624.39 L216.65,624.14 L217.11,624.86 L217.57,623.59 L218.04,624.34 L218.50,624.02 L218.96,623.99 L219.43,623.98 L219.89,624.46 L220.35,623.77 L220.82,624.09 L221.28,624.01 L221.74,624.84 L222.21,624.29 L222.67,624.77 L223.14,624.63 L223.60,624.57 L224.06,623.89 L224.53,624.35 L224.99,623.93 L225.45,624.70 L225.92,623.84 L226.38,624.55 L226.84,623.89 L227.31,624.71 L227.77,624.74 L228.23,624.74 L228.70,624.21 L229.16,624.57 L229.62,624.37 L230.09,625.02 L230.55,624.44 L231.01,624.91 L231.48,624.19 L231.94,624.54 L232.41,624.09 L232.87,624.89 L233.33,624.33 L233.80,624.90 L234.26,624.45 L234.72,624.53 L235.19,624.32 L235.65,624.99 L236.11,624.65 L236.58,625.12 L237.04,624.72 L237.50,624.68 L237.97,624.47 L238.43,625.06 L238.89,624.68 L239.36,624.99 L239.82,624.67 L240.28,624.93 L240.75,624.81 L241.21,625.06 L241.67,624.57 L242.14,624.77 L242.60,624.47 L243.07,625.06 L243.53,624.56 L243.99,625.01 L244.46,624.63 L244.92,624.89 L245.38,624.63 L245.85,625.20 L246.31,624.50 L246.77,625.00 L247.24,624.69 L247.70,625.02" fill="none" stroke="#199a72" stroke-width="0.95" stroke-linejoin="round" opacity="1.0"/><rect x="53.5" y="679.5" width="194.2" height="86.5" fill="none" stroke="#aaaaaa" stroke-width="1"/><text transform="translate(41.94,769.60) scale(1.1200,1)" font-size="10.465" fill="#231f20">0</text><text transform="translate(35.42,752.30) scale(1.1200,1)" font-size="10.465" fill="#231f20">30</text><text transform="translate(35.42,735.00) scale(1.1200,1)" font-size="10.465" fill="#231f20">60</text><text transform="translate(35.42,717.70) scale(1.1200,1)" font-size="10.465" fill="#231f20">90</text><text transform="translate(28.90,700.40) scale(1.1200,1)" font-size="10.465" fill="#231f20">120</text><text transform="translate(28.90,683.10) scale(1.1200,1)" font-size="10.465" fill="#231f20">150</text><text transform="translate(45.20,779.00) scale(1.0500,1)" font-size="10.611" fill="#231f20">10</text><text transform="translate(58.03,774.50) scale(1.0600,1)" font-size="7.704" fill="#231f20">0</text><text transform="translate(93.75,779.00) scale(1.0500,1)" font-size="10.611" fill="#231f20">10</text><text transform="translate(106.28,774.50) scale(1.0600,1)" font-size="7.704" fill="#231f20">1</text><text transform="translate(142.30,779.00) scale(1.0500,1)" font-size="10.611" fill="#231f20">10</text><text transform="translate(155.04,774.50) scale(1.0600,1)" font-size="7.704" fill="#231f20">2</text><text transform="translate(190.85,779.00) scale(1.0500,1)" font-size="10.611" fill="#231f20">10</text><text transform="translate(203.69,774.50) scale(1.0600,1)" font-size="7.704" fill="#231f20">3</text><text transform="translate(239.40,779.00) scale(1.0500,1)" font-size="10.611" fill="#231f20">10</text><text transform="translate(252.36,774.50) scale(1.0600,1)" font-size="7.704" fill="#231f20">4</text><text transform="translate(56.48,693.40) scale(0.9382,1)" font-size="10.320" fill="#231f20">Ter119</text><text x="86.81" y="689.27" font-size="8.050" fill="#231f20">+</text><text transform="translate(90.77,693.40) scale(1.0037,1)" font-size="10.320" fill="#231f20">: integrin β1 (total)</text><text transform="translate(76.39,798.70) scale(0.7301,1)" font-size="12.791" fill="#231f20" stroke="#231f20" stroke-width="0.5">Total Integrin β1</text><line x1="149.3" y1="794.0" x2="216.3" y2="794.0" stroke="#111" stroke-width="1.3"/><path d="M223.5,794.0 L215.3,790.9 L217.3,794.0 L215.3,797.1 Z" fill="#111"/><text transform="translate(21.00,736.80) rotate(-90) scale(0.6460,1)" font-size="13.663" fill="#231f20" stroke="#231f20" stroke-width="0.5">Counts</text><path d="M53.50,765.70 L53.96,765.70 L54.43,765.36 L54.89,765.44 L55.35,764.99 L55.82,765.41 L56.28,764.56 L56.74,764.96 L57.21,764.22 L57.67,764.55 L58.13,763.11 L58.60,763.97 L59.06,762.99 L59.53,764.32 L59.99,763.65 L60.45,763.90 L60.92,761.64 L61.38,763.36 L61.84,761.66 L62.31,762.74 L62.77,761.86 L63.23,762.93 L63.70,762.36 L64.16,761.41 L64.62,760.39 L65.09,761.76 L65.55,760.47 L66.01,761.83 L66.48,760.09 L66.94,761.60 L67.40,758.50 L67.87,760.88 L68.33,756.54 L68.79,759.67 L69.26,756.01 L69.72,759.14 L70.19,756.85 L70.65,759.01 L71.11,753.83 L71.58,756.32 L72.04,748.04 L72.50,754.64 L72.97,748.13 L73.43,749.66 L73.89,746.03 L74.36,747.27 L74.82,742.43 L75.28,744.10 L75.75,736.13 L76.21,743.22 L76.67,734.54 L77.14,732.88 L77.60,728.05 L78.06,732.29 L78.53,721.83 L78.99,720.44 L79.46,710.28 L79.92,711.38 L80.38,698.84 L80.85,704.29 L81.31,699.49 L81.77,701.09 L82.24,699.58 L82.70,703.46 L83.16,697.18 L83.63,703.33 L84.09,699.31 L84.55,708.61 L85.02,702.94 L85.48,708.22 L85.94,707.10 L86.41,718.19 L86.87,709.85 L87.33,717.19 L87.80,712.60 L88.26,720.70 L88.72,716.42 L89.19,727.94 L89.65,722.95 L90.12,729.41 L90.58,726.05 L91.04,736.28 L91.51,735.06 L91.97,734.41 L92.43,736.75 L92.90,738.99 L93.36,737.60 L93.82,742.06 L94.29,743.30 L94.75,744.31 L95.21,745.06 L95.68,749.06 L96.14,748.03 L96.60,754.29 L97.07,753.09 L97.53,754.38 L97.99,755.82 L98.46,760.28 L98.92,759.08 L99.38,761.76 L99.85,761.27 L100.31,762.95 L100.78,761.01 L101.24,763.78 L101.70,762.25 L102.17,763.86 L102.63,762.81 L103.09,764.75 L103.56,764.30 L104.02,763.42 L104.48,763.34 L104.95,764.71 L105.41,763.63 L105.87,764.41 L106.34,762.62 L106.80,764.52 L107.26,764.71 L107.73,764.30 L108.19,764.50 L108.65,765.48 L109.12,763.98 L109.58,763.93 L110.05,763.57 L110.51,764.92 L110.97,763.86 L111.44,764.19 L111.90,763.54 L112.36,764.47 L112.83,763.94 L113.29,765.30 L113.75,764.07 L114.22,764.70 L114.68,763.04 L115.14,764.93 L115.61,764.14 L116.07,765.45 L116.53,763.59 L117.00,764.51 L117.46,763.91 L117.92,765.23 L118.39,764.87 L118.85,764.97 L119.31,764.13 L119.78,764.98 L120.24,764.10 L120.71,765.27 L121.17,764.08 L121.63,764.98 L122.10,764.14 L122.56,765.06 L123.02,764.22 L123.49,764.96 L123.95,764.09 L124.41,765.34 L124.88,764.47 L125.34,765.38 L125.80,764.37 L126.27,765.54 L126.73,764.18 L127.19,765.06 L127.66,764.09 L128.12,764.68 L128.58,764.53 L129.05,765.22 L129.51,764.76 L129.97,765.49 L130.44,764.47 L130.90,764.72 L131.37,764.49 L131.83,764.73 L132.29,764.01 L132.76,765.12 L133.22,764.34 L133.68,765.12 L134.15,764.59 L134.61,765.31 L135.07,764.77 L135.54,765.45 L136.00,764.84 L136.46,765.21 L136.93,764.88 L137.39,764.73 L137.85,764.88 L138.32,765.24 L138.78,764.65 L139.24,765.16 L139.71,764.47 L140.17,765.50 L140.64,764.51 L141.10,765.44 L141.56,764.71 L142.03,765.22 L142.49,764.70 L142.95,765.17 L143.42,764.66 L143.88,765.39 L144.34,764.85 L144.81,765.15 L145.27,764.42 L145.73,765.27 L146.20,764.68 L146.66,765.22 L147.12,764.79 L147.59,765.03 L148.05,764.82 L148.51,765.08 L148.98,764.62 L149.44,764.87 L149.90,764.84 L150.37,765.57 L150.83,764.82 L151.30,765.56 L151.76,764.89 L152.22,765.45 L152.69,765.27 L153.15,765.12 L153.61,764.53 L154.08,765.45 L154.54,764.97 L155.00,765.50 L155.47,765.06 L155.93,765.41 L156.39,764.90 L156.86,765.28 L157.32,764.75 L157.78,765.31 L158.25,764.94 L158.71,765.63 L159.17,765.21 L159.64,765.41 L160.10,765.07 L160.56,765.22 L161.03,765.38 L161.49,765.47 L161.96,765.07 L162.42,765.62 L162.88,765.01 L163.35,765.70 L163.81,765.21 L164.27,765.34 L164.74,765.12 L165.20,765.20 L165.66,764.97 L166.13,765.63 L166.59,765.12 L167.05,765.63 L167.52,765.02 L167.98,765.50 L168.44,765.14 L168.91,765.69 L169.37,765.43 L169.83,765.68 L170.30,765.15 L170.76,765.35 L171.23,765.16 L171.69,765.54 L172.15,765.19 L172.62,765.59 L173.08,765.29 L173.54,765.39 L174.01,765.25 L174.47,765.57 L174.93,765.31 L175.40,765.66 L175.86,765.27 L176.32,765.69 L176.79,765.39 L177.25,765.70 L177.71,765.26 L178.18,765.61 L178.64,765.29 L179.10,765.70 L179.57,765.22 L180.03,765.58 L180.49,765.29 L180.96,765.66 L181.42,765.39 L181.89,765.52 L182.35,765.55 L182.81,765.65 L183.28,765.42 L183.74,765.40 L184.20,765.21 L184.67,765.60 L185.13,765.21 L185.59,765.70 L186.06,765.42 L186.52,765.70 L186.98,765.44 L187.45,765.70 L187.91,765.52 L188.37,765.70 L188.84,765.32 L189.30,765.67 L189.76,765.44 L190.23,765.70 L190.69,765.45 L191.15,765.50 L191.62,765.57 L192.08,765.55 L192.55,765.54 L193.01,765.70 L193.47,765.61 L193.94,765.70 L194.40,765.35 L194.86,765.66 L195.33,765.35 L195.79,765.70 L196.25,765.52 L196.72,765.70 L197.18,765.49 L197.64,765.70 L198.11,765.59 L198.57,765.70 L199.03,765.54 L199.50,765.55 L199.96,765.39 L200.42,765.70 L200.89,765.51 L201.35,765.63 L201.82,765.45 L202.28,765.70 L202.74,765.41 L203.21,765.70 L203.67,765.64 L204.13,765.70 L204.60,765.62 L205.06,765.70 L205.52,765.48 L205.99,765.70 L206.45,765.59 L206.91,765.70 L207.38,765.37 L207.84,765.67 L208.30,765.59 L208.77,765.70 L209.23,765.58 L209.69,765.67 L210.16,765.55 L210.62,765.70 L211.08,765.44 L211.55,765.67 L212.01,765.62 L212.48,765.68 L212.94,765.56 L213.40,765.68 L213.87,765.53 L214.33,765.68 L214.79,765.66 L215.26,765.70 L215.72,765.57 L216.18,765.70 L216.65,765.59 L217.11,765.70 L217.57,765.65 L218.04,765.70 L218.50,765.54 L218.96,765.66 L219.43,765.59 L219.89,765.70 L220.35,765.52 L220.82,765.70 L221.28,765.67 L221.74,765.70 L222.21,765.63 L222.67,765.70 L223.14,765.70 L223.60,765.70 L224.06,765.60 L224.53,765.70 L224.99,765.58 L225.45,765.70 L225.92,765.69 L226.38,765.68 L226.84,765.58 L227.31,765.69 L227.77,765.69 L228.23,765.70 L228.70,765.63 L229.16,765.70 L229.62,765.66 L230.09,765.70 L230.55,765.63 L231.01,765.70 L231.48,765.57 L231.94,765.70 L232.41,765.62 L232.87,765.70 L233.33,765.62 L233.80,765.70 L234.26,765.51 L234.72,765.70 L235.19,765.62 L235.65,765.70 L236.11,765.69 L236.58,765.70 L237.04,765.70 L237.50,765.70 L237.97,765.70 L238.43,765.70 L238.89,765.59 L239.36,765.70 L239.82,765.57 L240.28,765.70 L240.75,765.70 L241.21,765.70 L241.67,765.70 L242.14,765.70 L242.60,765.64 L243.07,765.70 L243.53,765.64 L243.99,765.70 L244.46,765.62 L244.92,765.70 L245.38,765.65 L245.85,765.70 L246.31,765.62 L246.77,765.70 L247.24,765.61 L247.70,765.70" fill="none" stroke="#2a2a2a" stroke-width="0.95" stroke-linejoin="round" opacity="1.0"/><path d="M53.50,765.19 L53.96,765.28 L54.43,764.80 L54.89,765.04 L55.35,764.03 L55.82,765.29 L56.28,764.00 L56.74,765.18 L57.21,763.95 L57.67,764.89 L58.13,764.43 L58.60,765.26 L59.06,764.00 L59.53,764.55 L59.99,763.70 L60.45,764.70 L60.92,763.84 L61.38,764.71 L61.84,763.72 L62.31,764.74 L62.77,763.73 L63.23,765.12 L63.70,762.70 L64.16,764.80 L64.62,763.17 L65.09,764.40 L65.55,762.78 L66.01,764.08 L66.48,762.34 L66.94,764.36 L67.40,762.36 L67.87,764.84 L68.33,762.64 L68.79,764.23 L69.26,763.05 L69.72,764.06 L70.19,763.05 L70.65,763.70 L71.11,762.19 L71.58,762.72 L72.04,761.86 L72.50,763.49 L72.97,761.53 L73.43,762.37 L73.89,762.16 L74.36,763.38 L74.82,761.11 L75.28,762.94 L75.75,762.02 L76.21,763.32 L76.67,761.76 L77.14,761.53 L77.60,760.49 L78.06,763.00 L78.53,760.90 L78.99,761.87 L79.46,761.02 L79.92,762.79 L80.38,761.13 L80.85,762.51 L81.31,760.82 L81.77,763.26 L82.24,760.64 L82.70,762.75 L83.16,760.26 L83.63,762.17 L84.09,761.92 L84.55,761.61 L85.02,759.98 L85.48,762.55 L85.94,761.22 L86.41,762.56 L86.87,761.89 L87.33,762.80 L87.80,761.53 L88.26,762.75 L88.72,761.46 L89.19,761.83 L89.65,761.40 L90.12,762.82 L90.58,761.45 L91.04,762.02 L91.51,761.39 L91.97,762.32 L92.43,761.38 L92.90,762.29 L93.36,761.05 L93.82,762.54 L94.29,760.94 L94.75,762.80 L95.21,762.29 L95.68,763.21 L96.14,762.19 L96.60,762.12 L97.07,761.08 L97.53,762.59 L97.99,761.68 L98.46,761.34 L98.92,761.06 L99.38,763.62 L99.85,760.40 L100.31,762.64 L100.78,761.14 L101.24,763.91 L101.70,761.31 L102.17,763.13 L102.63,761.81 L103.09,763.47 L103.56,760.94 L104.02,762.25 L104.48,760.94 L104.95,762.15 L105.41,761.42 L105.87,762.50 L106.34,760.92 L106.80,762.57 L107.26,760.92 L107.73,762.92 L108.19,760.68 L108.65,762.12 L109.12,761.53 L109.58,763.30 L110.05,760.98 L110.51,762.91 L110.97,760.08 L111.44,762.08 L111.90,760.07 L112.36,762.21 L112.83,761.11 L113.29,762.46 L113.75,760.31 L114.22,762.66 L114.68,759.75 L115.14,761.07 L115.61,760.47 L116.07,763.12 L116.53,758.93 L117.00,761.84 L117.46,760.62 L117.92,761.93 L118.39,761.54 L118.85,762.62 L119.31,760.02 L119.78,761.16 L120.24,760.95 L120.71,762.14 L121.17,760.64 L121.63,761.84 L122.10,759.11 L122.56,761.71 L123.02,759.01 L123.49,761.80 L123.95,758.78 L124.41,760.20 L124.88,758.15 L125.34,758.65 L125.80,757.62 L126.27,759.33 L126.73,756.04 L127.19,757.35 L127.66,756.88 L128.12,760.60 L128.58,753.31 L129.05,758.47 L129.51,752.21 L129.97,754.76 L130.44,752.15 L130.90,753.66 L131.37,751.98 L131.83,756.11 L132.29,749.31 L132.76,752.97 L133.22,748.59 L133.68,752.23 L134.15,750.33 L134.61,752.08 L135.07,746.70 L135.54,751.51 L136.00,744.90 L136.46,745.60 L136.93,739.67 L137.39,744.17 L137.85,740.63 L138.32,737.66 L138.78,732.13 L139.24,740.37 L139.71,736.36 L140.17,735.52 L140.64,728.38 L141.10,734.38 L141.56,727.51 L142.03,731.10 L142.49,718.39 L142.95,732.89 L143.42,720.90 L143.88,725.29 L144.34,720.13 L144.81,727.54 L145.27,721.99 L145.73,732.79 L146.20,722.25 L146.66,727.02 L147.12,718.88 L147.59,727.11 L148.05,718.32 L148.51,725.09 L148.98,725.51 L149.44,727.56 L149.90,725.08 L150.37,728.25 L150.83,729.11 L151.30,737.63 L151.76,726.38 L152.22,731.69 L152.69,731.17 L153.15,735.58 L153.61,729.50 L154.08,736.81 L154.54,732.03 L155.00,738.32 L155.47,735.69 L155.93,739.60 L156.39,734.21 L156.86,740.16 L157.32,740.04 L157.78,746.92 L158.25,738.81 L158.71,744.54 L159.17,742.85 L159.64,746.86 L160.10,740.36 L160.56,745.55 L161.03,738.52 L161.49,750.54 L161.96,745.97 L162.42,746.58 L162.88,743.17 L163.35,753.04 L163.81,746.15 L164.27,750.17 L164.74,746.20 L165.20,752.33 L165.66,747.57 L166.13,754.04 L166.59,751.05 L167.05,751.79 L167.52,751.39 L167.98,754.19 L168.44,751.98 L168.91,755.79 L169.37,753.27 L169.83,753.65 L170.30,752.03 L170.76,755.30 L171.23,755.62 L171.69,757.34 L172.15,753.56 L172.62,757.66 L173.08,755.91 L173.54,758.49 L174.01,756.14 L174.47,760.37 L174.93,756.48 L175.40,759.39 L175.86,758.06 L176.32,759.42 L176.79,757.36 L177.25,760.65 L177.71,758.09 L178.18,761.19 L178.64,760.42 L179.10,761.04 L179.57,758.47 L180.03,761.58 L180.49,759.87 L180.96,762.38 L181.42,759.72 L181.89,762.23 L182.35,760.38 L182.81,760.10 L183.28,760.09 L183.74,761.45 L184.20,760.25 L184.67,761.90 L185.13,760.24 L185.59,763.07 L186.06,760.28 L186.52,762.91 L186.98,761.79 L187.45,763.51 L187.91,761.29 L188.37,762.61 L188.84,761.97 L189.30,762.76 L189.76,762.12 L190.23,763.27 L190.69,762.00 L191.15,763.41 L191.62,762.63 L192.08,763.60 L192.55,761.52 L193.01,762.79 L193.47,762.01 L193.94,763.79 L194.40,761.60 L194.86,763.13 L195.33,762.61 L195.79,763.38 L196.25,762.32 L196.72,763.87 L197.18,762.72 L197.64,764.24 L198.11,763.09 L198.57,763.62 L199.03,762.44 L199.50,764.15 L199.96,762.76 L200.42,763.42 L200.89,762.31 L201.35,764.06 L201.82,762.54 L202.28,763.57 L202.74,762.44 L203.21,764.03 L203.67,763.31 L204.13,763.87 L204.60,762.72 L205.06,764.25 L205.52,763.28 L205.99,764.85 L206.45,762.22 L206.91,764.65 L207.38,762.92 L207.84,763.89 L208.30,763.41 L208.77,763.84 L209.23,763.03 L209.69,764.06 L210.16,763.53 L210.62,764.62 L211.08,763.79 L211.55,764.87 L212.01,763.18 L212.48,764.72 L212.94,763.67 L213.40,765.09 L213.87,763.19 L214.33,764.76 L214.79,763.38 L215.26,764.16 L215.72,763.84 L216.18,764.12 L216.65,764.14 L217.11,764.84 L217.57,763.76 L218.04,764.51 L218.50,763.59 L218.96,764.90 L219.43,763.79 L219.89,764.56 L220.35,763.63 L220.82,763.74 L221.28,764.16 L221.74,764.98 L222.21,763.82 L222.67,764.60 L223.14,763.71 L223.60,764.91 L224.06,764.46 L224.53,764.86 L224.99,764.39 L225.45,764.86 L225.92,764.26 L226.38,764.93 L226.84,763.80 L227.31,764.80 L227.77,764.34 L228.23,764.70 L228.70,764.14 L229.16,764.86 L229.62,764.46 L230.09,765.19 L230.55,764.90 L231.01,765.41 L231.48,764.19 L231.94,764.67 L232.41,764.44 L232.87,764.94 L233.33,764.20 L233.80,765.20 L234.26,764.27 L234.72,764.98 L235.19,764.12 L235.65,765.31 L236.11,764.56 L236.58,764.91 L237.04,764.90 L237.50,764.50 L237.97,764.66 L238.43,765.04 L238.89,764.52 L239.36,764.93 L239.82,764.34 L240.28,765.20 L240.75,764.56 L241.21,765.27 L241.67,764.18 L242.14,765.14 L242.60,764.34 L243.07,765.41 L243.53,764.69 L243.99,764.85 L244.46,764.78 L244.92,765.30 L245.38,764.58 L245.85,764.53 L246.31,764.32 L246.77,764.77 L247.24,764.67 L247.70,765.40" fill="none" stroke="#199a72" stroke-width="0.95" stroke-linejoin="round" opacity="1.0"/><path d="M53.50,765.59 L53.96,765.68 L54.43,765.49 L54.89,765.45 L55.35,765.34 L55.82,765.70 L56.28,765.09 L56.74,765.47 L57.21,764.90 L57.67,765.52 L58.13,764.89 L58.60,765.10 L59.06,764.48 L59.53,765.06 L59.99,764.61 L60.45,765.36 L60.92,764.45 L61.38,765.08 L61.84,764.13 L62.31,765.15 L62.77,764.73 L63.23,765.14 L63.70,763.79 L64.16,765.26 L64.62,764.64 L65.09,764.86 L65.55,763.61 L66.01,764.95 L66.48,763.80 L66.94,765.39 L67.40,764.29 L67.87,764.96 L68.33,764.17 L68.79,764.81 L69.26,764.12 L69.72,764.31 L70.19,763.20 L70.65,765.40 L71.11,763.72 L71.58,764.79 L72.04,763.34 L72.50,764.61 L72.97,763.38 L73.43,764.77 L73.89,763.59 L74.36,763.70 L74.82,762.94 L75.28,765.00 L75.75,763.32 L76.21,764.43 L76.67,764.02 L77.14,764.69 L77.60,763.55 L78.06,764.04 L78.53,763.11 L78.99,764.58 L79.46,763.58 L79.92,765.31 L80.38,762.78 L80.85,764.76 L81.31,763.60 L81.77,764.35 L82.24,763.22 L82.70,764.31 L83.16,762.97 L83.63,764.28 L84.09,763.60 L84.55,764.41 L85.02,762.88 L85.48,764.68 L85.94,763.55 L86.41,764.68 L86.87,762.77 L87.33,763.67 L87.80,762.71 L88.26,764.56 L88.72,763.23 L89.19,764.82 L89.65,762.22 L90.12,764.23 L90.58,763.19 L91.04,764.43 L91.51,763.04 L91.97,764.51 L92.43,763.22 L92.90,764.61 L93.36,763.60 L93.82,763.80 L94.29,762.25 L94.75,763.47 L95.21,761.89 L95.68,763.68 L96.14,762.64 L96.60,763.52 L97.07,763.07 L97.53,763.47 L97.99,762.91 L98.46,765.06 L98.92,762.73 L99.38,763.50 L99.85,762.99 L100.31,763.48 L100.78,761.70 L101.24,764.03 L101.70,762.11 L102.17,763.32 L102.63,762.53 L103.09,763.67 L103.56,762.67 L104.02,763.62 L104.48,762.10 L104.95,762.83 L105.41,762.60 L105.87,764.03 L106.34,763.66 L106.80,763.62 L107.26,762.59 L107.73,763.28 L108.19,761.69 L108.65,763.94 L109.12,761.43 L109.58,763.35 L110.05,761.82 L110.51,763.53 L110.97,761.45 L111.44,762.57 L111.90,761.56 L112.36,762.44 L112.83,761.66 L113.29,762.66 L113.75,761.16 L114.22,763.09 L114.68,762.14 L115.14,761.65 L115.61,760.43 L116.07,763.51 L116.53,761.94 L117.00,763.46 L117.46,762.13 L117.92,762.10 L118.39,759.73 L118.85,761.84 L119.31,759.57 L119.78,762.21 L120.24,760.61 L120.71,762.82 L121.17,760.05 L121.63,761.23 L122.10,760.00 L122.56,760.91 L123.02,760.42 L123.49,760.72 L123.95,758.40 L124.41,760.55 L124.88,759.88 L125.34,760.92 L125.80,758.49 L126.27,760.62 L126.73,758.53 L127.19,760.98 L127.66,757.08 L128.12,759.80 L128.58,755.87 L129.05,760.04 L129.51,756.20 L129.97,757.01 L130.44,753.90 L130.90,758.06 L131.37,752.69 L131.83,755.01 L132.29,751.91 L132.76,755.18 L133.22,750.37 L133.68,752.96 L134.15,750.56 L134.61,756.60 L135.07,747.30 L135.54,751.28 L136.00,746.67 L136.46,752.62 L136.93,747.17 L137.39,752.10 L137.85,742.84 L138.32,748.84 L138.78,743.54 L139.24,749.17 L139.71,747.22 L140.17,745.12 L140.64,737.98 L141.10,741.98 L141.56,740.00 L142.03,746.18 L142.49,737.01 L142.95,745.45 L143.42,738.01 L143.88,738.90 L144.34,735.85 L144.81,738.93 L145.27,732.55 L145.73,737.09 L146.20,725.19 L146.66,734.98 L147.12,725.80 L147.59,731.71 L148.05,725.37 L148.51,729.87 L148.98,725.66 L149.44,730.04 L149.90,722.73 L150.37,726.15 L150.83,719.03 L151.30,729.94 L151.76,722.39 L152.22,727.55 L152.69,717.26 L153.15,722.68 L153.61,720.31 L154.08,721.53 L154.54,719.28 L155.00,723.70 L155.47,716.95 L155.93,723.12 L156.39,716.36 L156.86,726.96 L157.32,720.65 L157.78,727.83 L158.25,721.86 L158.71,725.50 L159.17,726.24 L159.64,733.20 L160.10,723.96 L160.56,737.79 L161.03,727.98 L161.49,733.86 L161.96,733.16 L162.42,738.93 L162.88,733.43 L163.35,738.64 L163.81,733.01 L164.27,739.97 L164.74,733.59 L165.20,746.15 L165.66,736.05 L166.13,743.35 L166.59,740.72 L167.05,743.34 L167.52,741.94 L167.98,747.20 L168.44,746.03 L168.91,745.36 L169.37,746.58 L169.83,751.42 L170.30,748.28 L170.76,751.02 L171.23,748.82 L171.69,748.79 L172.15,747.66 L172.62,752.73 L173.08,747.09 L173.54,754.15 L174.01,748.65 L174.47,751.61 L174.93,751.49 L175.40,754.32 L175.86,752.33 L176.32,754.34 L176.79,748.50 L177.25,757.97 L177.71,751.04 L178.18,755.48 L178.64,753.43 L179.10,754.91 L179.57,753.20 L180.03,758.11 L180.49,755.15 L180.96,758.59 L181.42,754.98 L181.89,757.39 L182.35,755.43 L182.81,757.94 L183.28,755.39 L183.74,757.58 L184.20,757.93 L184.67,758.97 L185.13,755.69 L185.59,759.82 L186.06,756.97 L186.52,760.34 L186.98,757.26 L187.45,760.61 L187.91,758.29 L188.37,761.19 L188.84,757.92 L189.30,761.12 L189.76,759.18 L190.23,760.85 L190.69,760.16 L191.15,763.23 L191.62,760.88 L192.08,762.10 L192.55,759.28 L193.01,760.64 L193.47,761.19 L193.94,762.04 L194.40,761.19 L194.86,762.28 L195.33,761.74 L195.79,762.58 L196.25,761.84 L196.72,763.54 L197.18,761.92 L197.64,764.24 L198.11,761.31 L198.57,763.40 L199.03,760.74 L199.50,762.50 L199.96,760.95 L200.42,763.71 L200.89,761.20 L201.35,762.74 L201.82,762.21 L202.28,763.14 L202.74,761.66 L203.21,763.52 L203.67,762.29 L204.13,763.06 L204.60,762.01 L205.06,764.23 L205.52,762.00 L205.99,763.60 L206.45,761.86 L206.91,763.91 L207.38,762.14 L207.84,763.54 L208.30,762.80 L208.77,764.19 L209.23,763.22 L209.69,763.58 L210.16,763.06 L210.62,764.32 L211.08,762.16 L211.55,764.00 L212.01,762.65 L212.48,763.84 L212.94,763.31 L213.40,764.64 L213.87,762.93 L214.33,764.60 L214.79,762.49 L215.26,764.96 L215.72,763.45 L216.18,764.35 L216.65,763.40 L217.11,764.34 L217.57,763.29 L218.04,764.06 L218.50,763.36 L218.96,764.42 L219.43,763.13 L219.89,764.66 L220.35,763.86 L220.82,764.54 L221.28,763.34 L221.74,764.52 L222.21,763.58 L222.67,764.55 L223.14,763.58 L223.60,764.61 L224.06,763.54 L224.53,764.96 L224.99,764.71 L225.45,764.92 L225.92,764.05 L226.38,765.19 L226.84,763.83 L227.31,765.12 L227.77,764.54 L228.23,764.45 L228.70,764.00 L229.16,764.98 L229.62,764.57 L230.09,765.00 L230.55,764.15 L231.01,765.08 L231.48,764.07 L231.94,765.01 L232.41,764.34 L232.87,764.41 L233.33,764.17 L233.80,764.73 L234.26,764.86 L234.72,765.04 L235.19,764.04 L235.65,765.01 L236.11,764.03 L236.58,765.16 L237.04,764.35 L237.50,765.70 L237.97,764.65 L238.43,765.02 L238.89,764.63 L239.36,764.83 L239.82,764.56 L240.28,765.01 L240.75,764.60 L241.21,765.50 L241.67,764.13 L242.14,765.09 L242.60,764.39 L243.07,765.01 L243.53,764.19 L243.99,764.89 L244.46,764.71 L244.92,765.39 L245.38,764.39 L245.85,764.95 L246.31,764.79 L246.77,765.61 L247.24,764.46 L247.70,764.99" fill="none" stroke="#26268a" stroke-width="0.95" stroke-linejoin="round" opacity="1.0"/><path d="M53.50,765.18 L53.96,765.29 L54.43,764.70 L54.89,764.94 L55.35,764.07 L55.82,764.82 L56.28,764.25 L56.74,765.34 L57.21,764.34 L57.67,764.74 L58.13,763.72 L58.60,764.62 L59.06,763.43 L59.53,764.79 L59.99,763.64 L60.45,764.92 L60.92,763.81 L61.38,763.69 L61.84,763.59 L62.31,764.44 L62.77,762.78 L63.23,764.60 L63.70,763.16 L64.16,764.62 L64.62,763.19 L65.09,764.00 L65.55,763.63 L66.01,764.49 L66.48,762.51 L66.94,763.73 L67.40,763.29 L67.87,764.26 L68.33,762.67 L68.79,763.22 L69.26,762.78 L69.72,764.85 L70.19,761.72 L70.65,764.14 L71.11,763.35 L71.58,763.81 L72.04,763.20 L72.50,763.93 L72.97,763.13 L73.43,763.65 L73.89,763.03 L74.36,763.54 L74.82,763.38 L75.28,763.66 L75.75,762.83 L76.21,764.77 L76.67,763.38 L77.14,763.68 L77.60,761.79 L78.06,764.09 L78.53,763.24 L78.99,763.98 L79.46,762.66 L79.92,763.65 L80.38,762.45 L80.85,763.74 L81.31,761.30 L81.77,763.65 L82.24,761.94 L82.70,764.72 L83.16,762.23 L83.63,764.07 L84.09,763.16 L84.55,763.96 L85.02,761.86 L85.48,764.34 L85.94,762.51 L86.41,763.08 L86.87,762.12 L87.33,763.12 L87.80,762.48 L88.26,764.17 L88.72,762.51 L89.19,764.02 L89.65,762.09 L90.12,762.80 L90.58,762.83 L91.04,763.75 L91.51,762.62 L91.97,762.93 L92.43,761.77 L92.90,763.67 L93.36,762.49 L93.82,764.00 L94.29,762.79 L94.75,763.86 L95.21,762.75 L95.68,763.10 L96.14,761.95 L96.60,763.13 L97.07,761.77 L97.53,762.76 L97.99,762.87 L98.46,763.49 L98.92,762.42 L99.38,764.08 L99.85,761.93 L100.31,763.56 L100.78,761.76 L101.24,762.27 L101.70,761.65 L102.17,762.51 L102.63,761.58 L103.09,762.45 L103.56,762.16 L104.02,763.32 L104.48,760.46 L104.95,762.23 L105.41,761.75 L105.87,762.09 L106.34,761.56 L106.80,763.69 L107.26,761.54 L107.73,762.57 L108.19,761.53 L108.65,763.28 L109.12,761.66 L109.58,762.97 L110.05,760.20 L110.51,761.55 L110.97,761.12 L111.44,762.84 L111.90,761.13 L112.36,763.15 L112.83,759.37 L113.29,762.46 L113.75,760.70 L114.22,762.11 L114.68,760.29 L115.14,762.33 L115.61,760.25 L116.07,761.59 L116.53,758.72 L117.00,761.57 L117.46,759.03 L117.92,761.51 L118.39,759.04 L118.85,760.17 L119.31,758.89 L119.78,760.76 L120.24,759.57 L120.71,760.98 L121.17,758.80 L121.63,760.59 L122.10,758.81 L122.56,760.08 L123.02,757.80 L123.49,761.46 L123.95,758.66 L124.41,759.43 L124.88,755.84 L125.34,760.06 L125.80,757.79 L126.27,760.00 L126.73,755.39 L127.19,757.94 L127.66,756.09 L128.12,757.95 L128.58,755.80 L129.05,758.86 L129.51,754.62 L129.97,756.75 L130.44,753.30 L130.90,756.19 L131.37,751.92 L131.83,755.58 L132.29,753.56 L132.76,755.00 L133.22,751.76 L133.68,753.58 L134.15,750.62 L134.61,752.64 L135.07,748.85 L135.54,750.49 L136.00,749.62 L136.46,754.49 L136.93,747.75 L137.39,753.96 L137.85,743.48 L138.32,750.41 L138.78,744.02 L139.24,749.74 L139.71,744.45 L140.17,751.07 L140.64,742.35 L141.10,747.17 L141.56,744.74 L142.03,750.58 L142.49,740.14 L142.95,747.24 L143.42,737.43 L143.88,747.06 L144.34,737.81 L144.81,744.19 L145.27,736.34 L145.73,739.96 L146.20,739.15 L146.66,740.95 L147.12,731.66 L147.59,741.85 L148.05,736.50 L148.51,737.90 L148.98,730.28 L149.44,736.60 L149.90,734.36 L150.37,741.30 L150.83,730.97 L151.30,737.29 L151.76,731.33 L152.22,735.70 L152.69,729.16 L153.15,735.54 L153.61,728.18 L154.08,734.94 L154.54,729.99 L155.00,733.75 L155.47,733.35 L155.93,734.64 L156.39,729.34 L156.86,735.75 L157.32,733.26 L157.78,738.06 L158.25,730.43 L158.71,737.81 L159.17,732.69 L159.64,738.96 L160.10,732.35 L160.56,740.49 L161.03,732.87 L161.49,738.67 L161.96,735.85 L162.42,742.45 L162.88,739.36 L163.35,744.02 L163.81,738.47 L164.27,745.52 L164.74,739.64 L165.20,743.95 L165.66,742.64 L166.13,747.30 L166.59,741.92 L167.05,750.38 L167.52,743.74 L167.98,749.12 L168.44,746.35 L168.91,746.41 L169.37,745.31 L169.83,749.02 L170.30,748.08 L170.76,750.04 L171.23,747.32 L171.69,753.65 L172.15,749.03 L172.62,753.54 L173.08,750.23 L173.54,752.79 L174.01,750.68 L174.47,752.31 L174.93,749.32 L175.40,753.89 L175.86,750.67 L176.32,755.96 L176.79,751.50 L177.25,755.84 L177.71,754.20 L178.18,755.02 L178.64,753.59 L179.10,756.98 L179.57,753.72 L180.03,756.79 L180.49,755.89 L180.96,756.70 L181.42,754.74 L181.89,756.47 L182.35,757.26 L182.81,757.71 L183.28,755.28 L183.74,756.72 L184.20,755.75 L184.67,758.04 L185.13,757.62 L185.59,758.39 L186.06,758.17 L186.52,758.81 L186.98,756.11 L187.45,759.24 L187.91,758.52 L188.37,760.08 L188.84,758.78 L189.30,760.66 L189.76,758.61 L190.23,761.30 L190.69,760.16 L191.15,761.03 L191.62,758.81 L192.08,759.62 L192.55,759.20 L193.01,760.63 L193.47,760.72 L193.94,761.59 L194.40,760.81 L194.86,761.16 L195.33,759.96 L195.79,762.04 L196.25,760.51 L196.72,762.35 L197.18,760.89 L197.64,761.78 L198.11,760.98 L198.57,762.90 L199.03,760.94 L199.50,762.56 L199.96,760.36 L200.42,762.60 L200.89,762.45 L201.35,762.66 L201.82,761.12 L202.28,762.31 L202.74,760.70 L203.21,763.20 L203.67,761.70 L204.13,762.55 L204.60,762.43 L205.06,762.46 L205.52,761.54 L205.99,763.15 L206.45,761.30 L206.91,762.48 L207.38,762.05 L207.84,762.37 L208.30,761.55 L208.77,763.26 L209.23,762.15 L209.69,763.66 L210.16,761.97 L210.62,763.27 L211.08,761.78 L211.55,762.11 L212.01,761.44 L212.48,762.89 L212.94,761.99 L213.40,762.74 L213.87,761.82 L214.33,762.70 L214.79,762.77 L215.26,763.11 L215.72,762.40 L216.18,762.80 L216.65,762.02 L217.11,763.47 L217.57,762.94 L218.04,763.72 L218.50,761.76 L218.96,763.69 L219.43,762.63 L219.89,763.46 L220.35,762.64 L220.82,763.54 L221.28,762.61 L221.74,763.21 L222.21,761.72 L222.67,763.26 L223.14,762.61 L223.60,762.85 L224.06,762.17 L224.53,762.85 L224.99,762.36 L225.45,763.73 L225.92,762.43 L226.38,764.03 L226.84,762.49 L227.31,763.18 L227.77,763.27 L228.23,763.71 L228.70,761.73 L229.16,763.96 L229.62,762.72 L230.09,764.00 L230.55,763.04 L231.01,764.05 L231.48,762.47 L231.94,763.88 L232.41,762.20 L232.87,763.27 L233.33,762.58 L233.80,763.85 L234.26,762.30 L234.72,762.67 L235.19,762.87 L235.65,763.90 L236.11,763.05 L236.58,763.83 L237.04,762.19 L237.50,763.34 L237.97,759.41 L238.43,759.79 L238.89,758.90 L239.36,764.24 L239.82,762.80 L240.28,763.90 L240.75,763.80 L241.21,764.92 L241.67,764.22 L242.14,765.06 L242.60,764.34 L243.07,764.70 L243.53,764.46 L243.99,765.10 L244.46,764.57 L244.92,765.13 L245.38,764.58 L245.85,764.83 L246.31,764.39 L246.77,764.54 L247.24,764.49 L247.70,765.31" fill="none" stroke="#d2207e" stroke-width="0.95" stroke-linejoin="round" opacity="1.0"/><path d="M53.50,765.53 L53.96,765.70 L54.43,765.61 L54.89,765.70 L55.35,765.70 L55.82,765.70 L56.28,765.51 L56.74,765.70 L57.21,765.68 L57.67,765.70 L58.13,765.68 L58.60,765.70 L59.06,765.55 L59.53,765.70 L59.99,765.63 L60.45,765.70 L60.92,765.68 L61.38,765.70 L61.84,765.58 L62.31,765.70 L62.77,765.67 L63.23,765.70 L63.70,765.64 L64.16,765.70 L64.62,765.59 L65.09,765.70 L65.55,765.66 L66.01,765.70 L66.48,765.56 L66.94,765.69 L67.40,765.59 L67.87,765.70 L68.33,765.52 L68.79,765.70 L69.26,765.59 L69.72,765.70 L70.19,765.56 L70.65,765.68 L71.11,765.47 L71.58,765.70 L72.04,765.66 L72.50,765.70 L72.97,765.57 L73.43,765.70 L73.89,765.58 L74.36,765.70 L74.82,765.67 L75.28,765.65 L75.75,765.49 L76.21,765.70 L76.67,765.61 L77.14,765.70 L77.60,765.44 L78.06,765.70 L78.53,765.59 L78.99,765.70 L79.46,765.59 L79.92,765.70 L80.38,765.64 L80.85,765.70 L81.31,765.37 L81.77,765.69 L82.24,765.57 L82.70,765.70 L83.16,765.54 L83.63,765.70 L84.09,765.56 L84.55,765.60 L85.02,765.47 L85.48,765.70 L85.94,765.56 L86.41,765.64 L86.87,765.54 L87.33,765.70 L87.80,765.57 L88.26,765.70 L88.72,765.59 L89.19,765.70 L89.65,765.54 L90.12,765.67 L90.58,765.45 L91.04,765.70 L91.51,765.56 L91.97,765.67 L92.43,765.38 L92.90,765.66 L93.36,765.37 L93.82,765.59 L94.29,765.44 L94.75,765.59 L95.21,765.51 L95.68,765.56 L96.14,765.38 L96.60,765.70 L97.07,765.49 L97.53,765.70 L97.99,765.44 L98.46,765.65 L98.92,765.32 L99.38,765.70 L99.85,765.17 L100.31,765.62 L100.78,765.39 L101.24,765.67 L101.70,765.31 L102.17,765.47 L102.63,765.41 L103.09,765.64 L103.56,765.41 L104.02,765.66 L104.48,765.20 L104.95,765.70 L105.41,764.99 L105.87,765.62 L106.34,765.32 L106.80,765.53 L107.26,765.33 L107.73,765.61 L108.19,765.47 L108.65,765.70 L109.12,765.34 L109.58,765.54 L110.05,765.41 L110.51,765.55 L110.97,765.32 L111.44,765.50 L111.90,765.33 L112.36,765.51 L112.83,765.12 L113.29,765.46 L113.75,765.34 L114.22,765.59 L114.68,765.29 L115.14,765.41 L115.61,764.91 L116.07,765.48 L116.53,764.88 L117.00,765.57 L117.46,764.72 L117.92,765.54 L118.39,764.93 L118.85,765.31 L119.31,764.84 L119.78,764.96 L120.24,764.91 L120.71,764.91 L121.17,764.33 L121.63,764.91 L122.10,764.69 L122.56,764.92 L123.02,763.95 L123.49,764.34 L123.95,764.27 L124.41,765.70 L124.88,763.94 L125.34,765.51 L125.80,763.77 L126.27,764.96 L126.73,763.88 L127.19,764.43 L127.66,763.91 L128.12,765.14 L128.58,763.51 L129.05,764.13 L129.51,763.01 L129.97,763.76 L130.44,763.29 L130.90,764.03 L131.37,762.81 L131.83,763.24 L132.29,761.09 L132.76,763.74 L133.22,761.73 L133.68,762.41 L134.15,761.37 L134.61,762.04 L135.07,760.03 L135.54,762.41 L136.00,761.62 L136.46,763.42 L136.93,759.69 L137.39,761.71 L137.85,759.55 L138.32,760.57 L138.78,758.26 L139.24,759.39 L139.71,759.40 L140.17,760.27 L140.64,757.82 L141.10,761.40 L141.56,757.46 L142.03,759.37 L142.49,756.08 L142.95,757.46 L143.42,755.25 L143.88,755.83 L144.34,753.44 L144.81,758.82 L145.27,753.90 L145.73,756.11 L146.20,753.78 L146.66,755.04 L147.12,751.28 L147.59,754.82 L148.05,749.47 L148.51,754.97 L148.98,749.34 L149.44,751.50 L149.90,748.36 L150.37,748.24 L150.83,746.95 L151.30,750.65 L151.76,747.16 L152.22,751.88 L152.69,740.19 L153.15,749.45 L153.61,743.95 L154.08,748.12 L154.54,740.97 L155.00,744.04 L155.47,740.47 L155.93,741.66 L156.39,741.80 L156.86,744.95 L157.32,738.04 L157.78,747.40 L158.25,735.66 L158.71,740.74 L159.17,733.92 L159.64,740.10 L160.10,732.16 L160.56,739.87 L161.03,731.35 L161.49,742.06 L161.96,733.84 L162.42,734.86 L162.88,729.18 L163.35,735.67 L163.81,729.73 L164.27,740.25 L164.74,732.64 L165.20,736.24 L165.66,727.52 L166.13,736.83 L166.59,728.43 L167.05,739.49 L167.52,730.57 L167.98,737.94 L168.44,730.54 L168.91,736.90 L169.37,732.78 L169.83,738.50 L170.30,735.36 L170.76,738.78 L171.23,733.70 L171.69,740.62 L172.15,733.25 L172.62,741.69 L173.08,736.50 L173.54,742.84 L174.01,740.45 L174.47,746.31 L174.93,743.29 L175.40,748.03 L175.86,742.43 L176.32,744.74 L176.79,747.48 L177.25,747.98 L177.71,744.66 L178.18,748.73 L178.64,747.08 L179.10,749.10 L179.57,744.46 L180.03,752.31 L180.49,747.75 L180.96,751.41 L181.42,749.49 L181.89,751.89 L182.35,749.03 L182.81,751.95 L183.28,751.01 L183.74,754.07 L184.20,752.95 L184.67,757.05 L185.13,753.40 L185.59,756.44 L186.06,753.88 L186.52,756.18 L186.98,756.21 L187.45,759.86 L187.91,755.08 L188.37,758.91 L188.84,757.15 L189.30,758.49 L189.76,755.18 L190.23,759.71 L190.69,756.60 L191.15,759.76 L191.62,757.93 L192.08,760.10 L192.55,758.15 L193.01,760.20 L193.47,759.01 L193.94,760.89 L194.40,760.26 L194.86,761.52 L195.33,760.04 L195.79,761.61 L196.25,759.88 L196.72,762.39 L197.18,760.65 L197.64,761.74 L198.11,761.24 L198.57,762.21 L199.03,760.27 L199.50,762.19 L199.96,761.32 L200.42,762.92 L200.89,761.49 L201.35,763.14 L201.82,762.08 L202.28,763.24 L202.74,762.15 L203.21,763.54 L203.67,761.98 L204.13,763.62 L204.60,762.34 L205.06,764.01 L205.52,762.26 L205.99,763.79 L206.45,761.99 L206.91,764.25 L207.38,761.92 L207.84,763.65 L208.30,763.22 L208.77,764.06 L209.23,762.23 L209.69,763.73 L210.16,762.13 L210.62,764.55 L211.08,762.97 L211.55,764.02 L212.01,762.72 L212.48,764.87 L212.94,762.31 L213.40,763.90 L213.87,763.48 L214.33,765.43 L214.79,762.75 L215.26,765.44 L215.72,763.17 L216.18,764.40 L216.65,763.88 L217.11,765.13 L217.57,763.92 L218.04,764.46 L218.50,764.28 L218.96,764.47 L219.43,763.67 L219.89,764.72 L220.35,764.57 L220.82,764.61 L221.28,764.22 L221.74,764.72 L222.21,763.89 L222.67,764.75 L223.14,763.79 L223.60,764.93 L224.06,764.02 L224.53,765.01 L224.99,764.55 L225.45,764.86 L225.92,764.24 L226.38,765.28 L226.84,764.20 L227.31,765.20 L227.77,764.62 L228.23,765.25 L228.70,764.68 L229.16,765.12 L229.62,764.98 L230.09,765.03 L230.55,764.43 L231.01,765.06 L231.48,764.60 L231.94,765.24 L232.41,765.14 L232.87,765.24 L233.33,764.65 L233.80,765.43 L234.26,764.94 L234.72,765.40 L235.19,765.00 L235.65,765.40 L236.11,764.86 L236.58,765.70 L237.04,765.03 L237.50,765.46 L237.97,765.01 L238.43,765.70 L238.89,765.41 L239.36,765.55 L239.82,765.14 L240.28,765.36 L240.75,765.08 L241.21,765.70 L241.67,765.44 L242.14,765.45 L242.60,765.23 L243.07,765.70 L243.53,765.20 L243.99,765.49 L244.46,765.19 L244.92,765.50 L245.38,765.40 L245.85,765.63 L246.31,765.28 L246.77,765.42 L247.24,765.44 L247.70,765.60" fill="none" stroke="#5a5a5a" stroke-width="0.95" stroke-linejoin="round" opacity="1.0"/><rect x="53.5" y="820.5" width="194.2" height="86.5" fill="none" stroke="#aaaaaa" stroke-width="1"/><text transform="translate(41.94,910.60) scale(1.1200,1)" font-size="10.465" fill="#231f20">0</text><text transform="translate(35.42,893.30) scale(1.1200,1)" font-size="10.465" fill="#231f20">30</text><text transform="translate(35.42,876.00) scale(1.1200,1)" font-size="10.465" fill="#231f20">60</text><text transform="translate(35.42,858.70) scale(1.1200,1)" font-size="10.465" fill="#231f20">90</text><text transform="translate(28.90,841.40) scale(1.1200,1)" font-size="10.465" fill="#231f20">120</text><text transform="translate(28.90,824.10) scale(1.1200,1)" font-size="10.465" fill="#231f20">150</text><text transform="translate(45.20,920.00) scale(1.0500,1)" font-size="10.611" fill="#231f20">10</text><text transform="translate(58.03,915.50) scale(1.0600,1)" font-size="7.704" fill="#231f20">0</text><text transform="translate(93.75,920.00) scale(1.0500,1)" font-size="10.611" fill="#231f20">10</text><text transform="translate(106.28,915.50) scale(1.0600,1)" font-size="7.704" fill="#231f20">1</text><text transform="translate(142.30,920.00) scale(1.0500,1)" font-size="10.611" fill="#231f20">10</text><text transform="translate(155.04,915.50) scale(1.0600,1)" font-size="7.704" fill="#231f20">2</text><text transform="translate(190.85,920.00) scale(1.0500,1)" font-size="10.611" fill="#231f20">10</text><text transform="translate(203.69,915.50) scale(1.0600,1)" font-size="7.704" fill="#231f20">3</text><text transform="translate(239.40,920.00) scale(1.0500,1)" font-size="10.611" fill="#231f20">10</text><text transform="translate(252.36,915.50) scale(1.0600,1)" font-size="7.704" fill="#231f20">4</text><text transform="translate(56.48,834.00) scale(0.9382,1)" font-size="10.320" fill="#231f20">Ter119</text><text x="86.81" y="829.87" font-size="8.050" fill="#231f20">+</text><text transform="translate(90.77,834.00) scale(0.9961,1)" font-size="10.320" fill="#231f20">: integrin β1 (active)</text><text transform="translate(96.88,939.40) scale(0.7455,1)" font-size="12.791" fill="#231f20" stroke="#231f20" stroke-width="0.5">Active integrin β1 (9EG7)</text><text transform="translate(21.00,877.80) rotate(-90) scale(0.6460,1)" font-size="13.663" fill="#231f20" stroke="#231f20" stroke-width="0.5">Counts</text><path d="M53.50,906.36 L53.96,906.70 L54.43,906.43 L54.89,906.52 L55.35,905.67 L55.82,906.17 L56.28,905.07 L56.74,906.50 L57.21,904.83 L57.67,905.04 L58.13,904.83 L58.60,904.69 L59.06,904.57 L59.53,905.34 L59.99,904.52 L60.45,904.75 L60.92,904.74 L61.38,905.71 L61.84,903.83 L62.31,905.62 L62.77,904.69 L63.23,906.18 L63.70,903.08 L64.16,905.41 L64.62,902.55 L65.09,905.10 L65.55,903.85 L66.01,905.43 L66.48,903.32 L66.94,904.58 L67.40,903.20 L67.87,904.76 L68.33,904.23 L68.79,904.56 L69.26,902.77 L69.72,904.26 L70.19,902.90 L70.65,905.20 L71.11,902.48 L71.58,904.50 L72.04,902.89 L72.50,904.02 L72.97,903.23 L73.43,903.97 L73.89,904.31 L74.36,904.03 L74.82,902.57 L75.28,904.41 L75.75,903.25 L76.21,904.32 L76.67,904.18 L77.14,903.81 L77.60,902.80 L78.06,904.56 L78.53,902.89 L78.99,904.46 L79.46,902.84 L79.92,904.23 L80.38,902.98 L80.85,904.61 L81.31,902.78 L81.77,903.98 L82.24,902.43 L82.70,904.45 L83.16,902.04 L83.63,904.37 L84.09,902.65 L84.55,903.97 L85.02,902.89 L85.48,904.46 L85.94,902.28 L86.41,903.40 L86.87,903.33 L87.33,903.76 L87.80,902.91 L88.26,904.14 L88.72,902.92 L89.19,904.64 L89.65,902.62 L90.12,904.21 L90.58,902.67 L91.04,904.82 L91.51,903.31 L91.97,903.70 L92.43,902.39 L92.90,905.01 L93.36,903.01 L93.82,904.57 L94.29,903.19 L94.75,904.22 L95.21,903.21 L95.68,905.03 L96.14,902.57 L96.60,904.83 L97.07,902.08 L97.53,904.48 L97.99,903.55 L98.46,904.78 L98.92,902.95 L99.38,904.59 L99.85,902.69 L100.31,904.87 L100.78,903.19 L101.24,904.04 L101.70,902.77 L102.17,903.85 L102.63,902.28 L103.09,903.66 L103.56,903.09 L104.02,904.63 L104.48,902.60 L104.95,904.80 L105.41,902.94 L105.87,904.47 L106.34,902.52 L106.80,903.77 L107.26,902.05 L107.73,903.88 L108.19,901.64 L108.65,902.80 L109.12,902.98 L109.58,902.77 L110.05,902.48 L110.51,903.86 L110.97,901.56 L111.44,903.59 L111.90,900.63 L112.36,903.48 L112.83,900.45 L113.29,902.84 L113.75,900.60 L114.22,901.61 L114.68,901.08 L115.14,903.04 L115.61,899.34 L116.07,901.59 L116.53,898.91 L117.00,900.38 L117.46,898.76 L117.92,900.64 L118.39,896.24 L118.85,897.90 L119.31,896.34 L119.78,899.52 L120.24,895.26 L120.71,896.10 L121.17,893.41 L121.63,895.79 L122.10,891.40 L122.56,896.51 L123.02,892.06 L123.49,893.91 L123.95,890.85 L124.41,892.23 L124.88,889.75 L125.34,890.31 L125.80,890.28 L126.27,892.77 L126.73,885.88 L127.19,889.42 L127.66,888.58 L128.12,890.97 L128.58,883.49 L129.05,891.52 L129.51,885.58 L129.97,890.39 L130.44,885.82 L130.90,888.67 L131.37,884.21 L131.83,889.24 L132.29,884.63 L132.76,887.77 L133.22,882.90 L133.68,887.78 L134.15,883.51 L134.61,886.74 L135.07,881.76 L135.54,893.37 L136.00,883.80 L136.46,887.31 L136.93,885.35 L137.39,887.34 L137.85,880.58 L138.32,888.04 L138.78,882.21 L139.24,886.33 L139.71,882.40 L140.17,889.70 L140.64,882.17 L141.10,887.53 L141.56,881.84 L142.03,884.21 L142.49,882.45 L142.95,886.07 L143.42,883.96 L143.88,885.74 L144.34,883.62 L144.81,890.80 L145.27,884.28 L145.73,888.15 L146.20,882.93 L146.66,887.34 L147.12,885.28 L147.59,891.79 L148.05,885.52 L148.51,886.46 L148.98,882.78 L149.44,889.14 L149.90,884.54 L150.37,887.65 L150.83,879.79 L151.30,887.79 L151.76,883.99 L152.22,888.41 L152.69,885.41 L153.15,887.70 L153.61,885.26 L154.08,888.82 L154.54,883.24 L155.00,890.11 L155.47,882.65 L155.93,888.64 L156.39,883.99 L156.86,893.27 L157.32,885.33 L157.78,890.09 L158.25,886.09 L158.71,890.70 L159.17,885.34 L159.64,888.78 L160.10,888.05 L160.56,889.99 L161.03,888.85 L161.49,889.92 L161.96,887.18 L162.42,889.84 L162.88,886.16 L163.35,892.01 L163.81,889.43 L164.27,890.58 L164.74,887.32 L165.20,895.16 L165.66,888.05 L166.13,892.58 L166.59,889.93 L167.05,892.79 L167.52,890.45 L167.98,894.41 L168.44,887.57 L168.91,894.19 L169.37,891.24 L169.83,896.89 L170.30,891.95 L170.76,893.74 L171.23,890.26 L171.69,897.06 L172.15,892.04 L172.62,896.29 L173.08,891.83 L173.54,894.06 L174.01,893.30 L174.47,894.54 L174.93,893.71 L175.40,899.15 L175.86,893.09 L176.32,896.52 L176.79,893.66 L177.25,896.47 L177.71,893.55 L178.18,897.00 L178.64,894.02 L179.10,896.63 L179.57,895.64 L180.03,897.62 L180.49,897.65 L180.96,899.75 L181.42,896.72 L181.89,899.48 L182.35,895.53 L182.81,899.49 L183.28,894.83 L183.74,898.12 L184.20,896.11 L184.67,900.15 L185.13,897.66 L185.59,897.78 L186.06,897.15 L186.52,899.08 L186.98,898.11 L187.45,900.67 L187.91,899.05 L188.37,899.73 L188.84,897.99 L189.30,900.08 L189.76,899.15 L190.23,901.31 L190.69,898.82 L191.15,900.16 L191.62,897.58 L192.08,901.49 L192.55,899.20 L193.01,901.43 L193.47,898.46 L193.94,901.63 L194.40,898.66 L194.86,903.07 L195.33,898.54 L195.79,900.98 L196.25,900.77 L196.72,901.43 L197.18,900.35 L197.64,903.16 L198.11,898.95 L198.57,902.91 L199.03,901.01 L199.50,902.69 L199.96,900.07 L200.42,901.89 L200.89,901.30 L201.35,903.11 L201.82,900.50 L202.28,903.27 L202.74,899.71 L203.21,902.64 L203.67,901.25 L204.13,901.79 L204.60,900.55 L205.06,903.97 L205.52,900.25 L205.99,902.69 L206.45,900.83 L206.91,902.71 L207.38,900.78 L207.84,903.17 L208.30,901.74 L208.77,904.17 L209.23,901.17 L209.69,902.78 L210.16,902.55 L210.62,903.44 L211.08,901.39 L211.55,904.84 L212.01,903.20 L212.48,903.86 L212.94,902.75 L213.40,904.40 L213.87,902.49 L214.33,903.70 L214.79,902.78 L215.26,904.47 L215.72,903.38 L216.18,904.86 L216.65,901.90 L217.11,904.03 L217.57,902.20 L218.04,904.43 L218.50,903.03 L218.96,904.07 L219.43,902.91 L219.89,905.13 L220.35,902.64 L220.82,905.26 L221.28,903.04 L221.74,903.65 L222.21,902.28 L222.67,904.43 L223.14,903.63 L223.60,904.50 L224.06,903.86 L224.53,904.07 L224.99,902.76 L225.45,905.06 L225.92,904.62 L226.38,904.44 L226.84,903.34 L227.31,904.90 L227.77,903.46 L228.23,903.91 L228.70,903.49 L229.16,904.87 L229.62,902.79 L230.09,904.47 L230.55,903.58 L231.01,904.57 L231.48,903.31 L231.94,904.62 L232.41,904.14 L232.87,905.51 L233.33,904.61 L233.80,905.28 L234.26,903.47 L234.72,905.20 L235.19,903.42 L235.65,905.16 L236.11,904.00 L236.58,904.04 L237.04,903.09 L237.50,904.88 L237.97,903.84 L238.43,904.78 L238.89,903.97 L239.36,905.14 L239.82,904.08 L240.28,905.43 L240.75,904.02 L241.21,905.31 L241.67,904.23 L242.14,905.69 L242.60,904.67 L243.07,906.01 L243.53,904.70 L243.99,905.87 L244.46,904.64 L244.92,905.82 L245.38,904.30 L245.85,905.60 L246.31,904.68 L246.77,905.98 L247.24,904.73 L247.70,905.67" fill="none" stroke="#26268a" stroke-width="0.95" stroke-linejoin="round" opacity="1.0"/><path d="M53.50,906.19 L53.96,906.55 L54.43,905.87 L54.89,905.72 L55.35,905.38 L55.82,906.15 L56.28,904.82 L56.74,906.26 L57.21,904.73 L57.67,905.31 L58.13,904.67 L58.60,905.65 L59.06,904.16 L59.53,906.20 L59.99,905.33 L60.45,905.55 L60.92,904.60 L61.38,905.63 L61.84,904.57 L62.31,905.60 L62.77,904.89 L63.23,906.32 L63.70,904.77 L64.16,905.59 L64.62,904.32 L65.09,905.85 L65.55,904.28 L66.01,906.25 L66.48,904.08 L66.94,904.89 L67.40,904.68 L67.87,904.98 L68.33,904.94 L68.79,905.80 L69.26,904.61 L69.72,905.39 L70.19,904.08 L70.65,905.05 L71.11,903.73 L71.58,905.19 L72.04,904.19 L72.50,905.39 L72.97,903.96 L73.43,904.31 L73.89,903.85 L74.36,905.18 L74.82,904.30 L75.28,904.59 L75.75,903.86 L76.21,905.23 L76.67,904.03 L77.14,904.89 L77.60,904.57 L78.06,904.68 L78.53,904.10 L78.99,905.44 L79.46,902.91 L79.92,905.20 L80.38,904.64 L80.85,904.90 L81.31,903.99 L81.77,905.03 L82.24,903.93 L82.70,905.45 L83.16,903.88 L83.63,904.89 L84.09,903.88 L84.55,905.23 L85.02,903.75 L85.48,905.26 L85.94,903.22 L86.41,905.27 L86.87,904.43 L87.33,905.82 L87.80,904.17 L88.26,905.19 L88.72,903.31 L89.19,904.62 L89.65,903.78 L90.12,905.75 L90.58,903.65 L91.04,905.93 L91.51,904.26 L91.97,904.70 L92.43,903.87 L92.90,905.60 L93.36,902.79 L93.82,904.94 L94.29,903.99 L94.75,905.67 L95.21,903.81 L95.68,904.25 L96.14,903.44 L96.60,904.94 L97.07,904.27 L97.53,905.02 L97.99,903.52 L98.46,904.84 L98.92,903.22 L99.38,904.96 L99.85,904.60 L100.31,903.58 L100.78,903.66 L101.24,904.49 L101.70,903.38 L102.17,905.16 L102.63,903.55 L103.09,904.64 L103.56,903.37 L104.02,905.18 L104.48,903.28 L104.95,904.62 L105.41,903.34 L105.87,904.63 L106.34,902.64 L106.80,904.31 L107.26,903.25 L107.73,905.26 L108.19,902.79 L108.65,904.04 L109.12,903.03 L109.58,903.95 L110.05,903.93 L110.51,904.65 L110.97,902.35 L111.44,903.53 L111.90,902.03 L112.36,903.03 L112.83,902.49 L113.29,902.82 L113.75,902.11 L114.22,902.20 L114.68,900.74 L115.14,902.05 L115.61,900.51 L116.07,902.89 L116.53,900.11 L117.00,899.88 L117.46,899.99 L117.92,900.04 L118.39,897.67 L118.85,899.04 L119.31,898.76 L119.78,898.20 L120.24,898.11 L120.71,899.06 L121.17,896.43 L121.63,897.15 L122.10,895.45 L122.56,895.22 L123.02,892.59 L123.49,895.46 L123.95,890.43 L124.41,894.60 L124.88,890.59 L125.34,892.84 L125.80,891.90 L126.27,890.58 L126.73,890.76 L127.19,893.35 L127.66,889.45 L128.12,891.38 L128.58,886.26 L129.05,890.62 L129.51,885.21 L129.97,890.62 L130.44,887.63 L130.90,888.55 L131.37,883.08 L131.83,889.79 L132.29,883.62 L132.76,890.90 L133.22,887.51 L133.68,886.23 L134.15,885.86 L134.61,890.08 L135.07,884.77 L135.54,888.99 L136.00,881.72 L136.46,888.09 L136.93,883.87 L137.39,887.86 L137.85,882.21 L138.32,887.60 L138.78,883.28 L139.24,888.79 L139.71,882.59 L140.17,889.36 L140.64,881.78 L141.10,888.75 L141.56,882.98 L142.03,889.60 L142.49,881.65 L142.95,888.04 L143.42,881.09 L143.88,887.53 L144.34,883.17 L144.81,887.55 L145.27,884.31 L145.73,890.15 L146.20,883.61 L146.66,886.30 L147.12,884.80 L147.59,888.30 L148.05,881.09 L148.51,888.98 L148.98,883.71 L149.44,888.55 L149.90,879.62 L150.37,889.90 L150.83,886.59 L151.30,889.57 L151.76,886.04 L152.22,889.81 L152.69,882.30 L153.15,886.46 L153.61,881.74 L154.08,887.79 L154.54,883.39 L155.00,886.87 L155.47,883.35 L155.93,890.27 L156.39,884.54 L156.86,888.94 L157.32,885.75 L157.78,890.24 L158.25,885.82 L158.71,888.65 L159.17,885.91 L159.64,892.22 L160.10,881.42 L160.56,889.53 L161.03,884.78 L161.49,893.63 L161.96,883.40 L162.42,890.80 L162.88,886.87 L163.35,893.53 L163.81,885.60 L164.27,891.50 L164.74,886.96 L165.20,892.33 L165.66,888.67 L166.13,892.22 L166.59,886.92 L167.05,891.62 L167.52,889.37 L167.98,895.65 L168.44,889.72 L168.91,893.34 L169.37,891.27 L169.83,894.58 L170.30,892.27 L170.76,891.46 L171.23,890.76 L171.69,895.17 L172.15,890.58 L172.62,894.00 L173.08,890.58 L173.54,893.63 L174.01,892.12 L174.47,895.90 L174.93,894.04 L175.40,894.96 L175.86,891.09 L176.32,894.61 L176.79,893.32 L177.25,898.57 L177.71,895.39 L178.18,895.25 L178.64,894.85 L179.10,898.03 L179.57,893.73 L180.03,896.49 L180.49,894.97 L180.96,898.64 L181.42,894.87 L181.89,900.83 L182.35,892.61 L182.81,898.91 L183.28,895.70 L183.74,897.49 L184.20,896.49 L184.67,899.64 L185.13,896.15 L185.59,899.07 L186.06,897.35 L186.52,897.23 L186.98,897.08 L187.45,899.93 L187.91,898.41 L188.37,900.13 L188.84,898.67 L189.30,899.40 L189.76,897.51 L190.23,900.11 L190.69,897.86 L191.15,901.90 L191.62,899.03 L192.08,900.11 L192.55,899.33 L193.01,901.37 L193.47,899.62 L193.94,900.85 L194.40,899.91 L194.86,902.49 L195.33,899.28 L195.79,900.81 L196.25,901.08 L196.72,901.33 L197.18,899.81 L197.64,902.87 L198.11,900.47 L198.57,902.17 L199.03,900.86 L199.50,901.46 L199.96,899.42 L200.42,902.66 L200.89,900.54 L201.35,902.50 L201.82,900.63 L202.28,902.81 L202.74,901.01 L203.21,901.13 L203.67,901.36 L204.13,903.11 L204.60,900.99 L205.06,902.42 L205.52,901.69 L205.99,902.94 L206.45,901.24 L206.91,903.23 L207.38,900.53 L207.84,902.93 L208.30,900.90 L208.77,902.90 L209.23,902.10 L209.69,903.39 L210.16,902.77 L210.62,903.09 L211.08,901.99 L211.55,902.92 L212.01,902.06 L212.48,903.33 L212.94,902.92 L213.40,903.70 L213.87,902.64 L214.33,904.05 L214.79,902.35 L215.26,904.14 L215.72,902.12 L216.18,903.84 L216.65,902.63 L217.11,903.91 L217.57,902.41 L218.04,904.35 L218.50,902.11 L218.96,904.75 L219.43,901.53 L219.89,904.22 L220.35,903.73 L220.82,904.16 L221.28,902.41 L221.74,904.32 L222.21,903.28 L222.67,904.91 L223.14,903.19 L223.60,903.98 L224.06,903.03 L224.53,905.51 L224.99,903.36 L225.45,904.44 L225.92,903.56 L226.38,905.45 L226.84,903.08 L227.31,904.52 L227.77,902.67 L228.23,904.86 L228.70,902.96 L229.16,904.76 L229.62,904.18 L230.09,905.04 L230.55,903.78 L231.01,905.66 L231.48,903.29 L231.94,904.93 L232.41,904.49 L232.87,905.03 L233.33,904.44 L233.80,905.06 L234.26,904.88 L234.72,905.28 L235.19,904.81 L235.65,905.82 L236.11,903.02 L236.58,906.03 L237.04,904.47 L237.50,905.34 L237.97,903.83 L238.43,905.26 L238.89,904.49 L239.36,905.83 L239.82,904.92 L240.28,905.03 L240.75,905.45 L241.21,905.83 L241.67,904.69 L242.14,905.09 L242.60,904.79 L243.07,905.91 L243.53,904.88 L243.99,906.28 L244.46,905.05 L244.92,905.88 L245.38,904.61 L245.85,906.37 L246.31,905.05 L246.77,905.31 L247.24,904.66 L247.70,905.88" fill="none" stroke="#199a72" stroke-width="0.95" stroke-linejoin="round" opacity="1.0"/><path d="M53.50,906.17 L53.96,906.24 L54.43,905.75 L54.89,906.36 L55.35,905.94 L55.82,906.29 L56.28,904.85 L56.74,906.41 L57.21,904.79 L57.67,905.79 L58.13,904.83 L58.60,906.32 L59.06,904.82 L59.53,905.52 L59.99,905.17 L60.45,905.89 L60.92,904.41 L61.38,904.99 L61.84,904.91 L62.31,905.33 L62.77,904.34 L63.23,906.12 L63.70,904.12 L64.16,905.95 L64.62,904.04 L65.09,905.02 L65.55,904.09 L66.01,905.73 L66.48,904.86 L66.94,905.04 L67.40,904.66 L67.87,905.60 L68.33,904.78 L68.79,905.90 L69.26,903.75 L69.72,904.93 L70.19,903.97 L70.65,905.53 L71.11,904.55 L71.58,905.26 L72.04,903.62 L72.50,904.74 L72.97,904.40 L73.43,905.76 L73.89,903.81 L74.36,905.56 L74.82,904.23 L75.28,905.58 L75.75,904.40 L76.21,904.71 L76.67,904.37 L77.14,905.23 L77.60,903.76 L78.06,904.68 L78.53,903.54 L78.99,905.42 L79.46,904.24 L79.92,905.29 L80.38,904.01 L80.85,905.76 L81.31,904.10 L81.77,904.77 L82.24,903.84 L82.70,905.84 L83.16,903.85 L83.63,904.63 L84.09,904.52 L84.55,904.61 L85.02,902.64 L85.48,905.40 L85.94,903.48 L86.41,904.48 L86.87,904.13 L87.33,904.93 L87.80,904.04 L88.26,904.48 L88.72,903.91 L89.19,905.45 L89.65,903.70 L90.12,904.80 L90.58,902.94 L91.04,905.74 L91.51,904.64 L91.97,904.95 L92.43,904.18 L92.90,905.39 L93.36,904.24 L93.82,905.48 L94.29,904.76 L94.75,904.74 L95.21,904.16 L95.68,904.66 L96.14,904.99 L96.60,904.16 L97.07,904.20 L97.53,904.38 L97.99,903.30 L98.46,905.07 L98.92,903.54 L99.38,905.80 L99.85,904.10 L100.31,904.18 L100.78,903.79 L101.24,904.61 L101.70,903.39 L102.17,905.09 L102.63,902.78 L103.09,904.95 L103.56,903.79 L104.02,904.67 L104.48,904.57 L104.95,905.28 L105.41,903.26 L105.87,904.38 L106.34,903.17 L106.80,904.60 L107.26,902.82 L107.73,904.92 L108.19,902.53 L108.65,904.68 L109.12,903.75 L109.58,904.63 L110.05,902.63 L110.51,903.84 L110.97,902.82 L111.44,904.70 L111.90,903.37 L112.36,903.44 L112.83,904.14 L113.29,904.61 L113.75,902.28 L114.22,904.25 L114.68,902.99 L115.14,904.49 L115.61,901.35 L116.07,904.38 L116.53,902.17 L117.00,902.37 L117.46,902.01 L117.92,902.73 L118.39,899.96 L118.85,903.18 L119.31,900.79 L119.78,902.00 L120.24,899.96 L120.71,902.44 L121.17,899.63 L121.63,900.93 L122.10,900.19 L122.56,901.09 L123.02,899.80 L123.49,900.12 L123.95,896.44 L124.41,901.50 L124.88,897.16 L125.34,900.43 L125.80,897.22 L126.27,898.41 L126.73,895.57 L127.19,897.94 L127.66,894.92 L128.12,897.13 L128.58,893.15 L129.05,895.57 L129.51,892.26 L129.97,895.45 L130.44,890.85 L130.90,893.25 L131.37,890.90 L131.83,894.32 L132.29,888.97 L132.76,893.25 L133.22,888.90 L133.68,893.04 L134.15,887.73 L134.61,897.32 L135.07,889.12 L135.54,895.60 L136.00,885.33 L136.46,890.77 L136.93,887.83 L137.39,892.22 L137.85,884.65 L138.32,892.92 L138.78,888.18 L139.24,889.67 L139.71,886.34 L140.17,893.78 L140.64,887.44 L141.10,891.98 L141.56,885.81 L142.03,890.84 L142.49,885.59 L142.95,890.29 L143.42,884.08 L143.88,888.69 L144.34,884.45 L144.81,893.12 L145.27,889.09 L145.73,886.63 L146.20,882.71 L146.66,886.82 L147.12,884.65 L147.59,889.21 L148.05,884.29 L148.51,890.78 L148.98,884.61 L149.44,889.26 L149.90,883.31 L150.37,887.41 L150.83,884.09 L151.30,889.98 L151.76,884.99 L152.22,891.32 L152.69,885.52 L153.15,890.36 L153.61,883.77 L154.08,891.30 L154.54,885.42 L155.00,888.99 L155.47,883.72 L155.93,888.23 L156.39,883.69 L156.86,887.72 L157.32,887.14 L157.78,889.93 L158.25,883.50 L158.71,891.48 L159.17,884.34 L159.64,887.69 L160.10,884.22 L160.56,888.38 L161.03,885.50 L161.49,892.92 L161.96,888.14 L162.42,891.85 L162.88,888.05 L163.35,892.49 L163.81,885.43 L164.27,895.06 L164.74,888.88 L165.20,890.75 L165.66,890.49 L166.13,890.67 L166.59,885.00 L167.05,893.85 L167.52,886.03 L167.98,892.74 L168.44,890.78 L168.91,892.40 L169.37,891.42 L169.83,893.73 L170.30,889.65 L170.76,893.59 L171.23,891.07 L171.69,893.13 L172.15,893.88 L172.62,892.66 L173.08,891.64 L173.54,895.15 L174.01,893.84 L174.47,895.95 L174.93,893.04 L175.40,897.18 L175.86,895.32 L176.32,896.36 L176.79,893.12 L177.25,895.86 L177.71,893.99 L178.18,896.02 L178.64,894.66 L179.10,895.96 L179.57,894.31 L180.03,898.43 L180.49,895.38 L180.96,898.66 L181.42,896.50 L181.89,899.03 L182.35,895.58 L182.81,898.14 L183.28,896.31 L183.74,899.02 L184.20,897.18 L184.67,900.36 L185.13,897.30 L185.59,899.08 L186.06,896.56 L186.52,902.26 L186.98,897.23 L187.45,900.57 L187.91,898.83 L188.37,900.01 L188.84,898.01 L189.30,900.67 L189.76,899.60 L190.23,900.74 L190.69,899.01 L191.15,900.55 L191.62,896.75 L192.08,901.18 L192.55,898.67 L193.01,900.53 L193.47,899.97 L193.94,900.54 L194.40,900.11 L194.86,902.77 L195.33,900.51 L195.79,901.74 L196.25,901.04 L196.72,901.03 L197.18,900.43 L197.64,902.47 L198.11,901.17 L198.57,903.33 L199.03,900.51 L199.50,902.44 L199.96,900.68 L200.42,902.70 L200.89,899.76 L201.35,901.27 L201.82,900.90 L202.28,902.29 L202.74,900.28 L203.21,903.28 L203.67,900.88 L204.13,903.49 L204.60,900.84 L205.06,903.46 L205.52,900.67 L205.99,903.60 L206.45,901.64 L206.91,903.62 L207.38,901.44 L207.84,902.55 L208.30,901.17 L208.77,904.39 L209.23,901.63 L209.69,902.92 L210.16,902.24 L210.62,903.10 L211.08,902.55 L211.55,903.38 L212.01,903.22 L212.48,903.78 L212.94,902.34 L213.40,903.77 L213.87,902.17 L214.33,904.02 L214.79,902.66 L215.26,903.90 L215.72,901.95 L216.18,905.02 L216.65,902.72 L217.11,905.24 L217.57,902.72 L218.04,904.11 L218.50,902.33 L218.96,904.86 L219.43,903.21 L219.89,904.51 L220.35,903.01 L220.82,904.53 L221.28,903.72 L221.74,904.35 L222.21,903.52 L222.67,905.58 L223.14,904.04 L223.60,905.19 L224.06,903.67 L224.53,904.68 L224.99,904.21 L225.45,905.70 L225.92,903.26 L226.38,904.30 L226.84,904.02 L227.31,904.91 L227.77,903.23 L228.23,904.91 L228.70,903.91 L229.16,905.91 L229.62,903.70 L230.09,904.82 L230.55,903.89 L231.01,904.56 L231.48,903.58 L231.94,904.79 L232.41,903.84 L232.87,905.37 L233.33,903.64 L233.80,905.52 L234.26,904.75 L234.72,905.06 L235.19,904.08 L235.65,905.05 L236.11,904.26 L236.58,904.93 L237.04,904.19 L237.50,905.79 L237.97,904.69 L238.43,905.40 L238.89,905.56 L239.36,906.15 L239.82,903.93 L240.28,905.25 L240.75,904.69 L241.21,905.11 L241.67,904.50 L242.14,905.98 L242.60,904.52 L243.07,905.93 L243.53,904.50 L243.99,905.94 L244.46,904.89 L244.92,905.25 L245.38,905.15 L245.85,905.57 L246.31,904.44 L246.77,906.10 L247.24,904.10 L247.70,904.97" fill="none" stroke="#d2207e" stroke-width="0.95" stroke-linejoin="round" opacity="1.0"/><path d="M53.50,906.65 L53.96,906.70 L54.43,906.57 L54.89,906.70 L55.35,906.64 L55.82,906.70 L56.28,906.62 L56.74,906.70 L57.21,906.61 L57.67,906.70 L58.13,906.62 L58.60,906.70 L59.06,906.68 L59.53,906.70 L59.99,906.59 L60.45,906.70 L60.92,906.54 L61.38,906.70 L61.84,906.54 L62.31,906.70 L62.77,906.67 L63.23,906.70 L63.70,906.52 L64.16,906.70 L64.62,906.66 L65.09,906.70 L65.55,906.64 L66.01,906.70 L66.48,906.57 L66.94,906.59 L67.40,906.64 L67.87,906.70 L68.33,906.61 L68.79,906.68 L69.26,906.67 L69.72,906.70 L70.19,906.56 L70.65,906.70 L71.11,906.57 L71.58,906.70 L72.04,906.60 L72.50,906.70 L72.97,906.70 L73.43,906.70 L73.89,906.50 L74.36,906.70 L74.82,906.70 L75.28,906.70 L75.75,906.57 L76.21,906.70 L76.67,906.55 L77.14,906.70 L77.60,906.58 L78.06,906.70 L78.53,906.50 L78.99,906.68 L79.46,906.38 L79.92,906.63 L80.38,906.55 L80.85,906.70 L81.31,906.70 L81.77,906.67 L82.24,906.46 L82.70,906.70 L83.16,906.47 L83.63,906.70 L84.09,906.45 L84.55,906.67 L85.02,906.46 L85.48,906.67 L85.94,906.33 L86.41,906.70 L86.87,906.42 L87.33,906.56 L87.80,906.48 L88.26,906.70 L88.72,906.40 L89.19,906.63 L89.65,906.46 L90.12,906.70 L90.58,906.47 L91.04,906.70 L91.51,906.29 L91.97,906.61 L92.43,906.43 L92.90,906.56 L93.36,906.44 L93.82,906.69 L94.29,906.30 L94.75,906.57 L95.21,906.30 L95.68,906.53 L96.14,906.39 L96.60,906.55 L97.07,906.42 L97.53,906.56 L97.99,906.20 L98.46,906.44 L98.92,906.27 L99.38,906.49 L99.85,906.47 L100.31,906.59 L100.78,906.09 L101.24,906.42 L101.70,906.09 L102.17,906.65 L102.63,906.57 L103.09,906.63 L103.56,906.16 L104.02,906.49 L104.48,906.29 L104.95,906.53 L105.41,906.13 L105.87,906.34 L106.34,906.02 L106.80,906.29 L107.26,905.90 L107.73,906.50 L108.19,905.83 L108.65,906.49 L109.12,905.76 L109.58,906.03 L110.05,905.43 L110.51,906.68 L110.97,905.41 L111.44,905.96 L111.90,905.30 L112.36,906.09 L112.83,905.32 L113.29,905.89 L113.75,905.61 L114.22,906.11 L114.68,905.33 L115.14,905.41 L115.61,904.74 L116.07,905.58 L116.53,904.83 L117.00,905.82 L117.46,905.34 L117.92,905.89 L118.39,904.54 L118.85,905.78 L119.31,904.20 L119.78,905.87 L120.24,904.27 L120.71,905.53 L121.17,904.56 L121.63,904.55 L122.10,903.77 L122.56,904.59 L123.02,903.48 L123.49,904.43 L123.95,902.44 L124.41,902.82 L124.88,901.99 L125.34,902.95 L125.80,901.88 L126.27,903.05 L126.73,900.88 L127.19,902.48 L127.66,899.96 L128.12,902.87 L128.58,900.68 L129.05,901.61 L129.51,899.61 L129.97,900.78 L130.44,898.08 L130.90,901.09 L131.37,898.05 L131.83,899.82 L132.29,898.31 L132.76,899.46 L133.22,894.84 L133.68,898.44 L134.15,898.05 L134.61,896.13 L135.07,893.04 L135.54,897.74 L136.00,892.45 L136.46,894.44 L136.93,892.60 L137.39,898.02 L137.85,891.06 L138.32,894.59 L138.78,887.78 L139.24,893.13 L139.71,889.39 L140.17,890.15 L140.64,884.65 L141.10,889.35 L141.56,883.68 L142.03,890.42 L142.49,886.09 L142.95,891.79 L143.42,883.80 L143.88,887.15 L144.34,878.10 L144.81,885.57 L145.27,877.85 L145.73,885.83 L146.20,882.94 L146.66,883.97 L147.12,881.06 L147.59,884.59 L148.05,877.33 L148.51,882.89 L148.98,876.96 L149.44,884.46 L149.90,875.06 L150.37,880.41 L150.83,873.57 L151.30,877.44 L151.76,874.67 L152.22,878.76 L152.69,874.27 L153.15,882.94 L153.61,873.46 L154.08,878.91 L154.54,873.79 L155.00,879.04 L155.47,875.34 L155.93,880.28 L156.39,874.64 L156.86,885.67 L157.32,879.21 L157.78,881.67 L158.25,876.35 L158.71,881.56 L159.17,878.87 L159.64,880.46 L160.10,882.79 L160.56,890.39 L161.03,879.26 L161.49,886.07 L161.96,878.34 L162.42,884.77 L162.88,877.44 L163.35,887.47 L163.81,883.27 L164.27,891.60 L164.74,881.53 L165.20,887.86 L165.66,881.08 L166.13,887.40 L166.59,882.76 L167.05,888.28 L167.52,885.50 L167.98,893.68 L168.44,882.72 L168.91,892.30 L169.37,884.97 L169.83,892.33 L170.30,888.69 L170.76,891.46 L171.23,887.58 L171.69,894.15 L172.15,887.32 L172.62,892.60 L173.08,891.80 L173.54,893.73 L174.01,891.26 L174.47,894.76 L174.93,892.29 L175.40,896.26 L175.86,890.78 L176.32,896.58 L176.79,891.43 L177.25,895.09 L177.71,892.42 L178.18,898.45 L178.64,893.78 L179.10,897.01 L179.57,893.27 L180.03,897.36 L180.49,892.02 L180.96,898.03 L181.42,894.19 L181.89,900.35 L182.35,896.75 L182.81,897.67 L183.28,896.71 L183.74,897.80 L184.20,897.46 L184.67,899.10 L185.13,897.24 L185.59,899.18 L186.06,896.39 L186.52,898.21 L186.98,898.49 L187.45,899.77 L187.91,898.39 L188.37,902.07 L188.84,899.98 L189.30,900.84 L189.76,898.34 L190.23,901.49 L190.69,899.94 L191.15,902.22 L191.62,900.46 L192.08,901.29 L192.55,899.58 L193.01,902.11 L193.47,900.47 L193.94,902.18 L194.40,900.49 L194.86,901.49 L195.33,900.05 L195.79,902.51 L196.25,900.31 L196.72,903.16 L197.18,902.54 L197.64,902.77 L198.11,901.59 L198.57,903.21 L199.03,901.70 L199.50,903.48 L199.96,901.56 L200.42,904.15 L200.89,901.78 L201.35,903.24 L201.82,902.34 L202.28,903.12 L202.74,902.70 L203.21,904.19 L203.67,903.08 L204.13,904.29 L204.60,902.79 L205.06,903.60 L205.52,903.63 L205.99,903.72 L206.45,903.31 L206.91,904.92 L207.38,903.43 L207.84,904.29 L208.30,903.70 L208.77,903.84 L209.23,903.96 L209.69,904.70 L210.16,904.04 L210.62,903.95 L211.08,903.75 L211.55,904.19 L212.01,903.98 L212.48,904.90 L212.94,904.45 L213.40,904.59 L213.87,903.21 L214.33,905.31 L214.79,903.69 L215.26,905.61 L215.72,904.45 L216.18,904.97 L216.65,902.84 L217.11,905.58 L217.57,903.25 L218.04,905.56 L218.50,904.44 L218.96,906.10 L219.43,904.54 L219.89,904.66 L220.35,905.06 L220.82,905.48 L221.28,904.80 L221.74,905.26 L222.21,905.24 L222.67,905.51 L223.14,903.90 L223.60,905.89 L224.06,904.90 L224.53,906.04 L224.99,905.47 L225.45,905.98 L225.92,904.32 L226.38,906.16 L226.84,904.75 L227.31,905.39 L227.77,905.43 L228.23,905.70 L228.70,905.24 L229.16,905.81 L229.62,905.10 L230.09,905.74 L230.55,905.12 L231.01,906.58 L231.48,905.47 L231.94,906.12 L232.41,905.16 L232.87,906.67 L233.33,905.07 L233.80,906.11 L234.26,905.33 L234.72,906.39 L235.19,905.49 L235.65,906.08 L236.11,905.64 L236.58,906.14 L237.04,905.89 L237.50,906.27 L237.97,905.32 L238.43,906.07 L238.89,905.81 L239.36,906.14 L239.82,905.75 L240.28,906.38 L240.75,906.06 L241.21,906.12 L241.67,906.02 L242.14,906.59 L242.60,905.35 L243.07,906.30 L243.53,906.01 L243.99,906.27 L244.46,905.76 L244.92,906.37 L245.38,905.46 L245.85,906.27 L246.31,905.56 L246.77,906.35 L247.24,905.92 L247.70,906.38" fill="none" stroke="#5a5a5a" stroke-width="0.95" stroke-linejoin="round" opacity="1.0"/><path d="M53.50,906.64 L53.96,905.76 L54.43,904.94 L54.89,905.54 L55.35,904.32 L55.82,905.47 L56.28,904.65 L56.74,905.40 L57.21,904.44 L57.67,904.88 L58.13,904.63 L58.60,905.18 L59.06,902.82 L59.53,904.85 L59.99,903.31 L60.45,905.25 L60.92,903.58 L61.38,904.49 L61.84,903.12 L62.31,904.87 L62.77,903.78 L63.23,904.65 L63.70,901.95 L64.16,904.10 L64.62,902.63 L65.09,903.05 L65.55,902.22 L66.01,902.45 L66.48,900.45 L66.94,902.23 L67.40,899.81 L67.87,903.42 L68.33,899.05 L68.79,901.33 L69.26,898.55 L69.72,899.88 L70.19,897.18 L70.65,898.90 L71.11,892.71 L71.58,895.36 L72.04,890.46 L72.50,893.47 L72.97,890.74 L73.43,893.32 L73.89,887.17 L74.36,889.96 L74.82,886.08 L75.28,883.63 L75.75,878.71 L76.21,880.15 L76.67,872.71 L77.14,870.82 L77.60,861.47 L78.06,862.46 L78.53,854.95 L78.99,855.93 L79.46,849.15 L79.92,853.18 L80.38,841.95 L80.85,848.67 L81.31,839.59 L81.77,848.22 L82.24,838.37 L82.70,850.24 L83.16,841.81 L83.63,845.46 L84.09,845.47 L84.55,845.34 L85.02,845.37 L85.48,847.45 L85.94,850.27 L86.41,853.50 L86.87,852.95 L87.33,860.34 L87.80,859.32 L88.26,863.68 L88.72,859.28 L89.19,870.58 L89.65,865.56 L90.12,875.04 L90.58,867.08 L91.04,872.34 L91.51,868.67 L91.97,878.25 L92.43,874.57 L92.90,879.74 L93.36,878.67 L93.82,885.00 L94.29,881.65 L94.75,887.68 L95.21,886.41 L95.68,892.05 L96.14,889.76 L96.60,894.77 L97.07,892.64 L97.53,896.61 L97.99,897.86 L98.46,900.23 L98.92,899.11 L99.38,901.28 L99.85,901.38 L100.31,903.39 L100.78,903.07 L101.24,903.69 L101.70,902.89 L102.17,905.02 L102.63,904.34 L103.09,905.42 L103.56,904.18 L104.02,905.12 L104.48,904.84 L104.95,905.52 L105.41,904.46 L105.87,905.88 L106.34,905.35 L106.80,905.84 L107.26,905.02 L107.73,906.15 L108.19,905.23 L108.65,906.22 L109.12,905.55 L109.58,906.04 L110.05,905.48 L110.51,906.66 L110.97,905.73 L111.44,906.17 L111.90,905.58 L112.36,906.22 L112.83,905.64 L113.29,906.44 L113.75,905.56 L114.22,906.13 L114.68,905.14 L115.14,906.11 L115.61,905.75 L116.07,906.33 L116.53,905.74 L117.00,905.91 L117.46,905.72 L117.92,906.33 L118.39,905.94 L118.85,906.15 L119.31,905.43 L119.78,906.42 L120.24,905.76 L120.71,906.45 L121.17,905.79 L121.63,906.06 L122.10,906.04 L122.56,906.42 L123.02,905.91 L123.49,906.11 L123.95,905.78 L124.41,906.53 L124.88,905.78 L125.34,906.52 L125.80,905.82 L126.27,906.23 L126.73,905.61 L127.19,906.21 L127.66,906.26 L128.12,906.60 L128.58,906.26 L129.05,906.03 L129.51,906.00 L129.97,906.40 L130.44,905.55 L130.90,906.41 L131.37,905.63 L131.83,906.18 L132.29,906.14 L132.76,906.45 L133.22,905.89 L133.68,905.97 L134.15,906.05 L134.61,906.50 L135.07,905.95 L135.54,906.33 L136.00,905.98 L136.46,906.61 L136.93,906.04 L137.39,906.09 L137.85,906.16 L138.32,906.31 L138.78,905.88 L139.24,906.17 L139.71,906.00 L140.17,906.36 L140.64,906.10 L141.10,906.50 L141.56,906.32 L142.03,906.38 L142.49,905.87 L142.95,906.56 L143.42,906.24 L143.88,906.30 L144.34,905.94 L144.81,906.48 L145.27,906.07 L145.73,906.45 L146.20,906.39 L146.66,906.50 L147.12,906.00 L147.59,906.55 L148.05,906.08 L148.51,906.44 L148.98,906.28 L149.44,906.61 L149.90,906.48 L150.37,906.54 L150.83,906.07 L151.30,906.68 L151.76,905.89 L152.22,906.51 L152.69,906.24 L153.15,906.66 L153.61,906.26 L154.08,906.63 L154.54,905.89 L155.00,906.70 L155.47,906.28 L155.93,906.56 L156.39,906.16 L156.86,906.50 L157.32,906.18 L157.78,906.70 L158.25,906.25 L158.71,906.54 L159.17,906.36 L159.64,906.52 L160.10,906.28 L160.56,906.51 L161.03,906.21 L161.49,906.69 L161.96,906.34 L162.42,906.50 L162.88,906.40 L163.35,906.61 L163.81,906.36 L164.27,906.70 L164.74,906.53 L165.20,906.37 L165.66,906.47 L166.13,906.70 L166.59,906.34 L167.05,906.70 L167.52,906.20 L167.98,906.54 L168.44,906.21 L168.91,906.55 L169.37,906.45 L169.83,906.63 L170.30,906.33 L170.76,906.70 L171.23,906.24 L171.69,906.66 L172.15,906.39 L172.62,906.53 L173.08,906.28 L173.54,906.49 L174.01,906.30 L174.47,906.49 L174.93,906.43 L175.40,906.63 L175.86,906.27 L176.32,906.68 L176.79,906.31 L177.25,906.69 L177.71,906.25 L178.18,906.70 L178.64,906.47 L179.10,906.70 L179.57,906.44 L180.03,906.70 L180.49,906.46 L180.96,906.70 L181.42,906.44 L181.89,906.70 L182.35,906.46 L182.81,906.70 L183.28,906.50 L183.74,906.59 L184.20,906.49 L184.67,906.60 L185.13,906.34 L185.59,906.70 L186.06,906.48 L186.52,906.70 L186.98,906.46 L187.45,906.70 L187.91,906.55 L188.37,906.70 L188.84,906.48 L189.30,906.68 L189.76,906.47 L190.23,906.70 L190.69,906.35 L191.15,906.70 L191.62,906.45 L192.08,906.70 L192.55,906.53 L193.01,906.70 L193.47,906.70 L193.94,906.62 L194.40,906.52 L194.86,906.70 L195.33,906.67 L195.79,906.70 L196.25,906.61 L196.72,906.56 L197.18,906.52 L197.64,906.70 L198.11,906.59 L198.57,906.66 L199.03,906.57 L199.50,906.64 L199.96,906.54 L200.42,906.70 L200.89,906.66 L201.35,906.70 L201.82,906.67 L202.28,906.69 L202.74,906.67 L203.21,906.70 L203.67,906.64 L204.13,906.70 L204.60,906.57 L205.06,906.70 L205.52,906.57 L205.99,906.70 L206.45,906.61 L206.91,906.70 L207.38,906.62 L207.84,906.57 L208.30,906.57 L208.77,906.70 L209.23,906.51 L209.69,906.67 L210.16,906.65 L210.62,906.70 L211.08,906.54 L211.55,906.70 L212.01,906.63 L212.48,906.70 L212.94,906.70 L213.40,906.70 L213.87,906.68 L214.33,906.70 L214.79,906.65 L215.26,906.70 L215.72,906.65 L216.18,906.67 L216.65,906.54 L217.11,906.70 L217.57,906.67 L218.04,906.70 L218.50,906.66 L218.96,906.70 L219.43,906.61 L219.89,906.70 L220.35,906.63 L220.82,906.70 L221.28,906.65 L221.74,906.70 L222.21,906.63 L222.67,906.70 L223.14,906.65 L223.60,906.70 L224.06,906.59 L224.53,906.70 L224.99,906.58 L225.45,906.70 L225.92,906.67 L226.38,906.70 L226.84,906.57 L227.31,906.70 L227.77,906.62 L228.23,906.70 L228.70,906.53 L229.16,906.70 L229.62,906.56 L230.09,906.70 L230.55,906.61 L231.01,906.70 L231.48,906.63 L231.94,906.70 L232.41,906.57 L232.87,906.70 L233.33,906.64 L233.80,906.70 L234.26,906.66 L234.72,906.70 L235.19,906.54 L235.65,906.66 L236.11,906.62 L236.58,906.70 L237.04,906.69 L237.50,906.70 L237.97,906.70 L238.43,906.70 L238.89,906.54 L239.36,906.70 L239.82,906.54 L240.28,906.69 L240.75,906.70 L241.21,906.70 L241.67,906.70 L242.14,906.70 L242.60,906.70 L243.07,906.70 L243.53,906.56 L243.99,906.70 L244.46,906.63 L244.92,906.70 L245.38,906.66 L245.85,906.70 L246.31,906.66 L246.77,906.70 L247.24,906.70 L247.70,906.69" fill="none" stroke="#111" stroke-width="1.6" stroke-linejoin="round" opacity="1.0"/><line x1="331.9" y1="55.8" x2="331.9" y2="144.29999999999998" stroke="#111" stroke-width="1.5"/><line x1="331.2" y1="143.6" x2="510.4" y2="143.6" stroke="#111" stroke-width="1.5"/><line x1="327.7" y1="143.60" x2="331.9" y2="143.60" stroke="#111" stroke-width="1.4"/><text transform="translate(316.93,147.15) scale(1.1383,1)" font-size="10.320" fill="#231f20">0</text><line x1="327.7" y1="122.50" x2="331.9" y2="122.50" stroke="#111" stroke-width="1.4"/><text transform="translate(310.39,126.05) scale(1.1383,1)" font-size="10.320" fill="#231f20">20</text><line x1="327.7" y1="101.40" x2="331.9" y2="101.40" stroke="#111" stroke-width="1.4"/><text transform="translate(310.39,104.95) scale(1.1383,1)" font-size="10.320" fill="#231f20">40</text><line x1="327.7" y1="80.30" x2="331.9" y2="80.30" stroke="#111" stroke-width="1.4"/><text transform="translate(310.39,83.85) scale(1.1383,1)" font-size="10.320" fill="#231f20">60</text><line x1="327.7" y1="59.20" x2="331.9" y2="59.20" stroke="#111" stroke-width="1.4"/><text transform="translate(310.39,62.75) scale(1.1383,1)" font-size="10.320" fill="#231f20">80</text><rect x="355.4" y="66.90" width="21.5" height="76.70" fill="#7b7b7b"/><line x1="366.15" y1="66.90" x2="366.15" y2="63.10" stroke="#1e1e1e" stroke-width="1.3"/><line x1="363.95" y1="63.10" x2="368.35" y2="63.10" stroke="#1e1e1e" stroke-width="1.3"/><rect x="392.3" y="110.16" width="21.5" height="33.44" fill="#1a6ec0"/><line x1="403.05" y1="110.16" x2="403.05" y2="105.41" stroke="#1f4f88" stroke-width="1.3"/><line x1="400.85" y1="105.41" x2="405.25" y2="105.41" stroke="#1f4f88" stroke-width="1.3"/><circle cx="403.05" cy="98.80" r="1.25" fill="#1a1a1a"/><rect x="428.1" y="112.06" width="21.5" height="31.54" fill="#a2409c"/><line x1="438.85" y1="112.06" x2="438.85" y2="109.21" stroke="#7a3878" stroke-width="1.3"/><line x1="436.65" y1="109.21" x2="441.05" y2="109.21" stroke="#7a3878" stroke-width="1.3"/><circle cx="438.85" cy="103.00" r="1.25" fill="#1a1a1a"/><rect x="464.4" y="101.19" width="21.5" height="42.41" fill="#12a042"/><line x1="475.15" y1="101.19" x2="475.15" y2="96.86" stroke="#137a3a" stroke-width="1.3"/><line x1="472.95" y1="96.86" x2="477.35" y2="96.86" stroke="#137a3a" stroke-width="1.3"/><circle cx="475.15" cy="90.60" r="1.25" fill="#1a1a1a"/><line x1="331.2" y1="143.6" x2="510.4" y2="143.6" stroke="#111" stroke-width="1.5"/><text transform="translate(388.03,71.70) scale(1.0757,1)" font-size="9.884" fill="#231f20">F4/80</text><text x="414.92" y="67.75" font-size="7.709" fill="#231f20">+</text><text transform="translate(418.67,71.70) scale(1.0757,1)" font-size="9.884" fill="#231f20">: integrin αV</text><text transform="translate(295.90,142.80) rotate(-90) scale(0.7409,1)" font-size="12.936" fill="#231f20" stroke="#231f20" stroke-width="0.45">αV expression (MFI)</text><line x1="331.9" y1="188.0" x2="331.9" y2="277.9" stroke="#111" stroke-width="1.5"/><line x1="331.2" y1="277.2" x2="510.4" y2="277.2" stroke="#111" stroke-width="1.5"/><line x1="327.7" y1="277.20" x2="331.9" y2="277.20" stroke="#111" stroke-width="1.4"/><text transform="translate(316.93,280.75) scale(1.1383,1)" font-size="10.320" fill="#231f20">0</text><line x1="327.7" y1="260.00" x2="331.9" y2="260.00" stroke="#111" stroke-width="1.4"/><text transform="translate(310.39,263.55) scale(1.1383,1)" font-size="10.320" fill="#231f20">20</text><line x1="327.7" y1="242.80" x2="331.9" y2="242.80" stroke="#111" stroke-width="1.4"/><text transform="translate(310.39,246.35) scale(1.1383,1)" font-size="10.320" fill="#231f20">40</text><line x1="327.7" y1="225.60" x2="331.9" y2="225.60" stroke="#111" stroke-width="1.4"/><text transform="translate(310.39,229.15) scale(1.1383,1)" font-size="10.320" fill="#231f20">60</text><line x1="327.7" y1="208.40" x2="331.9" y2="208.40" stroke="#111" stroke-width="1.4"/><text transform="translate(310.39,211.95) scale(1.1383,1)" font-size="10.320" fill="#231f20">80</text><line x1="327.7" y1="191.20" x2="331.9" y2="191.20" stroke="#111" stroke-width="1.4"/><text transform="translate(303.86,194.75) scale(1.1383,1)" font-size="10.320" fill="#231f20">100</text><rect x="355.4" y="207.88" width="21.5" height="69.32" fill="#7b7b7b"/><line x1="366.15" y1="207.88" x2="366.15" y2="201.52" stroke="#1e1e1e" stroke-width="1.3"/><line x1="363.95" y1="201.52" x2="368.35" y2="201.52" stroke="#1e1e1e" stroke-width="1.3"/><rect x="392.3" y="242.63" width="21.5" height="34.57" fill="#1a6ec0"/><line x1="403.05" y1="242.63" x2="403.05" y2="237.04" stroke="#1f4f88" stroke-width="1.3"/><line x1="400.85" y1="237.04" x2="405.25" y2="237.04" stroke="#1f4f88" stroke-width="1.3"/><circle cx="403.05" cy="231.25" r="1.25" fill="#1a1a1a"/><rect x="427.3" y="250.02" width="21.5" height="27.18" fill="#a2409c"/><line x1="438.05" y1="250.02" x2="438.05" y2="246.24" stroke="#7a3878" stroke-width="1.3"/><line x1="435.85" y1="246.24" x2="440.25" y2="246.24" stroke="#7a3878" stroke-width="1.3"/><circle cx="438.05" cy="240.00" r="1.25" fill="#1a1a1a"/><rect x="464.4" y="225.00" width="21.5" height="52.20" fill="#12a042"/><line x1="475.15" y1="225.00" x2="475.15" y2="223.28" stroke="#137a3a" stroke-width="1.3"/><line x1="472.95" y1="223.28" x2="477.35" y2="223.28" stroke="#137a3a" stroke-width="1.3"/><circle cx="475.15" cy="217.50" r="1.25" fill="#1a1a1a"/><line x1="331.2" y1="277.2" x2="510.4" y2="277.2" stroke="#111" stroke-width="1.5"/><text transform="translate(387.88,201.75) scale(1.0757,1)" font-size="9.884" fill="#231f20">F4/80</text><text x="414.77" y="197.80" font-size="7.709" fill="#231f20">+</text><text transform="translate(418.51,201.75) scale(1.0892,1)" font-size="9.884" fill="#231f20">: integrin β3</text><text transform="translate(295.90,274.66) rotate(-90) scale(0.7370,1)" font-size="12.936" fill="#231f20" stroke="#231f20" stroke-width="0.45">β3 expression (MFI)</text><line x1="331.9" y1="321.5" x2="331.9" y2="411.5" stroke="#111" stroke-width="1.5"/><line x1="331.2" y1="410.8" x2="510.4" y2="410.8" stroke="#111" stroke-width="1.5"/><line x1="327.7" y1="410.80" x2="331.9" y2="410.80" stroke="#111" stroke-width="1.4"/><text transform="translate(316.93,414.35) scale(1.1383,1)" font-size="10.320" fill="#231f20">0</text><line x1="327.7" y1="398.56" x2="331.9" y2="398.56" stroke="#111" stroke-width="1.4"/><text transform="translate(307.26,402.11) scale(1.1383,1)" font-size="10.320" fill="#231f20">0.2</text><line x1="327.7" y1="386.32" x2="331.9" y2="386.32" stroke="#111" stroke-width="1.4"/><text transform="translate(307.01,389.87) scale(1.1383,1)" font-size="10.320" fill="#231f20">0.4</text><line x1="327.7" y1="374.08" x2="331.9" y2="374.08" stroke="#111" stroke-width="1.4"/><text transform="translate(307.19,377.63) scale(1.1383,1)" font-size="10.320" fill="#231f20">0.6</text><line x1="327.7" y1="361.84" x2="331.9" y2="361.84" stroke="#111" stroke-width="1.4"/><text transform="translate(307.18,365.39) scale(1.1383,1)" font-size="10.320" fill="#231f20">0.8</text><line x1="327.7" y1="349.60" x2="331.9" y2="349.60" stroke="#111" stroke-width="1.4"/><text transform="translate(307.13,353.15) scale(1.1383,1)" font-size="10.320" fill="#231f20">1.0</text><line x1="327.7" y1="337.36" x2="331.9" y2="337.36" stroke="#111" stroke-width="1.4"/><text transform="translate(307.26,340.91) scale(1.1383,1)" font-size="10.320" fill="#231f20">1.2</text><line x1="327.7" y1="325.12" x2="331.9" y2="325.12" stroke="#111" stroke-width="1.4"/><text transform="translate(307.01,328.67) scale(1.1383,1)" font-size="10.320" fill="#231f20">1.4</text><rect x="355.2" y="350.21" width="21.5" height="60.59" fill="#7b7b7b"/><line x1="365.95" y1="350.21" x2="365.95" y2="339.99" stroke="#1e1e1e" stroke-width="1.3"/><line x1="363.75" y1="339.99" x2="368.15" y2="339.99" stroke="#1e1e1e" stroke-width="1.3"/><line x1="365.95" y1="410.8" x2="365.95" y2="415.00" stroke="#111" stroke-width="1.2"/><rect x="389.8" y="394.09" width="21.5" height="16.71" fill="#1a6ec0"/><line x1="400.55" y1="394.09" x2="400.55" y2="391.58" stroke="#1f4f88" stroke-width="1.3"/><line x1="398.35" y1="391.58" x2="402.75" y2="391.58" stroke="#1f4f88" stroke-width="1.3"/><circle cx="400.55" cy="385.00" r="1.25" fill="#1a1a1a"/><line x1="400.55" y1="410.8" x2="400.55" y2="415.00" stroke="#111" stroke-width="1.2"/><rect x="426.6" y="398.56" width="21.5" height="12.24" fill="#a2409c"/><line x1="437.35" y1="398.56" x2="437.35" y2="396.60" stroke="#7a3878" stroke-width="1.3"/><line x1="435.15" y1="396.60" x2="439.55" y2="396.60" stroke="#7a3878" stroke-width="1.3"/><circle cx="437.35" cy="390.50" r="1.25" fill="#1a1a1a"/><line x1="437.35" y1="410.8" x2="437.35" y2="415.00" stroke="#111" stroke-width="1.2"/><rect x="463.6" y="400.40" width="21.5" height="10.40" fill="#12a042"/><line x1="474.35" y1="400.40" x2="474.35" y2="398.38" stroke="#137a3a" stroke-width="1.3"/><line x1="472.15" y1="398.38" x2="476.55" y2="398.38" stroke="#137a3a" stroke-width="1.3"/><circle cx="474.35" cy="392.50" r="1.25" fill="#1a1a1a"/><line x1="474.35" y1="410.8" x2="474.35" y2="415.00" stroke="#111" stroke-width="1.2"/><line x1="331.2" y1="410.8" x2="510.4" y2="410.8" stroke="#111" stroke-width="1.5"/><text transform="translate(388.38,333.00) scale(1.0757,1)" font-size="9.884" fill="#231f20">F4/80</text><text x="415.27" y="329.05" font-size="7.709" fill="#231f20">+</text><text transform="translate(419.03,333.00) scale(1.0670,1)" font-size="9.884" fill="#231f20">: αVβ3 activation</text><text transform="translate(280.80,387.97) rotate(-90) scale(0.7229,1)" font-size="12.936" fill="#231f20" stroke="#231f20" stroke-width="0.45">Fg binding</text><text transform="translate(295.60,394.09) rotate(-90) scale(0.7308,1)" font-size="12.936" fill="#231f20" stroke="#231f20" stroke-width="0.45">(relative MFI)</text><text transform="translate(370.15,423.80) rotate(-45) scale(1.08,1)" font-size="10.32" text-anchor="end" fill="#231f20" stroke="#231f20" stroke-width="0.2">K3WT</text><text transform="translate(404.75,423.80) rotate(-45) scale(1.08,1)" font-size="10.32" text-anchor="end" fill="#231f20" stroke="#231f20" stroke-width="0.2">K3KO\EpoR-cre</text><text transform="translate(441.55,423.80) rotate(-45) scale(1.08,1)" font-size="10.32" text-anchor="end" fill="#231f20" stroke="#231f20" stroke-width="0.2">K3KO\Lyz2-cre</text><text transform="translate(478.55,423.80) rotate(-45) scale(1.08,1)" font-size="10.32" text-anchor="end" fill="#231f20" stroke="#231f20" stroke-width="0.2">K3KI</text><line x1="331.9" y1="528.1" x2="331.9" y2="625.7" stroke="#111" stroke-width="1.5"/><line x1="331.2" y1="625.0" x2="510.4" y2="625.0" stroke="#111" stroke-width="1.5"/><line x1="327.7" y1="625.00" x2="331.9" y2="625.00" stroke="#111" stroke-width="1.4"/><text transform="translate(316.93,628.55) scale(1.1383,1)" font-size="10.320" fill="#231f20">0</text><line x1="327.7" y1="606.46" x2="331.9" y2="606.46" stroke="#111" stroke-width="1.4"/><text transform="translate(310.39,610.01) scale(1.1383,1)" font-size="10.320" fill="#231f20">40</text><line x1="327.7" y1="587.92" x2="331.9" y2="587.92" stroke="#111" stroke-width="1.4"/><text transform="translate(310.39,591.47) scale(1.1383,1)" font-size="10.320" fill="#231f20">80</text><line x1="327.7" y1="569.38" x2="331.9" y2="569.38" stroke="#111" stroke-width="1.4"/><text transform="translate(303.86,572.93) scale(1.1383,1)" font-size="10.320" fill="#231f20">120</text><line x1="327.7" y1="550.84" x2="331.9" y2="550.84" stroke="#111" stroke-width="1.4"/><text transform="translate(303.86,554.39) scale(1.1383,1)" font-size="10.320" fill="#231f20">160</text><line x1="327.7" y1="532.30" x2="331.9" y2="532.30" stroke="#111" stroke-width="1.4"/><text transform="translate(303.86,535.85) scale(1.1383,1)" font-size="10.320" fill="#231f20">200</text><rect x="354.6" y="547.92" width="21.5" height="77.08" fill="#7b7b7b"/><line x1="365.35" y1="547.92" x2="365.35" y2="545.60" stroke="#1e1e1e" stroke-width="1.3"/><line x1="363.15" y1="545.60" x2="367.55" y2="545.60" stroke="#1e1e1e" stroke-width="1.3"/><rect x="390.9" y="583.28" width="21.5" height="41.72" fill="#1a6ec0"/><line x1="401.65" y1="583.28" x2="401.65" y2="581.25" stroke="#1f4f88" stroke-width="1.3"/><line x1="399.45" y1="581.25" x2="403.85" y2="581.25" stroke="#1f4f88" stroke-width="1.3"/><circle cx="401.65" cy="575.75" r="1.25" fill="#1a1a1a"/><rect x="428.1" y="557.00" width="21.5" height="68.00" fill="#a2409c"/><line x1="438.85" y1="557.00" x2="438.85" y2="555.48" stroke="#7a3878" stroke-width="1.3"/><line x1="436.65" y1="555.48" x2="441.05" y2="555.48" stroke="#7a3878" stroke-width="1.3"/><circle cx="438.85" cy="549.25" r="1.25" fill="#1a1a1a"/><rect x="463.9" y="569.98" width="21.5" height="55.02" fill="#12a042"/><line x1="474.65" y1="569.98" x2="474.65" y2="567.02" stroke="#137a3a" stroke-width="1.3"/><line x1="472.45" y1="567.02" x2="476.85" y2="567.02" stroke="#137a3a" stroke-width="1.3"/><circle cx="474.65" cy="561.25" r="1.25" fill="#1a1a1a"/><line x1="331.2" y1="625.0" x2="510.4" y2="625.0" stroke="#111" stroke-width="1.5"/><text transform="translate(389.29,535.50) scale(0.9632,1)" font-size="9.884" fill="#231f20">Ter119</text><text x="419.12" y="531.55" font-size="7.709" fill="#231f20">+</text><text transform="translate(422.85,535.50) scale(1.0983,1)" font-size="9.884" fill="#231f20">: integrin α4</text><text transform="translate(296.20,620.21) rotate(-90) scale(0.7546,1)" font-size="12.936" fill="#231f20" stroke="#231f20" stroke-width="0.45">α4 expression (MFI)</text><line x1="331.9" y1="659.2" x2="331.9" y2="749.2" stroke="#111" stroke-width="1.5"/><line x1="331.2" y1="748.5" x2="510.4" y2="748.5" stroke="#111" stroke-width="1.5"/><line x1="327.7" y1="748.50" x2="331.9" y2="748.50" stroke="#111" stroke-width="1.4"/><text transform="translate(316.93,752.05) scale(1.1383,1)" font-size="10.320" fill="#231f20">0</text><line x1="327.7" y1="731.42" x2="331.9" y2="731.42" stroke="#111" stroke-width="1.4"/><text transform="translate(310.39,734.97) scale(1.1383,1)" font-size="10.320" fill="#231f20">50</text><line x1="327.7" y1="714.34" x2="331.9" y2="714.34" stroke="#111" stroke-width="1.4"/><text transform="translate(303.86,717.89) scale(1.1383,1)" font-size="10.320" fill="#231f20">100</text><line x1="327.7" y1="697.26" x2="331.9" y2="697.26" stroke="#111" stroke-width="1.4"/><text transform="translate(303.86,700.81) scale(1.1383,1)" font-size="10.320" fill="#231f20">150</text><line x1="327.7" y1="680.18" x2="331.9" y2="680.18" stroke="#111" stroke-width="1.4"/><text transform="translate(303.86,683.73) scale(1.1383,1)" font-size="10.320" fill="#231f20">200</text><line x1="327.7" y1="663.10" x2="331.9" y2="663.10" stroke="#111" stroke-width="1.4"/><text transform="translate(303.86,666.65) scale(1.1383,1)" font-size="10.320" fill="#231f20">250</text><rect x="354.6" y="685.20" width="21.5" height="63.30" fill="#7b7b7b"/><line x1="365.35" y1="685.20" x2="365.35" y2="683.12" stroke="#1e1e1e" stroke-width="1.3"/><line x1="363.15" y1="683.12" x2="367.55" y2="683.12" stroke="#1e1e1e" stroke-width="1.3"/><rect x="390.9" y="700.92" width="21.5" height="47.58" fill="#1a6ec0"/><line x1="401.65" y1="700.92" x2="401.65" y2="697.50" stroke="#1f4f88" stroke-width="1.3"/><line x1="399.45" y1="697.50" x2="403.85" y2="697.50" stroke="#1f4f88" stroke-width="1.3"/><circle cx="401.65" cy="691.25" r="1.25" fill="#1a1a1a"/><rect x="428.1" y="705.49" width="21.5" height="43.01" fill="#a2409c"/><line x1="438.85" y1="705.49" x2="438.85" y2="703.75" stroke="#7a3878" stroke-width="1.3"/><line x1="436.65" y1="703.75" x2="441.05" y2="703.75" stroke="#7a3878" stroke-width="1.3"/><circle cx="438.85" cy="697.50" r="1.25" fill="#1a1a1a"/><rect x="463.9" y="696.51" width="21.5" height="51.99" fill="#12a042"/><line x1="474.65" y1="696.51" x2="474.65" y2="694.01" stroke="#137a3a" stroke-width="1.3"/><line x1="472.45" y1="694.01" x2="476.85" y2="694.01" stroke="#137a3a" stroke-width="1.3"/><circle cx="474.65" cy="688.00" r="1.25" fill="#1a1a1a"/><line x1="331.2" y1="748.5" x2="510.4" y2="748.5" stroke="#111" stroke-width="1.5"/><text transform="translate(389.29,672.00) scale(0.9632,1)" font-size="9.884" fill="#231f20">Ter119</text><text x="419.12" y="668.05" font-size="7.709" fill="#231f20">+</text><text transform="translate(422.92,672.00) scale(1.0264,1)" font-size="9.884" fill="#231f20">: integrin β1 (total)</text><text transform="translate(296.20,742.36) rotate(-90) scale(0.7414,1)" font-size="12.936" fill="#231f20" stroke="#231f20" stroke-width="0.45">β1 expression (MFI)</text><line x1="331.9" y1="782.9" x2="331.9" y2="872.7" stroke="#111" stroke-width="1.5"/><line x1="331.2" y1="872.0" x2="510.4" y2="872.0" stroke="#111" stroke-width="1.5"/><line x1="327.7" y1="872.00" x2="331.9" y2="872.00" stroke="#111" stroke-width="1.4"/><text transform="translate(307.13,875.55) scale(1.1383,1)" font-size="10.320" fill="#231f20">0.0</text><line x1="327.7" y1="859.81" x2="331.9" y2="859.81" stroke="#111" stroke-width="1.4"/><text transform="translate(307.26,863.36) scale(1.1383,1)" font-size="10.320" fill="#231f20">0.2</text><line x1="327.7" y1="847.63" x2="331.9" y2="847.63" stroke="#111" stroke-width="1.4"/><text transform="translate(307.01,851.18) scale(1.1383,1)" font-size="10.320" fill="#231f20">0.4</text><line x1="327.7" y1="835.44" x2="331.9" y2="835.44" stroke="#111" stroke-width="1.4"/><text transform="translate(307.19,838.99) scale(1.1383,1)" font-size="10.320" fill="#231f20">0.6</text><line x1="327.7" y1="823.26" x2="331.9" y2="823.26" stroke="#111" stroke-width="1.4"/><text transform="translate(307.18,826.81) scale(1.1383,1)" font-size="10.320" fill="#231f20">0.8</text><line x1="327.7" y1="811.07" x2="331.9" y2="811.07" stroke="#111" stroke-width="1.4"/><text transform="translate(307.13,814.62) scale(1.1383,1)" font-size="10.320" fill="#231f20">1.0</text><line x1="327.7" y1="798.88" x2="331.9" y2="798.88" stroke="#111" stroke-width="1.4"/><text transform="translate(307.26,802.43) scale(1.1383,1)" font-size="10.320" fill="#231f20">1.2</text><line x1="327.7" y1="786.70" x2="331.9" y2="786.70" stroke="#111" stroke-width="1.4"/><text transform="translate(307.01,790.25) scale(1.1383,1)" font-size="10.320" fill="#231f20">1.4</text><rect x="355.4" y="811.19" width="21.5" height="60.81" fill="#7b7b7b"/><line x1="366.15" y1="811.19" x2="366.15" y2="804.61" stroke="#1e1e1e" stroke-width="1.3"/><line x1="363.95" y1="804.61" x2="368.35" y2="804.61" stroke="#1e1e1e" stroke-width="1.3"/><line x1="366.15" y1="872.0" x2="366.15" y2="876.20" stroke="#111" stroke-width="1.2"/><rect x="392.3" y="829.96" width="21.5" height="42.04" fill="#1a6ec0"/><line x1="403.05" y1="829.96" x2="403.05" y2="826.24" stroke="#1f4f88" stroke-width="1.3"/><line x1="400.85" y1="826.24" x2="405.25" y2="826.24" stroke="#1f4f88" stroke-width="1.3"/><circle cx="403.05" cy="820.00" r="1.25" fill="#1a1a1a"/><line x1="403.05" y1="872.0" x2="403.05" y2="876.20" stroke="#111" stroke-width="1.2"/><rect x="428.1" y="828.01" width="21.5" height="43.99" fill="#a2409c"/><line x1="438.85" y1="828.01" x2="438.85" y2="824.23" stroke="#7a3878" stroke-width="1.3"/><line x1="436.65" y1="824.23" x2="441.05" y2="824.23" stroke="#7a3878" stroke-width="1.3"/><circle cx="438.85" cy="818.00" r="1.25" fill="#1a1a1a"/><line x1="438.85" y1="872.0" x2="438.85" y2="876.20" stroke="#111" stroke-width="1.2"/><rect x="464.4" y="823.74" width="21.5" height="48.26" fill="#12a042"/><line x1="475.15" y1="823.74" x2="475.15" y2="818.75" stroke="#137a3a" stroke-width="1.3"/><line x1="472.95" y1="818.75" x2="477.35" y2="818.75" stroke="#137a3a" stroke-width="1.3"/><circle cx="475.15" cy="812.50" r="1.25" fill="#1a1a1a"/><line x1="475.15" y1="872.0" x2="475.15" y2="876.20" stroke="#111" stroke-width="1.2"/><line x1="331.2" y1="872.0" x2="510.4" y2="872.0" stroke="#111" stroke-width="1.5"/><text transform="translate(389.29,798.00) scale(0.9632,1)" font-size="9.884" fill="#231f20">Ter119</text><text x="419.12" y="794.05" font-size="7.709" fill="#231f20">+</text><text transform="translate(422.87,798.00) scale(1.0758,1)" font-size="9.884" fill="#231f20">: β1 activation</text><text transform="translate(280.80,854.42) rotate(-90) scale(0.6952,1)" font-size="12.936" fill="#231f20" stroke="#231f20" stroke-width="0.45">9EG7 binding</text><text transform="translate(295.80,855.70) rotate(-90) scale(0.7469,1)" font-size="12.936" fill="#231f20" stroke="#231f20" stroke-width="0.45">(relative MFI)</text><text transform="translate(370.35,885.00) rotate(-45) scale(1.08,1)" font-size="10.32" text-anchor="end" fill="#231f20" stroke="#231f20" stroke-width="0.2">K3WT</text><text transform="translate(407.25,885.00) rotate(-45) scale(1.08,1)" font-size="10.32" text-anchor="end" fill="#231f20" stroke="#231f20" stroke-width="0.2">K3KO\EpoR-cre</text><text transform="translate(443.05,885.00) rotate(-45) scale(1.08,1)" font-size="10.32" text-anchor="end" fill="#231f20" stroke="#231f20" stroke-width="0.2">K3KO\Lyz2-cre</text><text transform="translate(479.35,885.00) rotate(-45) scale(1.08,1)" font-size="10.32" text-anchor="end" fill="#231f20" stroke="#231f20" stroke-width="0.2">K3KI</text>
</g>
<rect x="0.5" y="0.5" width="519" height="951" fill="none" stroke="#1e1e1e" stroke-width="1"/>
</svg></body></html>
